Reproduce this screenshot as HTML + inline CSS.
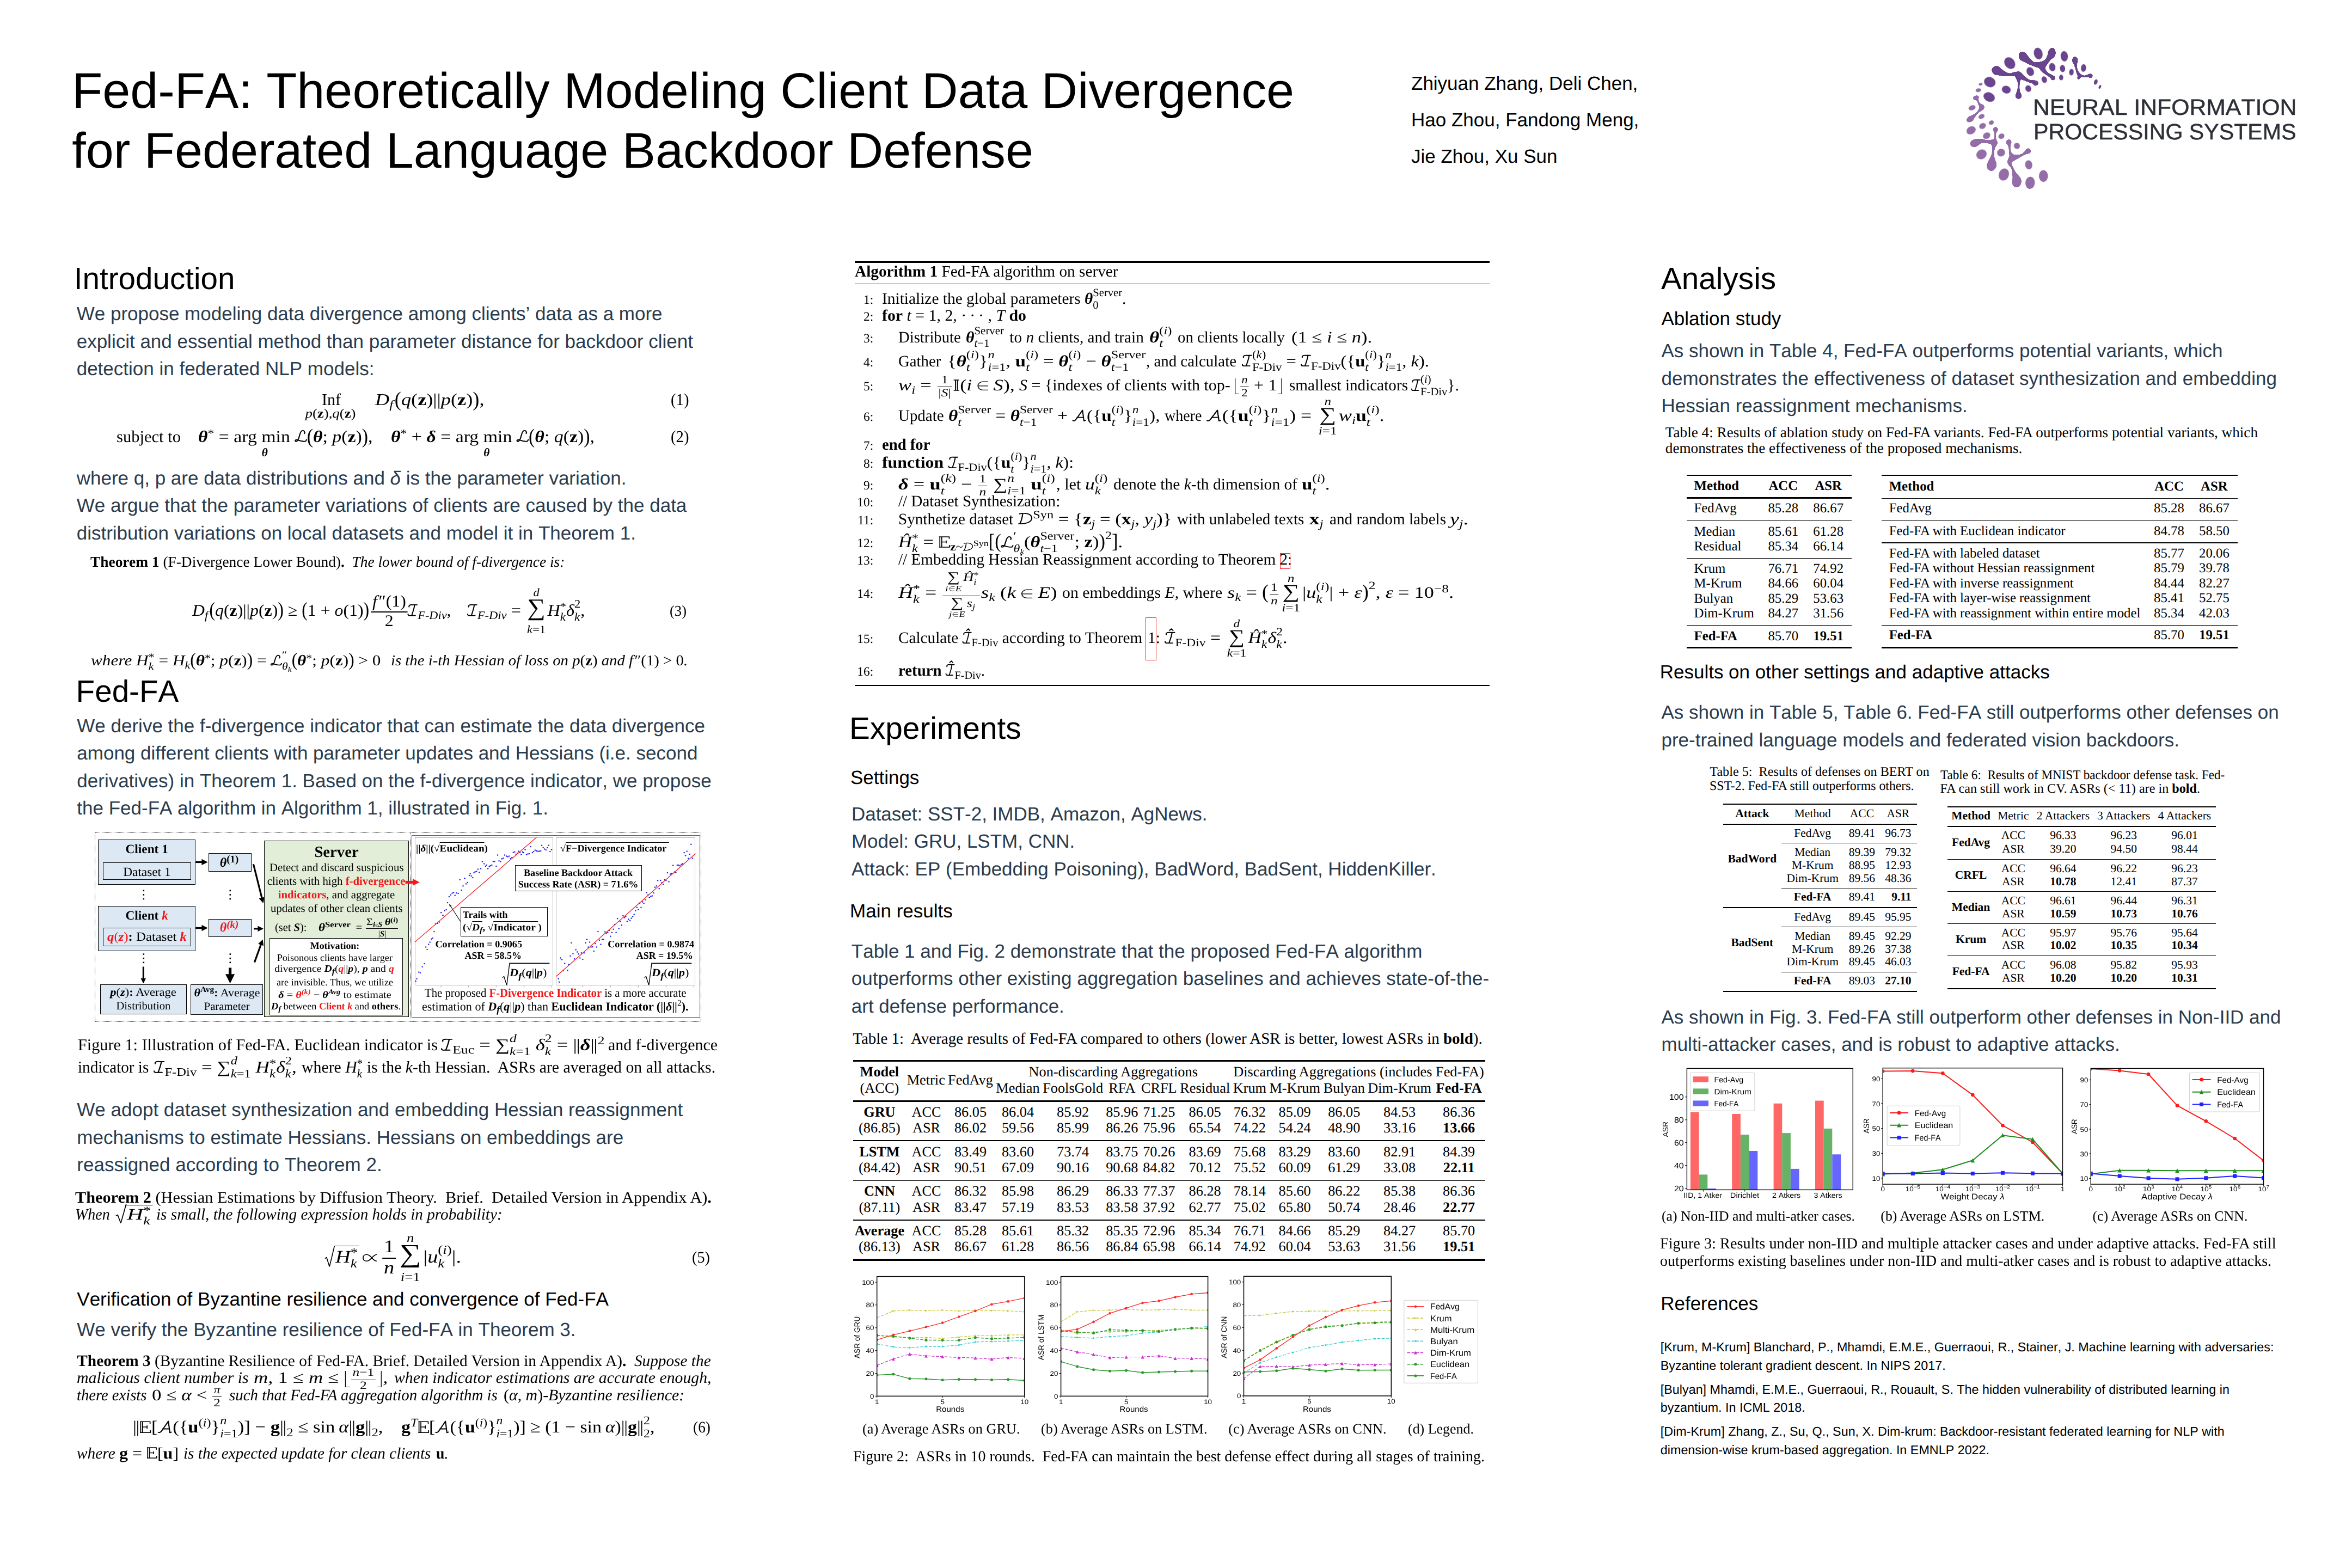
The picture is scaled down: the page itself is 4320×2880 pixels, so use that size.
<!DOCTYPE html>
<html lang="en">
<head>
<meta charset="utf-8">
<title>Fed-FA: Theoretically Modeling Client Data Divergence for Federated Language Backdoor Defense</title>
<style>
html,body{margin:0;padding:0;background:#fff}
#p{font-kerning:none;text-rendering:geometricPrecision;position:relative;width:4320px;height:2880px;overflow:hidden;background:#fff;font-family:"Liberation Sans",sans-serif;color:#000}
.t{position:absolute;white-space:nowrap;line-height:1;transform-origin:0 0}
.t::before{content:"";display:inline-block;height:200px;width:0}
.r{position:absolute}
.s{font-family:"Liberation Serif",serif;font-kerning:normal}
.d{color:#2a3c4e}
b,.bf{font-weight:bold}
i,.it{font-style:italic}
.n{font-style:normal;font-weight:normal}
svg.A{position:absolute;overflow:visible}
svg text{font-family:"Liberation Sans",sans-serif}
/* ---- math helpers ---- */
.m{font-style:italic}
.u{font-style:normal;font-weight:bold}
.bi{font-style:italic;font-weight:bold}
sub,sup{font-size:70%;line-height:0;position:relative;vertical-align:baseline;font-weight:normal}
sup{top:-.52em}
sub{top:.3em}
.ss{display:inline-block;font-size:70%;line-height:1.12;vertical-align:-.42em;text-align:left;font-weight:normal}
.ss>span{display:block}
.fr{display:inline-block;vertical-align:middle;text-align:center;font-size:70%;line-height:1;margin:0 .07em;font-style:normal}
.fr>span{display:block;padding:0 .08em}
.fr>span:first-child{border-bottom:.075em solid #000;padding-bottom:.1em}
.fr>span:last-child{padding-top:.04em}
.op{display:inline-block;text-align:center;vertical-align:-.85em;line-height:1;margin:0 .1em}
.op>span{display:block;font-size:70%;line-height:.724}
.op>.os{font-size:121%;line-height:.9;font-style:normal}
.op>span:last-child{line-height:1.365}
.op.D{vertical-align:-1.05em}
.op.D>span{line-height:.76}
.op.D>.os{font-size:146%;line-height:.9}
.op.D>span:last-child{line-height:1.856}
.lf,.rf{display:inline-block;width:.2em;height:.98em;border-bottom:.06em solid #000;vertical-align:-.25em}
.lf{border-left:.06em solid #000;margin:0 .04em 0 .06em}
.rf{border-right:.06em solid #000;margin:0 .06em 0 .04em}
.bb{position:relative;font-style:normal}
.bb::after{content:"";position:absolute;left:.2em;top:.2em;bottom:.19em;border-left:.05em solid #000}
.sq{position:relative;padding:0 .06em 0 .03em}
.sq::before{content:"";position:absolute;left:-.04em;right:0;top:-.085em;border-top:.055em solid #000}
.st{position:relative;top:.22em}
svg.g{display:inline-block;position:static;overflow:visible;fill:none;stroke:#000}
svg.c{height:1em;vertical-align:-.27em;stroke-linejoin:round}
.big{display:inline-block;transform:scaleY(1.25);transform-origin:50% 62%;font-style:normal}
.sp{display:inline-block}
.nb{font-style:normal;font-weight:normal;letter-spacing:-.04em;margin-right:.04em}

</style>
</head>
<body>
<div id="p">
<div class="t" style="left:132.2px;top:-1.8px;font-size:91.8px;">Fed-FA: Theoretically Modeling Client Data Divergence</div>
<div class="t" style="left:132.2px;top:107.9px;font-size:91.8px;">for Federated Language Backdoor Defense</div>
<div class="t" style="left:2592.0px;top:-35.0px;font-size:35px;">Zhiyuan Zhang, Deli Chen,</div>
<div class="t" style="left:2592.0px;top:31.8px;font-size:35px;">Hao Zhou, Fandong Meng,</div>
<div class="t" style="left:2592.0px;top:98.5px;font-size:35px;">Jie Zhou, Xu Sun</div>
<div class="t" style="left:135.8px;top:331.2px;font-size:56.6px;">Introduction</div>
<div class="t d" style="left:140.7px;top:388.2px;font-size:35px;">We propose modeling data divergence among clients&rsquo; data as a more</div>
<div class="t d" style="left:140.7px;top:438.7px;font-size:35px;">explicit and essential method than parameter distance for backdoor client</div>
<div class="t d" style="left:140.7px;top:489.1px;font-size:35px;">detection in federated NLP models:</div>
<div class="t d" style="left:140.7px;top:690.0px;font-size:35px;">where q, p are data distributions and <i>&delta;</i> is the parameter variation.</div>
<div class="t d" style="left:140.7px;top:740.4px;font-size:35px;">We argue that the parameter variations of clients are caused by the data</div>
<div class="t d" style="left:140.7px;top:790.8px;font-size:35px;">distribution variations on local datasets and model it in Theorem 1.</div>
<div class="t" style="left:139.6px;top:1089.0px;font-size:56.6px;">Fed-FA</div>
<div class="t d" style="left:141.3px;top:1144.5px;font-size:35px;">We derive the f-divergence indicator that can estimate the data divergence</div>
<div class="t d" style="left:141.3px;top:1195.0px;font-size:35px;">among different clients with parameter updates and Hessians (i.e. second</div>
<div class="t d" style="left:141.3px;top:1245.5px;font-size:35px;">derivatives) in Theorem 1. Based on the f-divergence indicator, we propose</div>
<div class="t d" style="left:141.3px;top:1296.0px;font-size:35px;">the Fed-FA algorithm in Algorithm 1, illustrated in Fig. 1.</div>
<div class="t d" style="left:141.3px;top:1850.4px;font-size:35px;">We adopt dataset synthesization and embedding Hessian reassignment</div>
<div class="t d" style="left:141.3px;top:1900.9px;font-size:35px;">mechanisms to estimate Hessians. Hessians on embeddings are</div>
<div class="t d" style="left:141.3px;top:1951.4px;font-size:35px;">reassigned according to Theorem 2.</div>
<div class="t" style="left:141.3px;top:2198.3px;font-size:35px;">Verification of Byzantine resilience and convergence of Fed-FA</div>
<div class="t d" style="left:141.3px;top:2253.7px;font-size:35px;">We verify the Byzantine resilience of Fed-FA in Theorem 3.</div>
<div class="t" style="left:1560.0px;top:1157.1px;font-size:56.8px;">Experiments</div>
<div class="t" style="left:1561.9px;top:1240.0px;font-size:35px;">Settings</div>
<div class="t d" style="left:1563.9px;top:1306.8px;font-size:35px;">Dataset: SST-2, IMDB, Amazon, AgNews.</div>
<div class="t d" style="left:1563.9px;top:1357.3px;font-size:35px;">Model: GRU, LSTM, CNN.</div>
<div class="t d" style="left:1563.9px;top:1407.8px;font-size:35px;">Attack: EP (Embedding Poisoning), BadWord, BadSent, HiddenKiller.</div>
<div class="t" style="left:1561.1px;top:1484.9px;font-size:35px;">Main results</div>
<div class="t d" style="left:1563.8px;top:1558.9px;font-size:35px;">Table 1 and Fig. 2 demonstrate that the proposed Fed-FA algorithm</div>
<div class="t d" style="left:1563.8px;top:1609.3px;font-size:35px;">outperforms other existing aggregation baselines and achieves state-of-the-</div>
<div class="t d" style="left:1563.8px;top:1659.7px;font-size:35px;">art defense performance.</div>
<div class="t" style="left:3051.0px;top:331.2px;font-size:56.7px;">Analysis</div>
<div class="t" style="left:3051.5px;top:396.8px;font-size:35px;">Ablation study</div>
<div class="t d" style="left:3051.5px;top:456.2px;font-size:35px;">As shown in Table 4, Fed-FA outperforms potential variants, which</div>
<div class="t d" style="left:3051.5px;top:506.5px;font-size:35px;">demonstrates the effectiveness of dataset synthesization and embedding</div>
<div class="t d" style="left:3051.5px;top:557.0px;font-size:35px;">Hessian reassignment mechanisms.</div>
<div class="t" style="left:3048.7px;top:1046.3px;font-size:35px;">Results on other settings and adaptive attacks</div>
<div class="t d" style="left:3051.5px;top:1119.8px;font-size:35px;">As shown in Table 5, Table 6. Fed-FA still outperforms other defenses on</div>
<div class="t d" style="left:3051.5px;top:1170.5px;font-size:35px;">pre-trained language models and federated vision backdoors.</div>
<div class="t d" style="left:3051.5px;top:1679.8px;font-size:35px;">As shown in Fig. 3. Fed-FA still outperform other defenses in Non-IID and</div>
<div class="t d" style="left:3051.5px;top:1730.1px;font-size:35px;">multi-attacker cases, and is robust to adaptive attacks.</div>
<div class="t" style="left:3050.2px;top:2206.3px;font-size:35px;">References</div>
<div class="t" style="left:3049.8px;top:2282.1px;font-size:23.33px;">[Krum, M-Krum] Blanchard, P., Mhamdi, E.M.E., Guerraoui, R., Stainer, J. Machine learning with adversaries:</div>
<div class="t" style="left:3049.8px;top:2315.8px;font-size:23.33px;">Byzantine tolerant gradient descent. In NIPS 2017.</div>
<div class="t" style="left:3049.8px;top:2359.5px;font-size:23.33px;">[Bulyan] Mhamdi, E.M.E., Guerraoui, R., Rouault, S. The hidden vulnerability of distributed learning in</div>
<div class="t" style="left:3049.8px;top:2393.2px;font-size:23.33px;">byzantium. In ICML 2018.</div>
<div class="t" style="left:3049.8px;top:2436.8px;font-size:23.33px;">[Dim-Krum] Zhang, Z., Su, Q., Sun, X. Dim-krum: Backdoor-resistant federated learning for NLP with</div>
<div class="t" style="left:3049.8px;top:2470.6px;font-size:23.33px;">dimension-wise krum-based aggregation. In EMNLP 2022.</div>
<svg class="A" width="4320" height="2880" viewBox="0 0 4320 2880" style="left:0;top:0">
<defs><filter id="goo" x="-10%" y="-10%" width="120%" height="120%" color-interpolation-filters="sRGB"><feGaussianBlur in="SourceGraphic" stdDeviation="7"/><feColorMatrix type="matrix" values="1 0 0 0 0  0 1 0 0 0  0 0 1 0 0  0 0 0 9 -4"/></filter></defs>
<g transform="translate(3590 70) scale(0.12755)">
<g fill="#6a448e" filter="url(#goo)"><ellipse cx="988" cy="266" rx="62" ry="76" transform="rotate(-35 988 266)"/><ellipse cx="1400" cy="218" rx="56" ry="80" transform="rotate(8 1400 218)"/><path d="M947 312L952 314L959 318L967 323L975 328L985 333L995 339L1005 345L1015 350L1025 356L1034 360L1041 364L1049 368L1057 371L1064 375L1072 378L1080 382L1088 385L1096 389L1105 392L1113 396L1122 399L1130 402L1139 406L1147 409L1156 412L1164 415L1172 418L1180 420L1188 423L1196 425L1204 427L1213 429L1222 430L1230 431L1239 433L1246 434L1253 435L1259 436L1263 436L1266 437L1264 333L1260 334L1254 335L1248 336L1242 338L1236 339L1229 341L1223 342L1216 344L1210 345L1204 345L1198 346L1191 346L1184 346L1176 347L1169 346L1162 346L1155 345L1149 344L1142 343L1137 340L1132 338L1127 334L1122 330L1117 325L1113 320L1108 315L1103 309L1098 303L1092 296L1086 290L1080 283L1074 276L1066 268L1059 260L1052 251L1045 243L1038 236L1032 229L1027 223L1023 218Z"/><circle cx="985" cy="265" r="60"/><circle cx="1265" cy="385" r="52"/><path d="M1299 428L1301 424L1305 419L1309 413L1314 406L1320 398L1326 390L1332 382L1338 373L1345 365L1350 358L1356 350L1361 343L1366 336L1371 329L1375 323L1380 317L1384 311L1388 306L1393 300L1397 296L1402 290L1407 285L1413 279L1418 274L1424 268L1429 264L1435 259L1439 255L1443 252L1446 249L1354 191L1353 195L1352 200L1350 206L1348 212L1346 219L1344 226L1341 234L1339 241L1336 248L1333 254L1330 261L1327 268L1324 275L1321 281L1318 287L1315 293L1311 299L1308 304L1304 308L1300 312L1295 316L1288 320L1281 325L1273 329L1265 333L1257 336L1249 340L1242 343L1236 346L1231 348Z"/><circle cx="1265" cy="388" r="52"/><circle cx="1400" cy="220" r="54"/><path d="M1207 420L1209 422L1213 426L1217 432L1222 439L1227 446L1233 454L1239 463L1245 471L1252 479L1259 487L1266 493L1273 499L1280 505L1287 510L1294 514L1301 519L1308 523L1315 527L1321 532L1327 536L1333 540L1340 544L1346 549L1352 553L1358 557L1364 560L1369 564L1373 567L1377 570L1380 573L1382 576L1384 578L1386 581L1387 583L1388 586L1389 588L1390 591L1391 593L1392 596L1394 598L1442 550L1441 550L1440 549L1438 548L1435 546L1432 544L1428 542L1424 539L1420 537L1415 534L1410 531L1405 528L1399 525L1393 522L1387 520L1381 517L1375 514L1369 511L1363 508L1358 504L1353 500L1348 496L1343 491L1337 486L1332 481L1328 476L1323 470L1319 465L1316 460L1313 454L1311 449L1310 444L1309 438L1308 431L1307 423L1306 415L1306 407L1305 400L1305 393L1304 386L1303 380Z"/><circle cx="1255" cy="400" r="52"/><circle cx="1418" cy="574" r="34"/><ellipse cx="607" cy="468" rx="74" ry="66" transform="rotate(25 607 468)"/><path d="M582 525L587 526L595 527L604 529L615 532L626 534L639 537L651 539L664 542L676 544L687 546L698 547L708 548L719 549L729 549L740 550L750 550L760 550L770 550L779 550L789 550L798 550L807 549L816 549L824 548L832 547L839 547L846 547L852 547L857 547L862 548L867 549L873 551L879 552L886 555L892 557L898 559L904 561L909 563L914 565L918 566L926 478L922 479L918 479L912 480L906 481L899 482L891 483L883 484L875 485L867 487L858 488L850 490L842 492L835 495L828 498L822 501L815 503L809 505L803 506L797 506L791 506L784 505L777 503L769 500L761 497L753 493L745 489L737 484L729 479L720 475L713 470L705 465L697 459L688 453L679 446L669 439L660 432L652 426L644 420L638 415L632 411Z"/><circle cx="607" cy="468" r="62"/><circle cx="922" cy="522" r="44"/><path d="M904 570L910 572L917 575L925 579L934 583L945 587L955 592L966 597L976 601L987 605L996 609L1004 613L1012 616L1021 619L1029 622L1036 625L1044 628L1052 631L1059 633L1066 636L1073 639L1080 641L1087 644L1094 646L1100 648L1106 650L1112 652L1117 653L1121 655L1124 657L1127 659L1129 661L1132 663L1134 665L1137 668L1139 671L1141 673L1143 676L1145 678L1148 681L1150 683L1186 613L1184 613L1182 613L1179 613L1175 612L1171 611L1166 610L1161 609L1155 607L1150 606L1143 605L1137 605L1131 604L1125 604L1119 604L1113 605L1108 605L1103 604L1097 604L1092 603L1087 601L1081 599L1075 596L1069 593L1063 589L1057 585L1050 581L1044 576L1037 571L1031 566L1024 561L1018 555L1010 548L1002 541L995 533L987 525L979 518L972 510L966 504L960 498L956 494Z"/><circle cx="930" cy="532" r="46"/><circle cx="1168" cy="648" r="39"/><path d="M879 562L881 568L884 574L887 582L891 591L895 601L899 611L902 621L906 631L908 641L910 650L911 659L911 668L911 677L911 687L910 696L909 705L908 714L907 723L905 731L904 739L902 747L901 754L898 760L896 766L894 773L891 778L889 784L887 790L885 795L883 800L882 806L881 811L880 816L879 821L878 825L878 829L878 832L877 834L877 836L876 837L968 827L967 825L966 822L965 820L964 817L962 815L961 812L959 809L958 806L956 803L955 800L953 795L952 791L950 786L948 780L946 775L944 769L942 762L940 755L939 748L938 741L937 733L937 725L937 716L936 707L936 698L937 688L937 678L938 669L939 659L940 650L942 640L944 630L946 619L949 608L952 598L954 588L957 578L959 570L961 563L963 558Z"/><circle cx="921" cy="560" r="42"/><circle cx="922" cy="832" r="46"/><ellipse cx="1735" cy="322" rx="42" ry="58" transform="rotate(-5 1735 322)"/><path d="M1697 333L1699 337L1701 342L1704 348L1707 356L1710 363L1714 371L1717 380L1721 388L1724 396L1726 403L1729 411L1731 418L1733 425L1735 432L1738 439L1740 447L1742 454L1744 461L1746 468L1748 475L1750 482L1752 489L1754 496L1755 503L1757 510L1759 516L1761 523L1764 529L1767 535L1771 541L1775 546L1781 551L1786 555L1792 557L1797 559L1801 561L1805 562L1809 563L1811 563L1812 563L1832 529L1830 527L1827 525L1824 523L1821 521L1819 519L1816 516L1814 514L1812 513L1811 511L1809 509L1807 507L1804 504L1801 500L1797 496L1793 492L1789 487L1785 482L1782 476L1779 471L1776 465L1774 459L1772 453L1770 446L1769 440L1767 433L1766 426L1765 418L1764 411L1764 404L1764 397L1764 389L1764 381L1765 373L1766 364L1767 356L1769 348L1770 340L1771 334L1772 328L1773 323Z"/><circle cx="1735" cy="328" r="38"/><circle cx="1822" cy="546" r="20"/><path d="M1797 564L1801 564L1806 564L1813 564L1821 564L1829 564L1838 565L1846 565L1855 565L1863 565L1870 565L1877 565L1883 564L1890 564L1896 563L1901 562L1906 562L1911 561L1915 561L1919 561L1922 562L1926 563L1930 564L1934 565L1938 566L1941 568L1945 569L1948 571L1952 572L1955 573L1957 574L1959 510L1957 511L1954 512L1951 513L1947 514L1943 515L1938 516L1933 518L1928 519L1923 521L1918 522L1912 524L1907 526L1902 528L1897 531L1893 533L1889 535L1884 537L1880 538L1875 539L1870 539L1864 538L1858 537L1850 535L1843 533L1835 531L1827 528L1820 526L1813 523L1808 522L1803 520Z"/><circle cx="1800" cy="542" r="22"/><circle cx="1958" cy="542" r="32"/><path d="M1777 537L1776 539L1775 542L1774 545L1773 548L1772 552L1770 556L1769 560L1768 563L1767 566L1766 568L1804 582L1804 581L1806 578L1807 575L1809 571L1810 568L1812 564L1814 561L1815 558L1817 555L1817 553Z"/><circle cx="1797" cy="545" r="22"/><circle cx="1785" cy="575" r="20"/></g>
<g fill="#936ca8" filter="url(#goo)"><ellipse cx="308" cy="858" rx="46" ry="32" transform="rotate(-20 308 858)"/><path d="M285 876L287 878L291 881L294 883L299 886L303 889L307 892L312 895L316 899L319 903L322 906L325 910L327 914L329 919L331 923L332 929L334 934L335 940L337 946L339 952L342 959L345 966L349 974L353 981L357 987L360 993L361 998L360 1002L358 1001L355 997L354 990L356 987L357 989L356 994L354 1001L351 1009L348 1018L344 1027L339 1035L334 1043L330 1051L325 1057L321 1062L316 1067L311 1071L306 1076L300 1080L295 1084L289 1087L283 1091L277 1095L270 1099L262 1103L253 1108L245 1112L236 1116L227 1119L219 1123L212 1126L206 1129L201 1131L255 1195L258 1191L261 1185L266 1179L271 1172L276 1164L282 1155L287 1147L293 1139L298 1132L303 1125L308 1119L313 1113L317 1107L321 1101L326 1096L330 1090L335 1085L340 1080L345 1075L350 1069L357 1065L364 1060L373 1055L382 1050L391 1045L401 1040L410 1033L418 1025L425 1015L430 1000L429 983L422 968L414 959L405 953L396 950L389 947L382 946L376 944L372 943L368 941L366 938L363 935L360 930L358 926L356 921L354 916L353 910L351 905L349 899L348 894L346 888L344 882L342 877L341 871L340 865L338 859L337 854L336 850L336 846L335 844Z"/><circle cx="310" cy="860" r="30"/><circle cx="228" cy="1163" r="42"/><ellipse cx="228" cy="1165" rx="62" ry="40" transform="rotate(-30 228 1165)"/><ellipse cx="292" cy="1512" rx="72" ry="55" transform="rotate(-20 292 1512)"/><ellipse cx="535" cy="1828" rx="70" ry="86" transform="rotate(15 535 1828)"/><path d="M553 1313L554 1317L556 1322L558 1328L561 1335L563 1342L566 1350L568 1358L570 1365L572 1373L573 1380L574 1386L575 1392L575 1399L575 1405L576 1411L575 1416L575 1422L574 1428L573 1433L571 1439L569 1444L566 1450L562 1457L558 1463L553 1469L549 1475L545 1480L541 1485L538 1489L536 1493L614 1507L613 1503L612 1499L610 1493L609 1486L607 1479L605 1471L603 1463L601 1456L600 1448L599 1441L598 1435L597 1428L596 1422L596 1416L595 1410L595 1404L595 1398L595 1392L596 1386L597 1380L599 1374L601 1367L605 1360L608 1353L612 1346L616 1340L619 1333L622 1328L625 1323L627 1319Z"/><circle cx="590" cy="1316" r="37"/><circle cx="575" cy="1500" r="40"/><path d="M313 1559L318 1556L325 1552L332 1547L340 1542L348 1537L356 1532L364 1527L372 1523L379 1519L384 1517L390 1515L396 1513L402 1512L409 1511L417 1510L425 1510L433 1510L441 1511L449 1511L458 1512L466 1513L473 1514L481 1516L488 1518L495 1520L502 1522L509 1524L515 1527L520 1529L525 1531L530 1533L535 1535L539 1537L544 1539L548 1541L552 1543L556 1545L559 1546L563 1548L566 1549L584 1461L582 1461L579 1461L575 1461L571 1461L566 1461L560 1461L554 1461L548 1461L541 1461L535 1461L528 1462L521 1463L514 1464L507 1465L499 1466L492 1467L484 1468L477 1468L469 1468L462 1468L455 1467L448 1465L441 1463L433 1460L425 1458L416 1455L407 1452L397 1450L387 1448L376 1447L364 1448L352 1449L340 1450L328 1452L317 1454L306 1456L297 1458L288 1459L282 1460L277 1461Z"/><circle cx="295" cy="1510" r="52"/><circle cx="575" cy="1505" r="45"/><path d="M527 1504L528 1510L530 1517L532 1525L534 1535L536 1545L538 1556L539 1567L541 1578L542 1588L542 1598L542 1607L542 1616L541 1626L540 1635L539 1644L537 1653L535 1662L533 1671L531 1679L528 1687L525 1696L522 1704L517 1712L513 1719L509 1727L504 1735L500 1742L495 1750L492 1757L488 1764L485 1772L483 1779L480 1786L478 1794L476 1800L474 1807L473 1812L471 1817L470 1822L469 1825L601 1835L600 1831L600 1827L599 1822L598 1816L598 1810L597 1803L596 1796L594 1789L593 1782L592 1776L590 1769L588 1761L586 1753L583 1745L581 1737L578 1728L576 1719L574 1710L573 1701L572 1693L571 1684L571 1675L571 1666L571 1657L571 1647L572 1638L573 1629L574 1620L576 1611L578 1602L581 1593L584 1583L588 1573L593 1563L598 1554L602 1544L607 1536L611 1528L614 1521L617 1516Z"/><circle cx="572" cy="1510" r="45"/><circle cx="535" cy="1830" r="66"/><ellipse cx="895" cy="2068" rx="68" ry="85" transform="rotate(8 895 2068)"/><path d="M741 1503L744 1507L747 1512L750 1518L754 1525L758 1532L763 1540L767 1548L770 1556L774 1564L776 1572L778 1579L779 1587L780 1595L780 1603L781 1612L781 1620L781 1629L781 1638L782 1646L783 1655L784 1665L786 1674L788 1684L790 1694L792 1703L794 1712L796 1720L797 1727L798 1732L799 1736L871 1694L868 1690L862 1686L857 1682L851 1677L844 1672L838 1667L831 1661L826 1656L821 1650L817 1645L814 1639L812 1632L809 1625L808 1617L806 1609L805 1601L804 1593L804 1585L804 1576L804 1568L804 1560L806 1552L807 1543L809 1534L811 1526L814 1518L816 1510L818 1503L820 1497L821 1493Z"/><circle cx="781" cy="1498" r="40"/><circle cx="835" cy="1715" r="42"/><path d="M1037 1592L1035 1596L1031 1601L1027 1606L1023 1612L1018 1619L1013 1626L1008 1633L1002 1639L997 1645L991 1649L985 1654L979 1658L972 1662L965 1665L958 1668L951 1671L944 1674L937 1676L930 1678L923 1679L915 1680L906 1680L897 1680L888 1680L878 1679L869 1678L860 1678L852 1677L845 1676L840 1676L860 1764L864 1761L870 1758L877 1754L885 1750L893 1745L902 1740L911 1735L920 1730L929 1725L937 1721L945 1716L953 1712L960 1708L967 1703L974 1699L981 1695L988 1691L995 1687L1002 1684L1009 1681L1017 1677L1025 1674L1034 1672L1042 1669L1051 1666L1059 1664L1066 1662L1073 1661L1078 1659L1083 1658Z"/><circle cx="1060" cy="1625" r="40"/><circle cx="850" cy="1720" r="45"/><path d="M791 1697L790 1700L789 1704L785 1711L781 1719L776 1728L771 1739L766 1750L763 1762L760 1775L760 1790L763 1803L768 1814L774 1824L781 1832L788 1840L795 1848L801 1855L807 1862L812 1870L815 1877L818 1884L821 1892L823 1900L825 1909L827 1917L828 1925L829 1934L830 1943L831 1952L832 1961L833 1970L833 1980L834 1989L834 1999L834 2009L834 2018L834 2027L833 2035L833 2042L832 2047L832 2050L831 2053L831 2055L831 2057L831 2059L831 2061L831 2064L831 2067L831 2072L831 2075L959 2065L959 2064L959 2063L959 2061L958 2056L958 2051L957 2044L956 2037L954 2030L951 2021L948 2013L943 2006L938 1998L932 1991L926 1983L919 1976L912 1969L906 1961L899 1954L893 1947L888 1939L883 1932L878 1925L874 1918L869 1911L865 1903L860 1895L856 1888L852 1880L848 1872L845 1863L840 1854L836 1845L831 1836L827 1827L823 1818L821 1810L819 1802L818 1796L819 1792L820 1790L822 1790L825 1788L828 1785L833 1781L839 1777L845 1772L852 1768L858 1763L864 1758L869 1753Z"/><circle cx="830" cy="1725" r="48"/><circle cx="895" cy="2070" r="64"/></g>
<g fill="#6a448e"><ellipse cx="1205" cy="222" rx="62" ry="85" transform="rotate(-15 1205 222)"/><ellipse cx="1580" cy="262" rx="52" ry="75" transform="rotate(-5 1580 262)"/><ellipse cx="795" cy="360" rx="72" ry="90" transform="rotate(-38 795 360)"/><ellipse cx="1407" cy="418" rx="45" ry="60" transform="rotate(-10 1407 418)"/><ellipse cx="1555" cy="438" rx="38" ry="52" transform="rotate(-5 1555 438)"/><ellipse cx="1090" cy="482" rx="52" ry="65" transform="rotate(-25 1090 482)"/><ellipse cx="1683" cy="490" rx="33" ry="47" transform="rotate(5 1683 490)"/><ellipse cx="1857" cy="430" rx="37" ry="55" transform="rotate(5 1857 430)"/><ellipse cx="1292" cy="598" rx="38" ry="48" transform="rotate(-15 1292 598)"/><ellipse cx="1535" cy="568" rx="30" ry="40" transform="rotate(0 1535 568)"/><ellipse cx="507" cy="633" rx="85" ry="72" transform="rotate(25 507 633)"/><ellipse cx="745" cy="742" rx="65" ry="55" transform="rotate(20 745 742)"/><ellipse cx="1062" cy="727" rx="42" ry="48" transform="rotate(-20 1062 727)"/><ellipse cx="498" cy="848" rx="85" ry="65" transform="rotate(25 498 848)"/><ellipse cx="2033" cy="632" rx="25" ry="40" transform="rotate(20 2033 632)"/><ellipse cx="2093" cy="702" rx="16" ry="28" transform="rotate(25 2093 702)"/></g>
<g fill="#936ca8"><ellipse cx="375" cy="663" rx="28" ry="18" transform="rotate(-15 375 663)"/><ellipse cx="342" cy="750" rx="40" ry="27" transform="rotate(-10 342 750)"/><ellipse cx="252" cy="1003" rx="52" ry="35" transform="rotate(-20 252 1003)"/><ellipse cx="388" cy="1128" rx="45" ry="33" transform="rotate(-25 388 1128)"/><ellipse cx="530" cy="1217" rx="38" ry="30" transform="rotate(-25 530 1217)"/><ellipse cx="403" cy="1265" rx="50" ry="40" transform="rotate(-30 403 1265)"/><ellipse cx="238" cy="1328" rx="70" ry="55" transform="rotate(-30 238 1328)"/><ellipse cx="462" cy="1405" rx="55" ry="45" transform="rotate(-30 462 1405)"/><ellipse cx="675" cy="1413" rx="45" ry="38" transform="rotate(-30 675 1413)"/><ellipse cx="898" cy="1552" rx="43" ry="45" transform="rotate(-20 898 1552)"/><ellipse cx="388" cy="1674" rx="78" ry="68" transform="rotate(-35 388 1674)"/><ellipse cx="670" cy="1649" rx="58" ry="55" transform="rotate(-30 670 1649)"/><ellipse cx="1068" cy="1824" rx="52" ry="65" transform="rotate(-10 1068 1824)"/><ellipse cx="710" cy="1964" rx="72" ry="88" transform="rotate(20 710 1964)"/><ellipse cx="1280" cy="1986" rx="65" ry="85" transform="rotate(0 1280 1986)"/><ellipse cx="1088" cy="2084" rx="68" ry="88" transform="rotate(5 1088 2084)"/></g>
</g>
</svg>
<div class="t" style="left:3734.0px;top:10.9px;font-size:41px;transform:scaleX(1.0426);color:#2e3037;-webkit-text-stroke:.5px #2e3037">NEURAL INFORMATION</div>
<div class="t" style="left:3735.0px;top:55.9px;font-size:41px;transform:scaleX(1.0037);color:#2e3037;-webkit-text-stroke:.5px #2e3037">PROCESSING SYSTEMS</div>
<div class="t s" style="left:1566.3px;top:1716.5px;font-size:29px;">Table 1:&nbsp; Average results of Fed-FA compared to others (lower ASR is better, lowest ASRs in <b>bold</b>).</div>
<div class="r" style="left:1567.0px;top:1946.9px;width:1160.5px;height:3.4px;background:#000"></div>
<div class="r" style="left:1567.0px;top:2020.9px;width:1160.5px;height:3.0px;background:#000"></div>
<div class="r" style="left:1567.0px;top:2094.3px;width:1160.5px;height:1.5px;background:#000"></div>
<div class="r" style="left:1567.0px;top:2167.7px;width:1160.5px;height:1.5px;background:#000"></div>
<div class="r" style="left:1567.0px;top:2240.1px;width:1160.5px;height:1.5px;background:#000"></div>
<div class="r" style="left:1567.0px;top:2312.2px;width:1160.5px;height:3.4px;background:#000"></div>
<div class="t s" style="left:1615.4px;top:1777.0px;font-size:26.3px;transform:translateX(-50%);transform-origin:50% 0;"><b>Model</b></div>
<div class="t s" style="left:1615.4px;top:1806.5px;font-size:26.3px;transform:translateX(-50%);transform-origin:50% 0;">(ACC)</div>
<div class="t s" style="left:1700.8px;top:1791.8px;font-size:26.3px;transform:translateX(-50%);transform-origin:50% 0;">Metric</div>
<div class="t s" style="left:1782.5px;top:1791.8px;font-size:26.3px;transform:translateX(-50%);transform-origin:50% 0;">FedAvg</div>
<div class="t s" style="left:2044.7px;top:1777.0px;font-size:26.3px;transform:translateX(-50%);transform-origin:50% 0;">Non-discarding Aggregations</div>
<div class="t s" style="left:2495.5px;top:1777.0px;font-size:26.3px;transform:translateX(-50%);transform-origin:50% 0;">Discarding Aggregations (includes Fed-FA)</div>
<div class="t s" style="left:1869.5px;top:1806.5px;font-size:26.3px;transform:translateX(-50%);transform-origin:50% 0;">Median</div>
<div class="t s" style="left:1970.7px;top:1806.5px;font-size:26.3px;transform:translateX(-50%);transform-origin:50% 0;">FoolsGold</div>
<div class="t s" style="left:2060.8px;top:1806.5px;font-size:26.3px;transform:translateX(-50%);transform-origin:50% 0;">RFA</div>
<div class="t s" style="left:2128.8px;top:1806.5px;font-size:26.3px;transform:translateX(-50%);transform-origin:50% 0;">CRFL</div>
<div class="t s" style="left:2213.2px;top:1806.5px;font-size:26.3px;transform:translateX(-50%);transform-origin:50% 0;">Residual</div>
<div class="t s" style="left:2295.4px;top:1806.5px;font-size:26.3px;transform:translateX(-50%);transform-origin:50% 0;">Krum</div>
<div class="t s" style="left:2378.2px;top:1806.5px;font-size:26.3px;transform:translateX(-50%);transform-origin:50% 0;">M-Krum</div>
<div class="t s" style="left:2468.8px;top:1806.5px;font-size:26.3px;transform:translateX(-50%);transform-origin:50% 0;">Bulyan</div>
<div class="t s" style="left:2570.6px;top:1806.5px;font-size:26.3px;transform:translateX(-50%);transform-origin:50% 0;">Dim-Krum</div>
<div class="t s" style="left:2679.7px;top:1806.5px;font-size:26.3px;transform:translateX(-50%);transform-origin:50% 0;"><b>Fed-FA</b></div>
<div class="t s" style="left:1615.4px;top:1850.8px;font-size:26.3px;transform:translateX(-50%);transform-origin:50% 0;"><b>GRU</b></div>
<div class="t s" style="left:1615.4px;top:1880.3px;font-size:26.3px;transform:translateX(-50%);transform-origin:50% 0;">(86.85)</div>
<div class="t s" style="left:1701.5px;top:1850.8px;font-size:26.3px;transform:translateX(-50%);transform-origin:50% 0;">ACC</div>
<div class="t s" style="left:1701.5px;top:1880.3px;font-size:26.3px;transform:translateX(-50%);transform-origin:50% 0;">ASR</div>
<div class="t s" style="left:1782.5px;top:1850.8px;font-size:26.3px;transform:translateX(-50%);transform-origin:50% 0;">86.05</div>
<div class="t s" style="left:1869.5px;top:1850.8px;font-size:26.3px;transform:translateX(-50%);transform-origin:50% 0;">86.04</div>
<div class="t s" style="left:1970.7px;top:1850.8px;font-size:26.3px;transform:translateX(-50%);transform-origin:50% 0;">85.92</div>
<div class="t s" style="left:2060.8px;top:1850.8px;font-size:26.3px;transform:translateX(-50%);transform-origin:50% 0;">85.96</div>
<div class="t s" style="left:2128.8px;top:1850.8px;font-size:26.3px;transform:translateX(-50%);transform-origin:50% 0;">71.25</div>
<div class="t s" style="left:2213.2px;top:1850.8px;font-size:26.3px;transform:translateX(-50%);transform-origin:50% 0;">86.05</div>
<div class="t s" style="left:2295.4px;top:1850.8px;font-size:26.3px;transform:translateX(-50%);transform-origin:50% 0;">76.32</div>
<div class="t s" style="left:2378.2px;top:1850.8px;font-size:26.3px;transform:translateX(-50%);transform-origin:50% 0;">85.09</div>
<div class="t s" style="left:2468.8px;top:1850.8px;font-size:26.3px;transform:translateX(-50%);transform-origin:50% 0;">86.05</div>
<div class="t s" style="left:2570.6px;top:1850.8px;font-size:26.3px;transform:translateX(-50%);transform-origin:50% 0;">84.53</div>
<div class="t s" style="left:2679.7px;top:1850.8px;font-size:26.3px;transform:translateX(-50%);transform-origin:50% 0;">86.36</div>
<div class="t s" style="left:1782.5px;top:1880.3px;font-size:26.3px;transform:translateX(-50%);transform-origin:50% 0;">86.02</div>
<div class="t s" style="left:1869.5px;top:1880.3px;font-size:26.3px;transform:translateX(-50%);transform-origin:50% 0;">59.56</div>
<div class="t s" style="left:1970.7px;top:1880.3px;font-size:26.3px;transform:translateX(-50%);transform-origin:50% 0;">85.99</div>
<div class="t s" style="left:2060.8px;top:1880.3px;font-size:26.3px;transform:translateX(-50%);transform-origin:50% 0;">86.26</div>
<div class="t s" style="left:2128.8px;top:1880.3px;font-size:26.3px;transform:translateX(-50%);transform-origin:50% 0;">75.96</div>
<div class="t s" style="left:2213.2px;top:1880.3px;font-size:26.3px;transform:translateX(-50%);transform-origin:50% 0;">65.54</div>
<div class="t s" style="left:2295.4px;top:1880.3px;font-size:26.3px;transform:translateX(-50%);transform-origin:50% 0;">74.22</div>
<div class="t s" style="left:2378.2px;top:1880.3px;font-size:26.3px;transform:translateX(-50%);transform-origin:50% 0;">54.24</div>
<div class="t s" style="left:2468.8px;top:1880.3px;font-size:26.3px;transform:translateX(-50%);transform-origin:50% 0;">48.90</div>
<div class="t s" style="left:2570.6px;top:1880.3px;font-size:26.3px;transform:translateX(-50%);transform-origin:50% 0;">33.16</div>
<div class="t s" style="left:2679.7px;top:1880.3px;font-size:26.3px;transform:translateX(-50%);transform-origin:50% 0;"><b>13.66</b></div>
<div class="t s" style="left:1615.4px;top:1923.6px;font-size:26.3px;transform:translateX(-50%);transform-origin:50% 0;"><b>LSTM</b></div>
<div class="t s" style="left:1615.4px;top:1952.9px;font-size:26.3px;transform:translateX(-50%);transform-origin:50% 0;">(84.42)</div>
<div class="t s" style="left:1701.5px;top:1923.6px;font-size:26.3px;transform:translateX(-50%);transform-origin:50% 0;">ACC</div>
<div class="t s" style="left:1701.5px;top:1952.9px;font-size:26.3px;transform:translateX(-50%);transform-origin:50% 0;">ASR</div>
<div class="t s" style="left:1782.5px;top:1923.6px;font-size:26.3px;transform:translateX(-50%);transform-origin:50% 0;">83.49</div>
<div class="t s" style="left:1869.5px;top:1923.6px;font-size:26.3px;transform:translateX(-50%);transform-origin:50% 0;">83.60</div>
<div class="t s" style="left:1970.7px;top:1923.6px;font-size:26.3px;transform:translateX(-50%);transform-origin:50% 0;">73.74</div>
<div class="t s" style="left:2060.8px;top:1923.6px;font-size:26.3px;transform:translateX(-50%);transform-origin:50% 0;">83.75</div>
<div class="t s" style="left:2128.8px;top:1923.6px;font-size:26.3px;transform:translateX(-50%);transform-origin:50% 0;">70.26</div>
<div class="t s" style="left:2213.2px;top:1923.6px;font-size:26.3px;transform:translateX(-50%);transform-origin:50% 0;">83.69</div>
<div class="t s" style="left:2295.4px;top:1923.6px;font-size:26.3px;transform:translateX(-50%);transform-origin:50% 0;">75.68</div>
<div class="t s" style="left:2378.2px;top:1923.6px;font-size:26.3px;transform:translateX(-50%);transform-origin:50% 0;">83.29</div>
<div class="t s" style="left:2468.8px;top:1923.6px;font-size:26.3px;transform:translateX(-50%);transform-origin:50% 0;">83.60</div>
<div class="t s" style="left:2570.6px;top:1923.6px;font-size:26.3px;transform:translateX(-50%);transform-origin:50% 0;">82.91</div>
<div class="t s" style="left:2679.7px;top:1923.6px;font-size:26.3px;transform:translateX(-50%);transform-origin:50% 0;">84.39</div>
<div class="t s" style="left:1782.5px;top:1952.9px;font-size:26.3px;transform:translateX(-50%);transform-origin:50% 0;">90.51</div>
<div class="t s" style="left:1869.5px;top:1952.9px;font-size:26.3px;transform:translateX(-50%);transform-origin:50% 0;">67.09</div>
<div class="t s" style="left:1970.7px;top:1952.9px;font-size:26.3px;transform:translateX(-50%);transform-origin:50% 0;">90.16</div>
<div class="t s" style="left:2060.8px;top:1952.9px;font-size:26.3px;transform:translateX(-50%);transform-origin:50% 0;">90.68</div>
<div class="t s" style="left:2128.8px;top:1952.9px;font-size:26.3px;transform:translateX(-50%);transform-origin:50% 0;">84.82</div>
<div class="t s" style="left:2213.2px;top:1952.9px;font-size:26.3px;transform:translateX(-50%);transform-origin:50% 0;">70.12</div>
<div class="t s" style="left:2295.4px;top:1952.9px;font-size:26.3px;transform:translateX(-50%);transform-origin:50% 0;">75.52</div>
<div class="t s" style="left:2378.2px;top:1952.9px;font-size:26.3px;transform:translateX(-50%);transform-origin:50% 0;">60.09</div>
<div class="t s" style="left:2468.8px;top:1952.9px;font-size:26.3px;transform:translateX(-50%);transform-origin:50% 0;">61.29</div>
<div class="t s" style="left:2570.6px;top:1952.9px;font-size:26.3px;transform:translateX(-50%);transform-origin:50% 0;">33.08</div>
<div class="t s" style="left:2679.7px;top:1952.9px;font-size:26.3px;transform:translateX(-50%);transform-origin:50% 0;"><b>22.11</b></div>
<div class="t s" style="left:1615.4px;top:1996.3px;font-size:26.3px;transform:translateX(-50%);transform-origin:50% 0;"><b>CNN</b></div>
<div class="t s" style="left:1615.4px;top:2025.6px;font-size:26.3px;transform:translateX(-50%);transform-origin:50% 0;">(87.11)</div>
<div class="t s" style="left:1701.5px;top:1996.3px;font-size:26.3px;transform:translateX(-50%);transform-origin:50% 0;">ACC</div>
<div class="t s" style="left:1701.5px;top:2025.6px;font-size:26.3px;transform:translateX(-50%);transform-origin:50% 0;">ASR</div>
<div class="t s" style="left:1782.5px;top:1996.3px;font-size:26.3px;transform:translateX(-50%);transform-origin:50% 0;">86.32</div>
<div class="t s" style="left:1869.5px;top:1996.3px;font-size:26.3px;transform:translateX(-50%);transform-origin:50% 0;">85.98</div>
<div class="t s" style="left:1970.7px;top:1996.3px;font-size:26.3px;transform:translateX(-50%);transform-origin:50% 0;">86.29</div>
<div class="t s" style="left:2060.8px;top:1996.3px;font-size:26.3px;transform:translateX(-50%);transform-origin:50% 0;">86.33</div>
<div class="t s" style="left:2128.8px;top:1996.3px;font-size:26.3px;transform:translateX(-50%);transform-origin:50% 0;">77.37</div>
<div class="t s" style="left:2213.2px;top:1996.3px;font-size:26.3px;transform:translateX(-50%);transform-origin:50% 0;">86.28</div>
<div class="t s" style="left:2295.4px;top:1996.3px;font-size:26.3px;transform:translateX(-50%);transform-origin:50% 0;">78.14</div>
<div class="t s" style="left:2378.2px;top:1996.3px;font-size:26.3px;transform:translateX(-50%);transform-origin:50% 0;">85.60</div>
<div class="t s" style="left:2468.8px;top:1996.3px;font-size:26.3px;transform:translateX(-50%);transform-origin:50% 0;">86.22</div>
<div class="t s" style="left:2570.6px;top:1996.3px;font-size:26.3px;transform:translateX(-50%);transform-origin:50% 0;">85.38</div>
<div class="t s" style="left:2679.7px;top:1996.3px;font-size:26.3px;transform:translateX(-50%);transform-origin:50% 0;">86.36</div>
<div class="t s" style="left:1782.5px;top:2025.6px;font-size:26.3px;transform:translateX(-50%);transform-origin:50% 0;">83.47</div>
<div class="t s" style="left:1869.5px;top:2025.6px;font-size:26.3px;transform:translateX(-50%);transform-origin:50% 0;">57.19</div>
<div class="t s" style="left:1970.7px;top:2025.6px;font-size:26.3px;transform:translateX(-50%);transform-origin:50% 0;">83.53</div>
<div class="t s" style="left:2060.8px;top:2025.6px;font-size:26.3px;transform:translateX(-50%);transform-origin:50% 0;">83.58</div>
<div class="t s" style="left:2128.8px;top:2025.6px;font-size:26.3px;transform:translateX(-50%);transform-origin:50% 0;">37.92</div>
<div class="t s" style="left:2213.2px;top:2025.6px;font-size:26.3px;transform:translateX(-50%);transform-origin:50% 0;">62.77</div>
<div class="t s" style="left:2295.4px;top:2025.6px;font-size:26.3px;transform:translateX(-50%);transform-origin:50% 0;">75.02</div>
<div class="t s" style="left:2378.2px;top:2025.6px;font-size:26.3px;transform:translateX(-50%);transform-origin:50% 0;">65.80</div>
<div class="t s" style="left:2468.8px;top:2025.6px;font-size:26.3px;transform:translateX(-50%);transform-origin:50% 0;">50.74</div>
<div class="t s" style="left:2570.6px;top:2025.6px;font-size:26.3px;transform:translateX(-50%);transform-origin:50% 0;">28.46</div>
<div class="t s" style="left:2679.7px;top:2025.6px;font-size:26.3px;transform:translateX(-50%);transform-origin:50% 0;"><b>22.77</b></div>
<div class="t s" style="left:1615.4px;top:2069.0px;font-size:26.3px;transform:translateX(-50%);transform-origin:50% 0;"><b>Average</b></div>
<div class="t s" style="left:1615.4px;top:2098.4px;font-size:26.3px;transform:translateX(-50%);transform-origin:50% 0;">(86.13)</div>
<div class="t s" style="left:1701.5px;top:2069.0px;font-size:26.3px;transform:translateX(-50%);transform-origin:50% 0;">ACC</div>
<div class="t s" style="left:1701.5px;top:2098.4px;font-size:26.3px;transform:translateX(-50%);transform-origin:50% 0;">ASR</div>
<div class="t s" style="left:1782.5px;top:2069.0px;font-size:26.3px;transform:translateX(-50%);transform-origin:50% 0;">85.28</div>
<div class="t s" style="left:1869.5px;top:2069.0px;font-size:26.3px;transform:translateX(-50%);transform-origin:50% 0;">85.61</div>
<div class="t s" style="left:1970.7px;top:2069.0px;font-size:26.3px;transform:translateX(-50%);transform-origin:50% 0;">85.32</div>
<div class="t s" style="left:2060.8px;top:2069.0px;font-size:26.3px;transform:translateX(-50%);transform-origin:50% 0;">85.35</div>
<div class="t s" style="left:2128.8px;top:2069.0px;font-size:26.3px;transform:translateX(-50%);transform-origin:50% 0;">72.96</div>
<div class="t s" style="left:2213.2px;top:2069.0px;font-size:26.3px;transform:translateX(-50%);transform-origin:50% 0;">85.34</div>
<div class="t s" style="left:2295.4px;top:2069.0px;font-size:26.3px;transform:translateX(-50%);transform-origin:50% 0;">76.71</div>
<div class="t s" style="left:2378.2px;top:2069.0px;font-size:26.3px;transform:translateX(-50%);transform-origin:50% 0;">84.66</div>
<div class="t s" style="left:2468.8px;top:2069.0px;font-size:26.3px;transform:translateX(-50%);transform-origin:50% 0;">85.29</div>
<div class="t s" style="left:2570.6px;top:2069.0px;font-size:26.3px;transform:translateX(-50%);transform-origin:50% 0;">84.27</div>
<div class="t s" style="left:2679.7px;top:2069.0px;font-size:26.3px;transform:translateX(-50%);transform-origin:50% 0;">85.70</div>
<div class="t s" style="left:1782.5px;top:2098.4px;font-size:26.3px;transform:translateX(-50%);transform-origin:50% 0;">86.67</div>
<div class="t s" style="left:1869.5px;top:2098.4px;font-size:26.3px;transform:translateX(-50%);transform-origin:50% 0;">61.28</div>
<div class="t s" style="left:1970.7px;top:2098.4px;font-size:26.3px;transform:translateX(-50%);transform-origin:50% 0;">86.56</div>
<div class="t s" style="left:2060.8px;top:2098.4px;font-size:26.3px;transform:translateX(-50%);transform-origin:50% 0;">86.84</div>
<div class="t s" style="left:2128.8px;top:2098.4px;font-size:26.3px;transform:translateX(-50%);transform-origin:50% 0;">65.98</div>
<div class="t s" style="left:2213.2px;top:2098.4px;font-size:26.3px;transform:translateX(-50%);transform-origin:50% 0;">66.14</div>
<div class="t s" style="left:2295.4px;top:2098.4px;font-size:26.3px;transform:translateX(-50%);transform-origin:50% 0;">74.92</div>
<div class="t s" style="left:2378.2px;top:2098.4px;font-size:26.3px;transform:translateX(-50%);transform-origin:50% 0;">60.04</div>
<div class="t s" style="left:2468.8px;top:2098.4px;font-size:26.3px;transform:translateX(-50%);transform-origin:50% 0;">53.63</div>
<div class="t s" style="left:2570.6px;top:2098.4px;font-size:26.3px;transform:translateX(-50%);transform-origin:50% 0;">31.56</div>
<div class="t s" style="left:2679.7px;top:2098.4px;font-size:26.3px;transform:translateX(-50%);transform-origin:50% 0;"><b>19.51</b></div>
<div class="t s" style="left:3058.8px;top:603.4px;font-size:27.2px;">Table 4: Results of ablation study on Fed-FA variants. Fed-FA outperforms potential variants, which</div>
<div class="t s" style="left:3058.8px;top:632.2px;font-size:27.2px;">demonstrates the effectiveness of the proposed mechanisms.</div>
<div class="r" style="left:3097.8px;top:871.9px;width:303.0px;height:2.6px;background:#000"></div>
<div class="r" style="left:3097.8px;top:913.3px;width:303.0px;height:2.6px;background:#000"></div>
<div class="r" style="left:3097.8px;top:955.5px;width:303.0px;height:1.3px;background:#000"></div>
<div class="r" style="left:3097.8px;top:1024.5px;width:303.0px;height:1.3px;background:#000"></div>
<div class="r" style="left:3097.8px;top:1147.8px;width:303.0px;height:1.3px;background:#000"></div>
<div class="r" style="left:3097.8px;top:1188.1px;width:303.0px;height:2.6px;background:#000"></div>
<div class="t s" style="left:3111.5px;top:699.7px;font-size:24.8px;"><b>Method</b></div>
<div class="t s" style="left:3275.3px;top:699.7px;font-size:24.8px;transform:translateX(-50%);transform-origin:50% 0;"><b>ACC</b></div>
<div class="t s" style="left:3358.2px;top:699.7px;font-size:24.8px;transform:translateX(-50%);transform-origin:50% 0;"><b>ASR</b></div>
<div class="t s" style="left:3111.5px;top:741.2px;font-size:24.8px;">FedAvg</div>
<div class="t s" style="left:3275.3px;top:741.2px;font-size:24.8px;transform:translateX(-50%);transform-origin:50% 0;">85.28</div>
<div class="t s" style="left:3358.2px;top:741.2px;font-size:24.8px;transform:translateX(-50%);transform-origin:50% 0;">86.67</div>
<div class="t s" style="left:3111.5px;top:783.7px;font-size:24.8px;">Median</div>
<div class="t s" style="left:3275.3px;top:783.7px;font-size:24.8px;transform:translateX(-50%);transform-origin:50% 0;">85.61</div>
<div class="t s" style="left:3358.2px;top:783.7px;font-size:24.8px;transform:translateX(-50%);transform-origin:50% 0;">61.28</div>
<div class="t s" style="left:3111.5px;top:811.2px;font-size:24.8px;">Residual</div>
<div class="t s" style="left:3275.3px;top:811.2px;font-size:24.8px;transform:translateX(-50%);transform-origin:50% 0;">85.34</div>
<div class="t s" style="left:3358.2px;top:811.2px;font-size:24.8px;transform:translateX(-50%);transform-origin:50% 0;">66.14</div>
<div class="t s" style="left:3111.5px;top:851.7px;font-size:24.8px;">Krum</div>
<div class="t s" style="left:3275.3px;top:851.7px;font-size:24.8px;transform:translateX(-50%);transform-origin:50% 0;">76.71</div>
<div class="t s" style="left:3358.2px;top:851.7px;font-size:24.8px;transform:translateX(-50%);transform-origin:50% 0;">74.92</div>
<div class="t s" style="left:3111.5px;top:879.1px;font-size:24.8px;">M-Krum</div>
<div class="t s" style="left:3275.3px;top:879.1px;font-size:24.8px;transform:translateX(-50%);transform-origin:50% 0;">84.66</div>
<div class="t s" style="left:3358.2px;top:879.1px;font-size:24.8px;transform:translateX(-50%);transform-origin:50% 0;">60.04</div>
<div class="t s" style="left:3111.5px;top:906.6px;font-size:24.8px;">Bulyan</div>
<div class="t s" style="left:3275.3px;top:906.6px;font-size:24.8px;transform:translateX(-50%);transform-origin:50% 0;">85.29</div>
<div class="t s" style="left:3358.2px;top:906.6px;font-size:24.8px;transform:translateX(-50%);transform-origin:50% 0;">53.63</div>
<div class="t s" style="left:3111.5px;top:934.1px;font-size:24.8px;">Dim-Krum</div>
<div class="t s" style="left:3275.3px;top:934.1px;font-size:24.8px;transform:translateX(-50%);transform-origin:50% 0;">84.27</div>
<div class="t s" style="left:3358.2px;top:934.1px;font-size:24.8px;transform:translateX(-50%);transform-origin:50% 0;">31.56</div>
<div class="t s" style="left:3111.5px;top:975.5px;font-size:24.8px;"><b>Fed-FA</b></div>
<div class="t s" style="left:3275.3px;top:975.5px;font-size:24.8px;transform:translateX(-50%);transform-origin:50% 0;">85.70</div>
<div class="t s" style="left:3358.2px;top:975.5px;font-size:24.8px;transform:translateX(-50%);transform-origin:50% 0;"><b>19.51</b></div>
<div class="r" style="left:3456.0px;top:871.9px;width:653.5px;height:2.6px;background:#000"></div>
<div class="r" style="left:3456.0px;top:914.9px;width:653.5px;height:1.6px;background:#000"></div>
<div class="r" style="left:3456.0px;top:955.5px;width:653.5px;height:1.3px;background:#000"></div>
<div class="r" style="left:3456.0px;top:996.4px;width:653.5px;height:1.3px;background:#000"></div>
<div class="r" style="left:3456.0px;top:1147.8px;width:653.5px;height:1.3px;background:#000"></div>
<div class="r" style="left:3456.0px;top:1188.1px;width:653.5px;height:2.6px;background:#000"></div>
<div class="t s" style="left:3469.7px;top:700.8px;font-size:24.8px;"><b>Method</b></div>
<div class="t s" style="left:3984.0px;top:700.8px;font-size:24.8px;transform:translateX(-50%);transform-origin:50% 0;"><b>ACC</b></div>
<div class="t s" style="left:4066.9px;top:700.8px;font-size:24.8px;transform:translateX(-50%);transform-origin:50% 0;"><b>ASR</b></div>
<div class="t s" style="left:3469.7px;top:741.2px;font-size:24.8px;">FedAvg</div>
<div class="t s" style="left:3984.0px;top:741.2px;font-size:24.8px;transform:translateX(-50%);transform-origin:50% 0;">85.28</div>
<div class="t s" style="left:4066.9px;top:741.2px;font-size:24.8px;transform:translateX(-50%);transform-origin:50% 0;">86.67</div>
<div class="t s" style="left:3469.7px;top:782.6px;font-size:24.8px;">Fed-FA with Euclidean indicator</div>
<div class="t s" style="left:3984.0px;top:782.6px;font-size:24.8px;transform:translateX(-50%);transform-origin:50% 0;">84.78</div>
<div class="t s" style="left:4066.9px;top:782.6px;font-size:24.8px;transform:translateX(-50%);transform-origin:50% 0;">58.50</div>
<div class="t s" style="left:3469.7px;top:824.1px;font-size:24.8px;">Fed-FA with labeled dataset</div>
<div class="t s" style="left:3984.0px;top:824.1px;font-size:24.8px;transform:translateX(-50%);transform-origin:50% 0;">85.77</div>
<div class="t s" style="left:4066.9px;top:824.1px;font-size:24.8px;transform:translateX(-50%);transform-origin:50% 0;">20.06</div>
<div class="t s" style="left:3469.7px;top:851.4px;font-size:24.8px;">Fed-FA without Hessian reassignment</div>
<div class="t s" style="left:3984.0px;top:851.4px;font-size:24.8px;transform:translateX(-50%);transform-origin:50% 0;">85.79</div>
<div class="t s" style="left:4066.9px;top:851.4px;font-size:24.8px;transform:translateX(-50%);transform-origin:50% 0;">39.78</div>
<div class="t s" style="left:3469.7px;top:878.8px;font-size:24.8px;">Fed-FA with inverse reassignment</div>
<div class="t s" style="left:3984.0px;top:878.8px;font-size:24.8px;transform:translateX(-50%);transform-origin:50% 0;">84.44</div>
<div class="t s" style="left:4066.9px;top:878.8px;font-size:24.8px;transform:translateX(-50%);transform-origin:50% 0;">82.27</div>
<div class="t s" style="left:3469.7px;top:906.1px;font-size:24.8px;">Fed-FA with layer-wise reassignment</div>
<div class="t s" style="left:3984.0px;top:906.1px;font-size:24.8px;transform:translateX(-50%);transform-origin:50% 0;">85.41</div>
<div class="t s" style="left:4066.9px;top:906.1px;font-size:24.8px;transform:translateX(-50%);transform-origin:50% 0;">52.75</div>
<div class="t s" style="left:3469.7px;top:933.5px;font-size:24.8px;">Fed-FA with reassignment within entire model</div>
<div class="t s" style="left:3984.0px;top:933.5px;font-size:24.8px;transform:translateX(-50%);transform-origin:50% 0;">85.34</div>
<div class="t s" style="left:4066.9px;top:933.5px;font-size:24.8px;transform:translateX(-50%);transform-origin:50% 0;">42.03</div>
<div class="t s" style="left:3469.7px;top:974.4px;font-size:24.8px;"><b>Fed-FA</b></div>
<div class="t s" style="left:3984.0px;top:974.4px;font-size:24.8px;transform:translateX(-50%);transform-origin:50% 0;">85.70</div>
<div class="t s" style="left:4066.9px;top:974.4px;font-size:24.8px;transform:translateX(-50%);transform-origin:50% 0;"><b>19.51</b></div>
<div class="t s" style="left:3140.3px;top:1225.4px;font-size:24.2px;">Table 5:&nbsp; Results of defenses on BERT on</div>
<div class="t s" style="left:3140.3px;top:1251.1px;font-size:24.2px;transform:scaleX(0.9839);">SST-2. Fed-FA still outperforms others.</div>
<div class="r" style="left:3164.5px;top:1476.1px;width:356.5px;height:2.4px;background:#000"></div>
<div class="r" style="left:3164.5px;top:1512.7px;width:356.5px;height:2.2px;background:#000"></div>
<div class="r" style="left:3272.1px;top:1548.2px;width:248.9px;height:1.2px;background:#000"></div>
<div class="r" style="left:3272.1px;top:1631.5px;width:248.9px;height:1.2px;background:#000"></div>
<div class="r" style="left:3164.5px;top:1666.1px;width:356.5px;height:2.2px;background:#000"></div>
<div class="r" style="left:3272.1px;top:1702.1px;width:248.9px;height:1.2px;background:#000"></div>
<div class="r" style="left:3272.1px;top:1784.9px;width:248.9px;height:1.2px;background:#000"></div>
<div class="r" style="left:3164.5px;top:1819.9px;width:356.5px;height:2.4px;background:#000"></div>
<div class="t s" style="left:3218.3px;top:1300.7px;font-size:21.5px;transform:translateX(-50%);transform-origin:50% 0;"><b>Attack</b></div>
<div class="t s" style="left:3329.2px;top:1300.7px;font-size:21.5px;transform:translateX(-50%);transform-origin:50% 0;">Method</div>
<div class="t s" style="left:3419.9px;top:1300.7px;font-size:21.5px;transform:translateX(-50%);transform-origin:50% 0;">ACC</div>
<div class="t s" style="left:3486.3px;top:1300.7px;font-size:21.5px;transform:translateX(-50%);transform-origin:50% 0;">ASR</div>
<div class="t s" style="left:3218.3px;top:1384.4px;font-size:21.5px;transform:translateX(-50%);transform-origin:50% 0;"><b>BadWord</b></div>
<div class="t s" style="left:3218.3px;top:1537.8px;font-size:21.5px;transform:translateX(-50%);transform-origin:50% 0;"><b>BadSent</b></div>
<div class="t s" style="left:3329.2px;top:1336.7px;font-size:21.5px;transform:translateX(-50%);transform-origin:50% 0;">FedAvg</div>
<div class="t s" style="left:3419.9px;top:1336.7px;font-size:21.5px;transform:translateX(-50%);transform-origin:50% 0;">89.41</div>
<div class="t s" style="left:3510.6px;top:1336.7px;font-size:21.5px;transform:translateX(-100%);transform-origin:100% 0;">96.73</div>
<div class="t s" style="left:3329.2px;top:1372.2px;font-size:21.5px;transform:translateX(-50%);transform-origin:50% 0;">Median</div>
<div class="t s" style="left:3419.9px;top:1372.2px;font-size:21.5px;transform:translateX(-50%);transform-origin:50% 0;">89.39</div>
<div class="t s" style="left:3510.6px;top:1372.2px;font-size:21.5px;transform:translateX(-100%);transform-origin:100% 0;">79.32</div>
<div class="t s" style="left:3329.2px;top:1395.8px;font-size:21.5px;transform:translateX(-50%);transform-origin:50% 0;">M-Krum</div>
<div class="t s" style="left:3419.9px;top:1395.8px;font-size:21.5px;transform:translateX(-50%);transform-origin:50% 0;">88.95</div>
<div class="t s" style="left:3510.6px;top:1395.8px;font-size:21.5px;transform:translateX(-100%);transform-origin:100% 0;">12.93</div>
<div class="t s" style="left:3329.2px;top:1419.5px;font-size:21.5px;transform:translateX(-50%);transform-origin:50% 0;">Dim-Krum</div>
<div class="t s" style="left:3419.9px;top:1419.5px;font-size:21.5px;transform:translateX(-50%);transform-origin:50% 0;">89.56</div>
<div class="t s" style="left:3510.6px;top:1419.5px;font-size:21.5px;transform:translateX(-100%);transform-origin:100% 0;">48.36</div>
<div class="t s" style="left:3329.2px;top:1454.1px;font-size:21.5px;transform:translateX(-50%);transform-origin:50% 0;"><b>Fed-FA</b></div>
<div class="t s" style="left:3419.9px;top:1454.1px;font-size:21.5px;transform:translateX(-50%);transform-origin:50% 0;">89.41</div>
<div class="t s" style="left:3510.6px;top:1454.1px;font-size:21.5px;transform:translateX(-100%);transform-origin:100% 0;"><b>9.11</b></div>
<div class="t s" style="left:3329.2px;top:1490.6px;font-size:21.5px;transform:translateX(-50%);transform-origin:50% 0;">FedAvg</div>
<div class="t s" style="left:3419.9px;top:1490.6px;font-size:21.5px;transform:translateX(-50%);transform-origin:50% 0;">89.45</div>
<div class="t s" style="left:3510.6px;top:1490.6px;font-size:21.5px;transform:translateX(-100%);transform-origin:100% 0;">95.95</div>
<div class="t s" style="left:3329.2px;top:1526.1px;font-size:21.5px;transform:translateX(-50%);transform-origin:50% 0;">Median</div>
<div class="t s" style="left:3419.9px;top:1526.1px;font-size:21.5px;transform:translateX(-50%);transform-origin:50% 0;">89.45</div>
<div class="t s" style="left:3510.6px;top:1526.1px;font-size:21.5px;transform:translateX(-100%);transform-origin:100% 0;">92.29</div>
<div class="t s" style="left:3329.2px;top:1549.7px;font-size:21.5px;transform:translateX(-50%);transform-origin:50% 0;">M-Krum</div>
<div class="t s" style="left:3419.9px;top:1549.7px;font-size:21.5px;transform:translateX(-50%);transform-origin:50% 0;">89.26</div>
<div class="t s" style="left:3510.6px;top:1549.7px;font-size:21.5px;transform:translateX(-100%);transform-origin:100% 0;">37.38</div>
<div class="t s" style="left:3329.2px;top:1573.4px;font-size:21.5px;transform:translateX(-50%);transform-origin:50% 0;">Dim-Krum</div>
<div class="t s" style="left:3419.9px;top:1573.4px;font-size:21.5px;transform:translateX(-50%);transform-origin:50% 0;">89.45</div>
<div class="t s" style="left:3510.6px;top:1573.4px;font-size:21.5px;transform:translateX(-100%);transform-origin:100% 0;">46.03</div>
<div class="t s" style="left:3329.2px;top:1608.0px;font-size:21.5px;transform:translateX(-50%);transform-origin:50% 0;"><b>Fed-FA</b></div>
<div class="t s" style="left:3419.9px;top:1608.0px;font-size:21.5px;transform:translateX(-50%);transform-origin:50% 0;">89.03</div>
<div class="t s" style="left:3510.6px;top:1608.0px;font-size:21.5px;transform:translateX(-100%);transform-origin:100% 0;"><b>27.10</b></div>
<div class="t s" style="left:3563.6px;top:1230.5px;font-size:24.2px;transform:scaleX(0.9566);">Table 6:&nbsp; Results of MNIST backdoor defense task. Fed-</div>
<div class="t s" style="left:3563.6px;top:1256.2px;font-size:24.2px;">FA can still work in CV. ASRs (&lt; 11) are in <b>bold</b>.</div>
<div class="r" style="left:3577.1px;top:1480.8px;width:492.5px;height:2.4px;background:#000"></div>
<div class="r" style="left:3577.1px;top:1517.3px;width:492.5px;height:2.2px;background:#000"></div>
<div class="r" style="left:3577.1px;top:1577.7px;width:492.5px;height:1.2px;background:#000"></div>
<div class="r" style="left:3577.1px;top:1637.1px;width:492.5px;height:1.2px;background:#000"></div>
<div class="r" style="left:3577.1px;top:1696.1px;width:492.5px;height:1.2px;background:#000"></div>
<div class="r" style="left:3577.1px;top:1755.0px;width:492.5px;height:1.2px;background:#000"></div>
<div class="r" style="left:3577.1px;top:1814.7px;width:492.5px;height:2.4px;background:#000"></div>
<div class="t s" style="left:3620.1px;top:1305.4px;font-size:21.5px;transform:translateX(-50%);transform-origin:50% 0;"><b>Method</b></div>
<div class="t s" style="left:3697.8px;top:1305.4px;font-size:21.5px;transform:translateX(-50%);transform-origin:50% 0;">Metric</div>
<div class="t s" style="left:3789.4px;top:1305.4px;font-size:21.5px;transform:translateX(-50%);transform-origin:50% 0;">2 Attackers</div>
<div class="t s" style="left:3900.7px;top:1305.4px;font-size:21.5px;transform:translateX(-50%);transform-origin:50% 0;">3 Attackers</div>
<div class="t s" style="left:4012.5px;top:1305.4px;font-size:21.5px;transform:translateX(-50%);transform-origin:50% 0;">4 Attackers</div>
<div class="t s" style="left:3620.1px;top:1353.6px;font-size:21.5px;transform:translateX(-50%);transform-origin:50% 0;"><b>FedAvg</b></div>
<div class="t s" style="left:3697.8px;top:1341.4px;font-size:21.5px;transform:translateX(-50%);transform-origin:50% 0;">ACC</div>
<div class="t s" style="left:3697.8px;top:1365.7px;font-size:21.5px;transform:translateX(-50%);transform-origin:50% 0;">ASR</div>
<div class="t s" style="left:3789.4px;top:1341.4px;font-size:21.5px;transform:translateX(-50%);transform-origin:50% 0;">96.33</div>
<div class="t s" style="left:3900.7px;top:1341.4px;font-size:21.5px;transform:translateX(-50%);transform-origin:50% 0;">96.23</div>
<div class="t s" style="left:4012.5px;top:1341.4px;font-size:21.5px;transform:translateX(-50%);transform-origin:50% 0;">96.01</div>
<div class="t s" style="left:3789.4px;top:1365.7px;font-size:21.5px;transform:translateX(-50%);transform-origin:50% 0;">39.20</div>
<div class="t s" style="left:3900.7px;top:1365.7px;font-size:21.5px;transform:translateX(-50%);transform-origin:50% 0;">94.50</div>
<div class="t s" style="left:4012.5px;top:1365.7px;font-size:21.5px;transform:translateX(-50%);transform-origin:50% 0;">98.44</div>
<div class="t s" style="left:3620.1px;top:1413.7px;font-size:21.5px;transform:translateX(-50%);transform-origin:50% 0;"><b>CRFL</b></div>
<div class="t s" style="left:3697.8px;top:1401.7px;font-size:21.5px;transform:translateX(-50%);transform-origin:50% 0;">ACC</div>
<div class="t s" style="left:3697.8px;top:1425.6px;font-size:21.5px;transform:translateX(-50%);transform-origin:50% 0;">ASR</div>
<div class="t s" style="left:3789.4px;top:1401.7px;font-size:21.5px;transform:translateX(-50%);transform-origin:50% 0;">96.64</div>
<div class="t s" style="left:3900.7px;top:1401.7px;font-size:21.5px;transform:translateX(-50%);transform-origin:50% 0;">96.22</div>
<div class="t s" style="left:4012.5px;top:1401.7px;font-size:21.5px;transform:translateX(-50%);transform-origin:50% 0;">96.23</div>
<div class="t s" style="left:3789.4px;top:1425.6px;font-size:21.5px;transform:translateX(-50%);transform-origin:50% 0;"><b>10.78</b></div>
<div class="t s" style="left:3900.7px;top:1425.6px;font-size:21.5px;transform:translateX(-50%);transform-origin:50% 0;">12.41</div>
<div class="t s" style="left:4012.5px;top:1425.6px;font-size:21.5px;transform:translateX(-50%);transform-origin:50% 0;">87.37</div>
<div class="t s" style="left:3620.1px;top:1472.5px;font-size:21.5px;transform:translateX(-50%);transform-origin:50% 0;"><b>Median</b></div>
<div class="t s" style="left:3697.8px;top:1460.6px;font-size:21.5px;transform:translateX(-50%);transform-origin:50% 0;">ACC</div>
<div class="t s" style="left:3697.8px;top:1484.5px;font-size:21.5px;transform:translateX(-50%);transform-origin:50% 0;">ASR</div>
<div class="t s" style="left:3789.4px;top:1460.6px;font-size:21.5px;transform:translateX(-50%);transform-origin:50% 0;">96.61</div>
<div class="t s" style="left:3900.7px;top:1460.6px;font-size:21.5px;transform:translateX(-50%);transform-origin:50% 0;">96.44</div>
<div class="t s" style="left:4012.5px;top:1460.6px;font-size:21.5px;transform:translateX(-50%);transform-origin:50% 0;">96.31</div>
<div class="t s" style="left:3789.4px;top:1484.5px;font-size:21.5px;transform:translateX(-50%);transform-origin:50% 0;"><b>10.59</b></div>
<div class="t s" style="left:3900.7px;top:1484.5px;font-size:21.5px;transform:translateX(-50%);transform-origin:50% 0;"><b>10.73</b></div>
<div class="t s" style="left:4012.5px;top:1484.5px;font-size:21.5px;transform:translateX(-50%);transform-origin:50% 0;"><b>10.76</b></div>
<div class="t s" style="left:3620.1px;top:1531.5px;font-size:21.5px;transform:translateX(-50%);transform-origin:50% 0;"><b>Krum</b></div>
<div class="t s" style="left:3697.8px;top:1519.6px;font-size:21.5px;transform:translateX(-50%);transform-origin:50% 0;">ACC</div>
<div class="t s" style="left:3697.8px;top:1543.4px;font-size:21.5px;transform:translateX(-50%);transform-origin:50% 0;">ASR</div>
<div class="t s" style="left:3789.4px;top:1519.6px;font-size:21.5px;transform:translateX(-50%);transform-origin:50% 0;">95.97</div>
<div class="t s" style="left:3900.7px;top:1519.6px;font-size:21.5px;transform:translateX(-50%);transform-origin:50% 0;">95.76</div>
<div class="t s" style="left:4012.5px;top:1519.6px;font-size:21.5px;transform:translateX(-50%);transform-origin:50% 0;">95.64</div>
<div class="t s" style="left:3789.4px;top:1543.4px;font-size:21.5px;transform:translateX(-50%);transform-origin:50% 0;"><b>10.02</b></div>
<div class="t s" style="left:3900.7px;top:1543.4px;font-size:21.5px;transform:translateX(-50%);transform-origin:50% 0;"><b>10.35</b></div>
<div class="t s" style="left:4012.5px;top:1543.4px;font-size:21.5px;transform:translateX(-50%);transform-origin:50% 0;"><b>10.34</b></div>
<div class="t s" style="left:3620.1px;top:1590.9px;font-size:21.5px;transform:translateX(-50%);transform-origin:50% 0;"><b>Fed-FA</b></div>
<div class="t s" style="left:3697.8px;top:1579.0px;font-size:21.5px;transform:translateX(-50%);transform-origin:50% 0;">ACC</div>
<div class="t s" style="left:3697.8px;top:1602.8px;font-size:21.5px;transform:translateX(-50%);transform-origin:50% 0;">ASR</div>
<div class="t s" style="left:3789.4px;top:1579.0px;font-size:21.5px;transform:translateX(-50%);transform-origin:50% 0;">96.08</div>
<div class="t s" style="left:3900.7px;top:1579.0px;font-size:21.5px;transform:translateX(-50%);transform-origin:50% 0;">95.82</div>
<div class="t s" style="left:4012.5px;top:1579.0px;font-size:21.5px;transform:translateX(-50%);transform-origin:50% 0;">95.93</div>
<div class="t s" style="left:3789.4px;top:1602.8px;font-size:21.5px;transform:translateX(-50%);transform-origin:50% 0;"><b>10.20</b></div>
<div class="t s" style="left:3900.7px;top:1602.8px;font-size:21.5px;transform:translateX(-50%);transform-origin:50% 0;"><b>10.20</b></div>
<div class="t s" style="left:4012.5px;top:1602.8px;font-size:21.5px;transform:translateX(-50%);transform-origin:50% 0;"><b>10.31</b></div>
<svg class="A" width="4320" height="2880" viewBox="0 0 4320 2880" style="left:0;top:0">
<clipPath id="c2GRU"><rect x="1610.7" y="2344.6" width="271.0" height="219.70000000000027"/></clipPath>
<g clip-path="url(#c2GRU)">
<path d="M1610.7 2420.3L1640.8 2408.0L1670.9 2406.3L1701.0 2407.4L1731.1 2406.3L1761.3 2408.0L1791.4 2406.3L1821.5 2407.2L1851.6 2407.8L1881.7 2409.0" fill="none" stroke="#c8c832" stroke-width="1.2" stroke-dasharray="5.5 2.5" stroke-linejoin="round" opacity="1"/>
<path d="M1612.7 2420.3L1608.7 2422.3L1608.7 2418.3Z" fill="#c8c832"/><path d="M1642.8 2408.0L1638.8 2410.0L1638.8 2406.0Z" fill="#c8c832"/><path d="M1672.9 2406.3L1668.9 2408.3L1668.9 2404.3Z" fill="#c8c832"/><path d="M1703.0 2407.4L1699.0 2409.4L1699.0 2405.4Z" fill="#c8c832"/><path d="M1733.1 2406.3L1729.1 2408.3L1729.1 2404.3Z" fill="#c8c832"/><path d="M1763.3 2408.0L1759.3 2410.0L1759.3 2406.0Z" fill="#c8c832"/><path d="M1793.4 2406.3L1789.4 2408.3L1789.4 2404.3Z" fill="#c8c832"/><path d="M1823.5 2407.2L1819.5 2409.2L1819.5 2405.2Z" fill="#c8c832"/><path d="M1853.6 2407.8L1849.6 2409.8L1849.6 2405.8Z" fill="#c8c832"/><path d="M1883.7 2409.0L1879.7 2411.0L1879.7 2407.0Z" fill="#c8c832"/>
<path d="M1610.7 2453.0L1640.8 2455.7L1670.9 2456.5L1701.0 2456.5L1731.1 2458.4L1761.3 2455.7L1791.4 2453.4L1821.5 2452.8L1851.6 2451.9L1881.7 2451.9" fill="none" stroke="#c8c832" stroke-width="1.2" stroke-dasharray="5.5 2.5" stroke-linejoin="round" opacity="1"/>
<path d="M1610.7 2450.7L1613.0 2455.3L1608.4 2455.3Z" fill="#c8c832"/><path d="M1640.8 2453.4L1643.1 2458.0L1638.5 2458.0Z" fill="#c8c832"/><path d="M1670.9 2454.2L1673.2 2458.8L1668.6 2458.8Z" fill="#c8c832"/><path d="M1701.0 2454.2L1703.3 2458.8L1698.7 2458.8Z" fill="#c8c832"/><path d="M1731.1 2456.1L1733.4 2460.7L1728.8 2460.7Z" fill="#c8c832"/><path d="M1761.3 2453.4L1763.6 2458.0L1759.0 2458.0Z" fill="#c8c832"/><path d="M1791.4 2451.1L1793.7 2455.7L1789.1 2455.7Z" fill="#c8c832"/><path d="M1821.5 2450.5L1823.8 2455.1L1819.2 2455.1Z" fill="#c8c832"/><path d="M1851.6 2449.6L1853.9 2454.2L1849.3 2454.2Z" fill="#c8c832"/><path d="M1881.7 2449.6L1884.0 2454.2L1879.4 2454.2Z" fill="#c8c832"/>
<path d="M1610.7 2468.3L1640.8 2473.9L1670.9 2475.6L1701.0 2473.1L1731.1 2473.1L1761.3 2470.4L1791.4 2464.9L1821.5 2463.9L1851.6 2463.2L1881.7 2462.0" fill="none" stroke="#2fcaca" stroke-width="1.2" stroke-dasharray="5.5 2.5" stroke-linejoin="round" opacity="1"/>
<path d="M1610.7 2465.7L1611.3 2467.4L1613.2 2467.5L1611.7 2468.6L1612.2 2470.4L1610.7 2469.4L1609.2 2470.4L1609.7 2468.6L1608.2 2467.5L1610.1 2467.4Z" fill="#2fcaca"/><path d="M1640.8 2471.3L1641.5 2473.0L1643.3 2473.1L1641.8 2474.2L1642.3 2476.0L1640.8 2475.0L1639.3 2476.0L1639.8 2474.2L1638.3 2473.1L1640.2 2473.0Z" fill="#2fcaca"/><path d="M1670.9 2473.0L1671.6 2474.7L1673.4 2474.8L1672.0 2475.9L1672.5 2477.7L1670.9 2476.7L1669.4 2477.7L1669.9 2475.9L1668.4 2474.8L1670.3 2474.7Z" fill="#2fcaca"/><path d="M1701.0 2470.5L1701.7 2472.2L1703.5 2472.3L1702.1 2473.4L1702.6 2475.2L1701.0 2474.2L1699.5 2475.2L1700.0 2473.4L1698.6 2472.3L1700.4 2472.2Z" fill="#2fcaca"/><path d="M1731.1 2470.5L1731.8 2472.2L1733.6 2472.3L1732.2 2473.4L1732.7 2475.2L1731.1 2474.2L1729.6 2475.2L1730.1 2473.4L1728.7 2472.3L1730.5 2472.2Z" fill="#2fcaca"/><path d="M1761.3 2467.8L1761.9 2469.5L1763.7 2469.5L1762.3 2470.7L1762.8 2472.5L1761.3 2471.4L1759.7 2472.5L1760.2 2470.7L1758.8 2469.5L1760.6 2469.5Z" fill="#2fcaca"/><path d="M1791.4 2462.3L1792.0 2464.0L1793.8 2464.1L1792.4 2465.2L1792.9 2467.0L1791.4 2466.0L1789.8 2467.0L1790.3 2465.2L1788.9 2464.1L1790.7 2464.0Z" fill="#2fcaca"/><path d="M1821.5 2461.3L1822.1 2463.0L1824.0 2463.1L1822.5 2464.2L1823.0 2466.0L1821.5 2465.0L1819.9 2466.0L1820.4 2464.2L1819.0 2463.1L1820.8 2463.0Z" fill="#2fcaca"/><path d="M1851.6 2460.6L1852.2 2462.4L1854.1 2462.4L1852.6 2463.6L1853.1 2465.3L1851.6 2464.3L1850.1 2465.3L1850.6 2463.6L1849.1 2462.4L1850.9 2462.4Z" fill="#2fcaca"/><path d="M1881.7 2459.4L1882.3 2461.1L1884.2 2461.2L1882.7 2462.3L1883.2 2464.1L1881.7 2463.1L1880.2 2464.1L1880.7 2462.3L1879.2 2461.2L1881.1 2461.1Z" fill="#2fcaca"/>
<path d="M1610.7 2507.8L1640.8 2495.9L1670.9 2487.1L1701.0 2490.4L1731.1 2491.7L1761.3 2493.4L1791.4 2494.2L1821.5 2496.3L1851.6 2493.4L1881.7 2495.0" fill="none" stroke="#cc2bcc" stroke-width="1.2" stroke-dasharray="5.5 2.5" stroke-linejoin="round" opacity="1"/>
<path d="M1610.7 2504.8L1613.7 2510.8L1607.7 2510.8Z" fill="#cc2bcc"/><path d="M1640.8 2492.9L1643.8 2498.9L1637.8 2498.9Z" fill="#cc2bcc"/><path d="M1670.9 2484.1L1673.9 2490.1L1667.9 2490.1Z" fill="#cc2bcc"/><path d="M1701.0 2487.4L1704.0 2493.4L1698.0 2493.4Z" fill="#cc2bcc"/><path d="M1731.1 2488.7L1734.1 2494.7L1728.1 2494.7Z" fill="#cc2bcc"/><path d="M1761.3 2490.4L1764.3 2496.4L1758.3 2496.4Z" fill="#cc2bcc"/><path d="M1791.4 2491.2L1794.4 2497.2L1788.4 2497.2Z" fill="#cc2bcc"/><path d="M1821.5 2493.3L1824.5 2499.3L1818.5 2499.3Z" fill="#cc2bcc"/><path d="M1851.6 2490.4L1854.6 2496.4L1848.6 2496.4Z" fill="#cc2bcc"/><path d="M1881.7 2492.0L1884.7 2498.0L1878.7 2498.0Z" fill="#cc2bcc"/>
<path d="M1610.7 2453.0L1640.8 2454.2L1670.9 2458.0L1701.0 2461.4L1731.1 2461.6L1761.3 2461.6L1791.4 2456.8L1821.5 2458.8L1851.6 2457.8L1881.7 2456.5" fill="none" stroke="#2a992a" stroke-width="1.3" stroke-dasharray="5.5 2.5" stroke-linejoin="round" opacity="1"/>
<circle cx="1610.7" cy="2453.0" r="2.50" fill="#2a992a"/><circle cx="1640.8" cy="2454.2" r="2.50" fill="#2a992a"/><circle cx="1670.9" cy="2458.0" r="2.50" fill="#2a992a"/><circle cx="1701.0" cy="2461.4" r="2.50" fill="#2a992a"/><circle cx="1731.1" cy="2461.6" r="2.50" fill="#2a992a"/><circle cx="1761.3" cy="2461.6" r="2.50" fill="#2a992a"/><circle cx="1791.4" cy="2456.8" r="2.50" fill="#2a992a"/><circle cx="1821.5" cy="2458.8" r="2.50" fill="#2a992a"/><circle cx="1851.6" cy="2457.8" r="2.50" fill="#2a992a"/><circle cx="1881.7" cy="2456.5" r="2.50" fill="#2a992a"/>
<path d="M1610.7 2460.9L1640.8 2451.9L1670.9 2444.6L1701.0 2437.3L1731.1 2429.6L1761.3 2418.5L1791.4 2408.0L1821.5 2395.7L1851.6 2390.4L1881.7 2384.1" fill="none" stroke="#ff2a2a" stroke-width="1.3" stroke-linejoin="round" opacity="1"/>
<circle cx="1610.7" cy="2460.9" r="2.30" fill="#ff2a2a"/><circle cx="1640.8" cy="2451.9" r="2.30" fill="#ff2a2a"/><circle cx="1670.9" cy="2444.6" r="2.30" fill="#ff2a2a"/><circle cx="1701.0" cy="2437.3" r="2.30" fill="#ff2a2a"/><circle cx="1731.1" cy="2429.6" r="2.30" fill="#ff2a2a"/><circle cx="1761.3" cy="2418.5" r="2.30" fill="#ff2a2a"/><circle cx="1791.4" cy="2408.0" r="2.30" fill="#ff2a2a"/><circle cx="1821.5" cy="2395.7" r="2.30" fill="#ff2a2a"/><circle cx="1851.6" cy="2390.4" r="2.30" fill="#ff2a2a"/><circle cx="1881.7" cy="2384.1" r="2.30" fill="#ff2a2a"/>
<path d="M1610.7 2525.8L1640.8 2524.1L1670.9 2532.3L1701.0 2532.7L1731.1 2534.8L1761.3 2533.5L1791.4 2533.8L1821.5 2534.4L1851.6 2533.8L1881.7 2535.6" fill="none" stroke="#2a992a" stroke-width="1.5" stroke-linejoin="round" opacity="1"/>
<circle cx="1610.7" cy="2525.8" r="2.50" fill="#2a992a"/><circle cx="1640.8" cy="2524.1" r="2.50" fill="#2a992a"/><circle cx="1670.9" cy="2532.3" r="2.50" fill="#2a992a"/><circle cx="1701.0" cy="2532.7" r="2.50" fill="#2a992a"/><circle cx="1731.1" cy="2534.8" r="2.50" fill="#2a992a"/><circle cx="1761.3" cy="2533.5" r="2.50" fill="#2a992a"/><circle cx="1791.4" cy="2533.8" r="2.50" fill="#2a992a"/><circle cx="1821.5" cy="2534.4" r="2.50" fill="#2a992a"/><circle cx="1851.6" cy="2533.8" r="2.50" fill="#2a992a"/><circle cx="1881.7" cy="2535.6" r="2.50" fill="#2a992a"/>
</g>
<rect x="1610.7" y="2344.6" width="271.0" height="219.70000000000027" fill="none" stroke="#000" stroke-width="1.5"/>
<path d="M1607.5 2564.3H1610.7" stroke="#000" stroke-width="1"/>
<text x="1605.5" y="2568.8" font-size="12.3" text-anchor="end" fill="#000" textLength="7.4" lengthAdjust="spacingAndGlyphs">0</text>
<path d="M1607.5 2522.5H1610.7" stroke="#000" stroke-width="1"/>
<text x="1605.5" y="2527.0" font-size="12.3" text-anchor="end" fill="#000" textLength="14.9" lengthAdjust="spacingAndGlyphs">20</text>
<path d="M1607.5 2480.6H1610.7" stroke="#000" stroke-width="1"/>
<text x="1605.5" y="2485.1" font-size="12.3" text-anchor="end" fill="#000" textLength="14.9" lengthAdjust="spacingAndGlyphs">40</text>
<path d="M1607.5 2438.8H1610.7" stroke="#000" stroke-width="1"/>
<text x="1605.5" y="2443.3" font-size="12.3" text-anchor="end" fill="#000" textLength="14.9" lengthAdjust="spacingAndGlyphs">60</text>
<path d="M1607.5 2396.9H1610.7" stroke="#000" stroke-width="1"/>
<text x="1605.5" y="2401.4" font-size="12.3" text-anchor="end" fill="#000" textLength="14.9" lengthAdjust="spacingAndGlyphs">80</text>
<path d="M1607.5 2355.1H1610.7" stroke="#000" stroke-width="1"/>
<text x="1605.5" y="2359.6" font-size="12.3" text-anchor="end" fill="#000" textLength="22.3" lengthAdjust="spacingAndGlyphs">100</text>
<path d="M1610.7 2564.3V2567.5" stroke="#000" stroke-width="1"/>
<text x="1610.7" y="2578.7" font-size="12.3" text-anchor="middle" fill="#000" textLength="7.4" lengthAdjust="spacingAndGlyphs">1</text>
<path d="M1731.1 2564.3V2567.5" stroke="#000" stroke-width="1"/>
<text x="1731.1" y="2578.7" font-size="12.3" text-anchor="middle" fill="#000" textLength="7.4" lengthAdjust="spacingAndGlyphs">5</text>
<path d="M1881.7 2564.3V2567.5" stroke="#000" stroke-width="1"/>
<text x="1881.7" y="2578.7" font-size="12.3" text-anchor="middle" fill="#000" textLength="14.9" lengthAdjust="spacingAndGlyphs">10</text>
<text x="1745.2" y="2593.1" font-size="14.3" text-anchor="middle" fill="#000" textLength="52.0" lengthAdjust="spacingAndGlyphs">Rounds</text>
<text x="1579.4" y="2456.4" font-size="14" text-anchor="middle" fill="#000" textLength="77.3" lengthAdjust="spacingAndGlyphs" transform="rotate(-90 1579.4 2456.4)">ASR of GRU</text>
<clipPath id="c2LSTM"><rect x="1948.6" y="2344.6" width="270.0" height="219.70000000000027"/></clipPath>
<g clip-path="url(#c2LSTM)">
<path d="M1948.6 2427.9L1978.6 2409.5L2008.6 2406.7L2038.6 2406.3L2068.6 2404.7L2098.6 2406.3L2128.6 2405.7L2158.6 2404.7L2188.6 2406.3L2218.6 2406.3" fill="none" stroke="#c8c832" stroke-width="1.2" stroke-dasharray="5.5 2.5" stroke-linejoin="round" opacity="1"/>
<path d="M1950.6 2427.9L1946.6 2429.9L1946.6 2425.9Z" fill="#c8c832"/><path d="M1980.6 2409.5L1976.6 2411.5L1976.6 2407.5Z" fill="#c8c832"/><path d="M2010.6 2406.7L2006.6 2408.7L2006.6 2404.7Z" fill="#c8c832"/><path d="M2040.6 2406.3L2036.6 2408.3L2036.6 2404.3Z" fill="#c8c832"/><path d="M2070.6 2404.7L2066.6 2406.7L2066.6 2402.7Z" fill="#c8c832"/><path d="M2100.6 2406.3L2096.6 2408.3L2096.6 2404.3Z" fill="#c8c832"/><path d="M2130.6 2405.7L2126.6 2407.7L2126.6 2403.7Z" fill="#c8c832"/><path d="M2160.6 2404.7L2156.6 2406.7L2156.6 2402.7Z" fill="#c8c832"/><path d="M2190.6 2406.3L2186.6 2408.3L2186.6 2404.3Z" fill="#c8c832"/><path d="M2220.6 2406.3L2216.6 2408.3L2216.6 2404.3Z" fill="#c8c832"/>
<path d="M1948.6 2442.7L1978.6 2448.6L2008.6 2446.5L2038.6 2445.5L2068.6 2445.5L2098.6 2444.4L2128.6 2443.4L2158.6 2441.3L2188.6 2440.2L2218.6 2439.2" fill="none" stroke="#c8c832" stroke-width="1.2" stroke-dasharray="5.5 2.5" stroke-linejoin="round" opacity="1"/>
<path d="M1948.6 2440.4L1950.9 2445.0L1946.3 2445.0Z" fill="#c8c832"/><path d="M1978.6 2446.3L1980.9 2450.9L1976.3 2450.9Z" fill="#c8c832"/><path d="M2008.6 2444.2L2010.9 2448.8L2006.3 2448.8Z" fill="#c8c832"/><path d="M2038.6 2443.2L2040.9 2447.8L2036.3 2447.8Z" fill="#c8c832"/><path d="M2068.6 2443.2L2070.9 2447.8L2066.3 2447.8Z" fill="#c8c832"/><path d="M2098.6 2442.1L2100.9 2446.7L2096.3 2446.7Z" fill="#c8c832"/><path d="M2128.6 2441.1L2130.9 2445.7L2126.3 2445.7Z" fill="#c8c832"/><path d="M2158.6 2439.0L2160.9 2443.6L2156.3 2443.6Z" fill="#c8c832"/><path d="M2188.6 2437.9L2190.9 2442.5L2186.3 2442.5Z" fill="#c8c832"/><path d="M2218.6 2436.9L2220.9 2441.5L2216.3 2441.5Z" fill="#c8c832"/>
<path d="M1948.6 2454.9L1978.6 2456.5L2008.6 2458.0L2038.6 2454.9L2068.6 2453.4L2098.6 2448.6L2128.6 2446.5L2158.6 2442.3L2188.6 2439.2L2218.6 2436.5" fill="none" stroke="#2fcaca" stroke-width="1.2" stroke-dasharray="5.5 2.5" stroke-linejoin="round" opacity="1"/>
<path d="M1948.6 2452.3L1949.2 2454.0L1951.1 2454.1L1949.6 2455.2L1950.1 2457.0L1948.6 2456.0L1947.1 2457.0L1947.6 2455.2L1946.1 2454.1L1948.0 2454.0Z" fill="#2fcaca"/><path d="M1978.6 2453.9L1979.2 2455.7L1981.1 2455.7L1979.6 2456.9L1980.1 2458.6L1978.6 2457.6L1977.1 2458.6L1977.6 2456.9L1976.1 2455.7L1978.0 2455.7Z" fill="#2fcaca"/><path d="M2008.6 2455.4L2009.2 2457.1L2011.1 2457.2L2009.6 2458.3L2010.1 2460.1L2008.6 2459.1L2007.1 2460.1L2007.6 2458.3L2006.1 2457.2L2008.0 2457.1Z" fill="#2fcaca"/><path d="M2038.6 2452.3L2039.2 2454.0L2041.1 2454.1L2039.6 2455.2L2040.1 2457.0L2038.6 2456.0L2037.1 2457.0L2037.6 2455.2L2036.1 2454.1L2038.0 2454.0Z" fill="#2fcaca"/><path d="M2068.6 2450.8L2069.2 2452.5L2071.1 2452.6L2069.6 2453.7L2070.1 2455.5L2068.6 2454.5L2067.1 2455.5L2067.6 2453.7L2066.1 2452.6L2068.0 2452.5Z" fill="#2fcaca"/><path d="M2098.6 2446.0L2099.2 2447.7L2101.1 2447.8L2099.6 2448.9L2100.1 2450.7L2098.6 2449.7L2097.1 2450.7L2097.6 2448.9L2096.1 2447.8L2098.0 2447.7Z" fill="#2fcaca"/><path d="M2128.6 2443.9L2129.2 2445.6L2131.1 2445.7L2129.6 2446.8L2130.1 2448.6L2128.6 2447.6L2127.1 2448.6L2127.6 2446.8L2126.1 2445.7L2128.0 2445.6Z" fill="#2fcaca"/><path d="M2158.6 2439.7L2159.2 2441.4L2161.1 2441.5L2159.6 2442.7L2160.1 2444.4L2158.6 2443.4L2157.1 2444.4L2157.6 2442.7L2156.1 2441.5L2158.0 2441.4Z" fill="#2fcaca"/><path d="M2188.6 2436.6L2189.2 2438.3L2191.1 2438.4L2189.6 2439.5L2190.1 2441.3L2188.6 2440.3L2187.1 2441.3L2187.6 2439.5L2186.1 2438.4L2188.0 2438.3Z" fill="#2fcaca"/><path d="M2218.6 2433.9L2219.2 2435.6L2221.1 2435.7L2219.6 2436.8L2220.1 2438.6L2218.6 2437.5L2217.1 2438.6L2217.6 2436.8L2216.1 2435.7L2218.0 2435.6Z" fill="#2fcaca"/>
<path d="M1948.6 2476.0L1978.6 2482.9L2008.6 2488.1L2038.6 2493.6L2068.6 2492.5L2098.6 2492.5L2128.6 2490.2L2158.6 2495.0L2188.6 2495.0L2218.6 2496.1" fill="none" stroke="#cc2bcc" stroke-width="1.2" stroke-dasharray="5.5 2.5" stroke-linejoin="round" opacity="1"/>
<path d="M1948.6 2473.0L1951.6 2479.0L1945.6 2479.0Z" fill="#cc2bcc"/><path d="M1978.6 2479.9L1981.6 2485.9L1975.6 2485.9Z" fill="#cc2bcc"/><path d="M2008.6 2485.1L2011.6 2491.1L2005.6 2491.1Z" fill="#cc2bcc"/><path d="M2038.6 2490.6L2041.6 2496.6L2035.6 2496.6Z" fill="#cc2bcc"/><path d="M2068.6 2489.5L2071.6 2495.5L2065.6 2495.5Z" fill="#cc2bcc"/><path d="M2098.6 2489.5L2101.6 2495.5L2095.6 2495.5Z" fill="#cc2bcc"/><path d="M2128.6 2487.2L2131.6 2493.2L2125.6 2493.2Z" fill="#cc2bcc"/><path d="M2158.6 2492.0L2161.6 2498.0L2155.6 2498.0Z" fill="#cc2bcc"/><path d="M2188.6 2492.0L2191.6 2498.0L2185.6 2498.0Z" fill="#cc2bcc"/><path d="M2218.6 2493.1L2221.6 2499.1L2215.6 2499.1Z" fill="#cc2bcc"/>
<path d="M1948.6 2444.4L1978.6 2446.9L2008.6 2448.6L2038.6 2442.3L2068.6 2443.4L2098.6 2443.8L2128.6 2445.5L2158.6 2441.7L2188.6 2439.2L2218.6 2440.2" fill="none" stroke="#2a992a" stroke-width="1.3" stroke-dasharray="5.5 2.5" stroke-linejoin="round" opacity="1"/>
<circle cx="1948.6" cy="2444.4" r="2.50" fill="#2a992a"/><circle cx="1978.6" cy="2446.9" r="2.50" fill="#2a992a"/><circle cx="2008.6" cy="2448.6" r="2.50" fill="#2a992a"/><circle cx="2038.6" cy="2442.3" r="2.50" fill="#2a992a"/><circle cx="2068.6" cy="2443.4" r="2.50" fill="#2a992a"/><circle cx="2098.6" cy="2443.8" r="2.50" fill="#2a992a"/><circle cx="2128.6" cy="2445.5" r="2.50" fill="#2a992a"/><circle cx="2158.6" cy="2441.7" r="2.50" fill="#2a992a"/><circle cx="2188.6" cy="2439.2" r="2.50" fill="#2a992a"/><circle cx="2218.6" cy="2440.2" r="2.50" fill="#2a992a"/>
<path d="M1948.6 2445.5L1978.6 2441.7L2008.6 2427.9L2038.6 2412.2L2068.6 2402.6L2098.6 2393.1L2128.6 2389.4L2158.6 2382.5L2188.6 2376.8L2218.6 2374.5" fill="none" stroke="#ff2a2a" stroke-width="1.3" stroke-linejoin="round" opacity="1"/>
<circle cx="1948.6" cy="2445.5" r="2.30" fill="#ff2a2a"/><circle cx="1978.6" cy="2441.7" r="2.30" fill="#ff2a2a"/><circle cx="2008.6" cy="2427.9" r="2.30" fill="#ff2a2a"/><circle cx="2038.6" cy="2412.2" r="2.30" fill="#ff2a2a"/><circle cx="2068.6" cy="2402.6" r="2.30" fill="#ff2a2a"/><circle cx="2098.6" cy="2393.1" r="2.30" fill="#ff2a2a"/><circle cx="2128.6" cy="2389.4" r="2.30" fill="#ff2a2a"/><circle cx="2158.6" cy="2382.5" r="2.30" fill="#ff2a2a"/><circle cx="2188.6" cy="2376.8" r="2.30" fill="#ff2a2a"/><circle cx="2218.6" cy="2374.5" r="2.30" fill="#ff2a2a"/>
<path d="M1948.6 2500.9L1978.6 2509.9L2008.6 2515.8L2038.6 2518.3L2068.6 2517.2L2098.6 2521.0L2128.6 2519.9L2158.6 2519.3L2188.6 2518.3L2218.6 2518.3" fill="none" stroke="#2a992a" stroke-width="1.5" stroke-linejoin="round" opacity="1"/>
<circle cx="1948.6" cy="2500.9" r="2.50" fill="#2a992a"/><circle cx="1978.6" cy="2509.9" r="2.50" fill="#2a992a"/><circle cx="2008.6" cy="2515.8" r="2.50" fill="#2a992a"/><circle cx="2038.6" cy="2518.3" r="2.50" fill="#2a992a"/><circle cx="2068.6" cy="2517.2" r="2.50" fill="#2a992a"/><circle cx="2098.6" cy="2521.0" r="2.50" fill="#2a992a"/><circle cx="2128.6" cy="2519.9" r="2.50" fill="#2a992a"/><circle cx="2158.6" cy="2519.3" r="2.50" fill="#2a992a"/><circle cx="2188.6" cy="2518.3" r="2.50" fill="#2a992a"/><circle cx="2218.6" cy="2518.3" r="2.50" fill="#2a992a"/>
</g>
<rect x="1948.6" y="2344.6" width="270.0" height="219.70000000000027" fill="none" stroke="#000" stroke-width="1.5"/>
<path d="M1945.4 2564.3H1948.6" stroke="#000" stroke-width="1"/>
<text x="1943.4" y="2568.8" font-size="12.3" text-anchor="end" fill="#000" textLength="7.4" lengthAdjust="spacingAndGlyphs">0</text>
<path d="M1945.4 2522.5H1948.6" stroke="#000" stroke-width="1"/>
<text x="1943.4" y="2527.0" font-size="12.3" text-anchor="end" fill="#000" textLength="14.9" lengthAdjust="spacingAndGlyphs">20</text>
<path d="M1945.4 2480.6H1948.6" stroke="#000" stroke-width="1"/>
<text x="1943.4" y="2485.1" font-size="12.3" text-anchor="end" fill="#000" textLength="14.9" lengthAdjust="spacingAndGlyphs">40</text>
<path d="M1945.4 2438.8H1948.6" stroke="#000" stroke-width="1"/>
<text x="1943.4" y="2443.3" font-size="12.3" text-anchor="end" fill="#000" textLength="14.9" lengthAdjust="spacingAndGlyphs">60</text>
<path d="M1945.4 2396.9H1948.6" stroke="#000" stroke-width="1"/>
<text x="1943.4" y="2401.4" font-size="12.3" text-anchor="end" fill="#000" textLength="14.9" lengthAdjust="spacingAndGlyphs">80</text>
<path d="M1945.4 2355.1H1948.6" stroke="#000" stroke-width="1"/>
<text x="1943.4" y="2359.6" font-size="12.3" text-anchor="end" fill="#000" textLength="22.3" lengthAdjust="spacingAndGlyphs">100</text>
<path d="M1948.6 2564.3V2567.5" stroke="#000" stroke-width="1"/>
<text x="1948.6" y="2578.7" font-size="12.3" text-anchor="middle" fill="#000" textLength="7.4" lengthAdjust="spacingAndGlyphs">1</text>
<path d="M2068.6 2564.3V2567.5" stroke="#000" stroke-width="1"/>
<text x="2068.6" y="2578.7" font-size="12.3" text-anchor="middle" fill="#000" textLength="7.4" lengthAdjust="spacingAndGlyphs">5</text>
<path d="M2218.6 2564.3V2567.5" stroke="#000" stroke-width="1"/>
<text x="2218.6" y="2578.7" font-size="12.3" text-anchor="middle" fill="#000" textLength="14.9" lengthAdjust="spacingAndGlyphs">10</text>
<text x="2082.6" y="2593.1" font-size="14.3" text-anchor="middle" fill="#000" textLength="52.0" lengthAdjust="spacingAndGlyphs">Rounds</text>
<text x="1917.3" y="2456.4" font-size="14" text-anchor="middle" fill="#000" textLength="83.5" lengthAdjust="spacingAndGlyphs" transform="rotate(-90 1917.3 2456.4)">ASR of LSTM</text>
<clipPath id="c2CNN"><rect x="2284.5" y="2344.2" width="270.8000000000002" height="219.70000000000027"/></clipPath>
<g clip-path="url(#c2CNN)">
<path d="M2284.5 2416.6L2314.6 2416.0L2344.7 2412.2L2374.8 2408.9L2404.9 2408.2L2434.9 2408.2L2465.0 2408.0L2495.1 2407.6L2525.2 2407.6L2555.3 2407.0" fill="none" stroke="#c8c832" stroke-width="1.2" stroke-dasharray="5.5 2.5" stroke-linejoin="round" opacity="1"/>
<path d="M2286.5 2416.6L2282.5 2418.6L2282.5 2414.6Z" fill="#c8c832"/><path d="M2316.6 2416.0L2312.6 2418.0L2312.6 2414.0Z" fill="#c8c832"/><path d="M2346.7 2412.2L2342.7 2414.2L2342.7 2410.2Z" fill="#c8c832"/><path d="M2376.8 2408.9L2372.8 2410.9L2372.8 2406.9Z" fill="#c8c832"/><path d="M2406.9 2408.2L2402.9 2410.2L2402.9 2406.2Z" fill="#c8c832"/><path d="M2436.9 2408.2L2432.9 2410.2L2432.9 2406.2Z" fill="#c8c832"/><path d="M2467.0 2408.0L2463.0 2410.0L2463.0 2406.0Z" fill="#c8c832"/><path d="M2497.1 2407.6L2493.1 2409.6L2493.1 2405.6Z" fill="#c8c832"/><path d="M2527.2 2407.6L2523.2 2409.6L2523.2 2405.6Z" fill="#c8c832"/><path d="M2557.3 2407.0L2553.3 2409.0L2553.3 2405.0Z" fill="#c8c832"/>
<path d="M2284.5 2498.6L2314.6 2479.8L2344.7 2464.3L2374.8 2452.0L2404.9 2441.1L2434.9 2435.6L2465.0 2434.0L2495.1 2429.8L2525.2 2428.7L2555.3 2426.6" fill="none" stroke="#c8c832" stroke-width="1.2" stroke-dasharray="5.5 2.5" stroke-linejoin="round" opacity="1"/>
<path d="M2284.5 2496.3L2286.8 2500.9L2282.2 2500.9Z" fill="#c8c832"/><path d="M2314.6 2477.5L2316.9 2482.1L2312.3 2482.1Z" fill="#c8c832"/><path d="M2344.7 2462.0L2347.0 2466.6L2342.4 2466.6Z" fill="#c8c832"/><path d="M2374.8 2449.7L2377.1 2454.3L2372.5 2454.3Z" fill="#c8c832"/><path d="M2404.9 2438.8L2407.2 2443.4L2402.6 2443.4Z" fill="#c8c832"/><path d="M2434.9 2433.3L2437.2 2437.9L2432.6 2437.9Z" fill="#c8c832"/><path d="M2465.0 2431.7L2467.3 2436.3L2462.7 2436.3Z" fill="#c8c832"/><path d="M2495.1 2427.5L2497.4 2432.1L2492.8 2432.1Z" fill="#c8c832"/><path d="M2525.2 2426.4L2527.5 2431.0L2522.9 2431.0Z" fill="#c8c832"/><path d="M2555.3 2424.3L2557.6 2428.9L2553.0 2428.9Z" fill="#c8c832"/>
<path d="M2284.5 2522.1L2314.6 2503.0L2344.7 2492.8L2374.8 2484.0L2404.9 2475.2L2434.9 2470.6L2465.0 2465.3L2495.1 2462.2L2525.2 2458.7L2555.3 2458.0" fill="none" stroke="#2fcaca" stroke-width="1.2" stroke-dasharray="5.5 2.5" stroke-linejoin="round" opacity="1"/>
<path d="M2284.5 2519.5L2285.1 2521.2L2287.0 2521.2L2285.5 2522.4L2286.0 2524.2L2284.5 2523.1L2283.0 2524.2L2283.5 2522.4L2282.0 2521.2L2283.9 2521.2Z" fill="#2fcaca"/><path d="M2314.6 2500.4L2315.2 2502.1L2317.1 2502.2L2315.6 2503.3L2316.1 2505.1L2314.6 2504.1L2313.1 2505.1L2313.6 2503.3L2312.1 2502.2L2313.9 2502.1Z" fill="#2fcaca"/><path d="M2344.7 2490.2L2345.3 2491.9L2347.2 2492.0L2345.7 2493.1L2346.2 2494.9L2344.7 2493.9L2343.1 2494.9L2343.6 2493.1L2342.2 2492.0L2344.0 2491.9Z" fill="#2fcaca"/><path d="M2374.8 2481.4L2375.4 2483.1L2377.2 2483.2L2375.8 2484.3L2376.3 2486.1L2374.8 2485.1L2373.2 2486.1L2373.7 2484.3L2372.3 2483.2L2374.1 2483.1Z" fill="#2fcaca"/><path d="M2404.9 2472.6L2405.5 2474.3L2407.3 2474.4L2405.9 2475.5L2406.4 2477.3L2404.9 2476.3L2403.3 2477.3L2403.8 2475.5L2402.4 2474.4L2404.2 2474.3Z" fill="#2fcaca"/><path d="M2434.9 2468.0L2435.6 2469.7L2437.4 2469.8L2436.0 2470.9L2436.5 2472.7L2434.9 2471.7L2433.4 2472.7L2433.9 2470.9L2432.5 2469.8L2434.3 2469.7Z" fill="#2fcaca"/><path d="M2465.0 2462.7L2465.7 2464.5L2467.5 2464.5L2466.1 2465.7L2466.6 2467.5L2465.0 2466.4L2463.5 2467.5L2464.0 2465.7L2462.6 2464.5L2464.4 2464.5Z" fill="#2fcaca"/><path d="M2495.1 2459.6L2495.8 2461.3L2497.6 2461.4L2496.2 2462.5L2496.7 2464.3L2495.1 2463.3L2493.6 2464.3L2494.1 2462.5L2492.6 2461.4L2494.5 2461.3Z" fill="#2fcaca"/><path d="M2525.2 2456.1L2525.9 2457.8L2527.7 2457.8L2526.2 2459.0L2526.7 2460.8L2525.2 2459.7L2523.7 2460.8L2524.2 2459.0L2522.7 2457.8L2524.6 2457.8Z" fill="#2fcaca"/><path d="M2555.3 2455.4L2555.9 2457.1L2557.8 2457.2L2556.3 2458.4L2556.8 2460.1L2555.3 2459.1L2553.8 2460.1L2554.3 2458.4L2552.8 2457.2L2554.7 2457.1Z" fill="#2fcaca"/>
<path d="M2284.5 2531.9L2314.6 2509.7L2344.7 2509.5L2374.8 2510.5L2404.9 2507.2L2434.9 2505.9L2465.0 2504.5L2495.1 2506.6L2525.2 2506.4L2555.3 2505.1" fill="none" stroke="#cc2bcc" stroke-width="1.2" stroke-dasharray="5.5 2.5" stroke-linejoin="round" opacity="1"/>
<path d="M2284.5 2528.9L2287.5 2534.9L2281.5 2534.9Z" fill="#cc2bcc"/><path d="M2314.6 2506.7L2317.6 2512.7L2311.6 2512.7Z" fill="#cc2bcc"/><path d="M2344.7 2506.5L2347.7 2512.5L2341.7 2512.5Z" fill="#cc2bcc"/><path d="M2374.8 2507.5L2377.8 2513.5L2371.8 2513.5Z" fill="#cc2bcc"/><path d="M2404.9 2504.2L2407.9 2510.2L2401.9 2510.2Z" fill="#cc2bcc"/><path d="M2434.9 2502.9L2437.9 2508.9L2431.9 2508.9Z" fill="#cc2bcc"/><path d="M2465.0 2501.5L2468.0 2507.5L2462.0 2507.5Z" fill="#cc2bcc"/><path d="M2495.1 2503.6L2498.1 2509.6L2492.1 2509.6Z" fill="#cc2bcc"/><path d="M2525.2 2503.4L2528.2 2509.4L2522.2 2509.4Z" fill="#cc2bcc"/><path d="M2555.3 2502.1L2558.3 2508.1L2552.3 2508.1Z" fill="#cc2bcc"/>
<path d="M2284.5 2499.2L2314.6 2480.6L2344.7 2465.1L2374.8 2452.6L2404.9 2441.9L2434.9 2437.1L2465.0 2434.8L2495.1 2430.6L2525.2 2429.8L2555.3 2428.7" fill="none" stroke="#2a992a" stroke-width="1.3" stroke-dasharray="5.5 2.5" stroke-linejoin="round" opacity="1"/>
<circle cx="2284.5" cy="2499.2" r="2.50" fill="#2a992a"/><circle cx="2314.6" cy="2480.6" r="2.50" fill="#2a992a"/><circle cx="2344.7" cy="2465.1" r="2.50" fill="#2a992a"/><circle cx="2374.8" cy="2452.6" r="2.50" fill="#2a992a"/><circle cx="2404.9" cy="2441.9" r="2.50" fill="#2a992a"/><circle cx="2434.9" cy="2437.1" r="2.50" fill="#2a992a"/><circle cx="2465.0" cy="2434.8" r="2.50" fill="#2a992a"/><circle cx="2495.1" cy="2430.6" r="2.50" fill="#2a992a"/><circle cx="2525.2" cy="2429.8" r="2.50" fill="#2a992a"/><circle cx="2555.3" cy="2428.7" r="2.50" fill="#2a992a"/>
<path d="M2284.5 2512.8L2314.6 2497.6L2344.7 2476.4L2374.8 2455.7L2404.9 2434.8L2434.9 2419.3L2465.0 2406.1L2495.1 2398.2L2525.2 2392.3L2555.3 2389.4" fill="none" stroke="#ff2a2a" stroke-width="1.3" stroke-linejoin="round" opacity="1"/>
<circle cx="2284.5" cy="2512.8" r="2.30" fill="#ff2a2a"/><circle cx="2314.6" cy="2497.6" r="2.30" fill="#ff2a2a"/><circle cx="2344.7" cy="2476.4" r="2.30" fill="#ff2a2a"/><circle cx="2374.8" cy="2455.7" r="2.30" fill="#ff2a2a"/><circle cx="2404.9" cy="2434.8" r="2.30" fill="#ff2a2a"/><circle cx="2434.9" cy="2419.3" r="2.30" fill="#ff2a2a"/><circle cx="2465.0" cy="2406.1" r="2.30" fill="#ff2a2a"/><circle cx="2495.1" cy="2398.2" r="2.30" fill="#ff2a2a"/><circle cx="2525.2" cy="2392.3" r="2.30" fill="#ff2a2a"/><circle cx="2555.3" cy="2389.4" r="2.30" fill="#ff2a2a"/>
<path d="M2284.5 2520.0L2314.6 2519.3L2344.7 2517.7L2374.8 2513.3L2404.9 2515.6L2434.9 2518.3L2465.0 2514.3L2495.1 2516.8L2525.2 2516.4L2555.3 2516.6" fill="none" stroke="#2a992a" stroke-width="1.5" stroke-linejoin="round" opacity="1"/>
<circle cx="2284.5" cy="2520.0" r="2.50" fill="#2a992a"/><circle cx="2314.6" cy="2519.3" r="2.50" fill="#2a992a"/><circle cx="2344.7" cy="2517.7" r="2.50" fill="#2a992a"/><circle cx="2374.8" cy="2513.3" r="2.50" fill="#2a992a"/><circle cx="2404.9" cy="2515.6" r="2.50" fill="#2a992a"/><circle cx="2434.9" cy="2518.3" r="2.50" fill="#2a992a"/><circle cx="2465.0" cy="2514.3" r="2.50" fill="#2a992a"/><circle cx="2495.1" cy="2516.8" r="2.50" fill="#2a992a"/><circle cx="2525.2" cy="2516.4" r="2.50" fill="#2a992a"/><circle cx="2555.3" cy="2516.6" r="2.50" fill="#2a992a"/>
</g>
<rect x="2284.5" y="2344.2" width="270.8000000000002" height="219.70000000000027" fill="none" stroke="#000" stroke-width="1.5"/>
<path d="M2281.3 2563.9H2284.5" stroke="#000" stroke-width="1"/>
<text x="2279.3" y="2568.4" font-size="12.3" text-anchor="end" fill="#000" textLength="7.4" lengthAdjust="spacingAndGlyphs">0</text>
<path d="M2281.3 2522.1H2284.5" stroke="#000" stroke-width="1"/>
<text x="2279.3" y="2526.6" font-size="12.3" text-anchor="end" fill="#000" textLength="14.9" lengthAdjust="spacingAndGlyphs">20</text>
<path d="M2281.3 2480.2H2284.5" stroke="#000" stroke-width="1"/>
<text x="2279.3" y="2484.7" font-size="12.3" text-anchor="end" fill="#000" textLength="14.9" lengthAdjust="spacingAndGlyphs">40</text>
<path d="M2281.3 2438.4H2284.5" stroke="#000" stroke-width="1"/>
<text x="2279.3" y="2442.9" font-size="12.3" text-anchor="end" fill="#000" textLength="14.9" lengthAdjust="spacingAndGlyphs">60</text>
<path d="M2281.3 2396.5H2284.5" stroke="#000" stroke-width="1"/>
<text x="2279.3" y="2401.0" font-size="12.3" text-anchor="end" fill="#000" textLength="14.9" lengthAdjust="spacingAndGlyphs">80</text>
<path d="M2281.3 2354.7H2284.5" stroke="#000" stroke-width="1"/>
<text x="2279.3" y="2359.2" font-size="12.3" text-anchor="end" fill="#000" textLength="22.3" lengthAdjust="spacingAndGlyphs">100</text>
<path d="M2284.5 2563.9V2567.1" stroke="#000" stroke-width="1"/>
<text x="2284.5" y="2578.3" font-size="12.3" text-anchor="middle" fill="#000" textLength="7.4" lengthAdjust="spacingAndGlyphs">1</text>
<path d="M2404.9 2563.9V2567.1" stroke="#000" stroke-width="1"/>
<text x="2404.9" y="2578.3" font-size="12.3" text-anchor="middle" fill="#000" textLength="7.4" lengthAdjust="spacingAndGlyphs">5</text>
<path d="M2555.3 2563.9V2567.1" stroke="#000" stroke-width="1"/>
<text x="2555.3" y="2578.3" font-size="12.3" text-anchor="middle" fill="#000" textLength="14.9" lengthAdjust="spacingAndGlyphs">10</text>
<text x="2418.9" y="2592.7" font-size="14.3" text-anchor="middle" fill="#000" textLength="52.0" lengthAdjust="spacingAndGlyphs">Rounds</text>
<text x="2253.2" y="2456.1" font-size="14" text-anchor="middle" fill="#000" textLength="77.2" lengthAdjust="spacingAndGlyphs" transform="rotate(-90 2253.2 2456.1)">ASR of CNN</text>
<rect x="2578.8" y="2388.2" width="135.7" height="152" rx="2.5" fill="#fff" stroke="#d0d0d0" stroke-width="1.1"/>
<path d="M2584.6 2399.8L2615.2 2399.8" fill="none" stroke="#ff2a2a" stroke-width="1.5" stroke-linejoin="round" opacity="1"/>
<circle cx="2599.9" cy="2399.8" r="2.30" fill="#ff2a2a"/>
<text x="2626.9" y="2405.4" font-size="15.6" text-anchor="start" fill="#000" textLength="53.8" lengthAdjust="spacingAndGlyphs">FedAvg</text>
<path d="M2584.6 2421.0L2615.2 2421.0" fill="none" stroke="#c8c832" stroke-width="1.4" stroke-dasharray="5.5 2.5" stroke-linejoin="round" opacity="1"/>
<path d="M2601.9 2421.0L2597.9 2423.0L2597.9 2419.0Z" fill="#c8c832"/>
<text x="2626.9" y="2426.6" font-size="15.6" text-anchor="start" fill="#000" textLength="39.7" lengthAdjust="spacingAndGlyphs">Krum</text>
<path d="M2584.6 2442.2L2615.2 2442.2" fill="none" stroke="#c8c832" stroke-width="1.4" stroke-dasharray="5.5 2.5" stroke-linejoin="round" opacity="1"/>
<path d="M2599.9 2439.9L2602.2 2444.5L2597.6 2444.5Z" fill="#c8c832"/>
<text x="2626.9" y="2447.8" font-size="15.6" text-anchor="start" fill="#000" textLength="81.4" lengthAdjust="spacingAndGlyphs">Multi-Krum</text>
<path d="M2584.6 2463.3L2615.2 2463.3" fill="none" stroke="#2fcaca" stroke-width="1.4" stroke-dasharray="5.5 2.5" stroke-linejoin="round" opacity="1"/>
<path d="M2599.9 2460.7L2600.5 2462.5L2602.4 2462.5L2600.9 2463.7L2601.4 2465.4L2599.9 2464.4L2598.4 2465.4L2598.9 2463.7L2597.4 2462.5L2599.3 2462.5Z" fill="#2fcaca"/>
<text x="2626.9" y="2468.9" font-size="15.6" text-anchor="start" fill="#000" textLength="51.0" lengthAdjust="spacingAndGlyphs">Bulyan</text>
<path d="M2584.6 2484.5L2615.2 2484.5" fill="none" stroke="#cc2bcc" stroke-width="1.4" stroke-dasharray="5.5 2.5" stroke-linejoin="round" opacity="1"/>
<path d="M2599.9 2481.5L2602.9 2487.5L2596.9 2487.5Z" fill="#cc2bcc"/>
<text x="2626.9" y="2490.1" font-size="15.6" text-anchor="start" fill="#000" textLength="75.1" lengthAdjust="spacingAndGlyphs">Dim-Krum</text>
<path d="M2584.6 2505.7L2615.2 2505.7" fill="none" stroke="#2a992a" stroke-width="1.5" stroke-dasharray="5.5 2.5" stroke-linejoin="round" opacity="1"/>
<circle cx="2599.9" cy="2505.7" r="2.50" fill="#2a992a"/>
<text x="2626.9" y="2511.3" font-size="15.6" text-anchor="start" fill="#000" textLength="72.3" lengthAdjust="spacingAndGlyphs">Euclidean</text>
<path d="M2584.6 2526.9L2615.2 2526.9" fill="none" stroke="#2a992a" stroke-width="1.7" stroke-linejoin="round" opacity="1"/>
<circle cx="2599.9" cy="2526.9" r="2.50" fill="#2a992a"/>
<text x="2626.9" y="2532.5" font-size="15.6" text-anchor="start" fill="#000" textLength="49.0" lengthAdjust="spacingAndGlyphs">Fed-FA</text>
</svg>
<div class="t s" style="left:1584.2px;top:2432.6px;font-size:26.4px;transform:scaleX(0.9965);">(a) Average ASRs on GRU.</div>
<div class="t s" style="left:1912.0px;top:2432.6px;font-size:26.4px;transform:scaleX(0.9962);">(b) Average ASRs on LSTM.</div>
<div class="t s" style="left:2256.2px;top:2432.6px;font-size:26.4px;">(c) Average ASRs on CNN.</div>
<div class="t s" style="left:2585.7px;top:2432.6px;font-size:26.4px;transform:scaleX(0.9829);">(d) Legend.</div>
<div class="t s" style="left:1566.8px;top:2483.7px;font-size:28.1px;transform:scaleX(0.9967);">Figure 2:&nbsp; ASRs in 10 rounds.&nbsp; Fed-FA can maintain the best defense effect during all stages of training.</div>
<svg class="A" width="4320" height="2880" viewBox="0 0 4320 2880" style="left:0;top:0">
<rect x="3104.9" y="2042.6" width="15.7" height="142.8" fill="#ff6666"/>
<rect x="3120.6" y="2157.4" width="15.7" height="28.0" fill="#66b266"/>
<rect x="3136.2" y="2182.9" width="15.7" height="2.5" fill="#6666ff"/>
<rect x="3181.2" y="2045.9" width="15.7" height="139.5" fill="#ff6666"/>
<rect x="3196.9" y="2084.0" width="15.7" height="101.4" fill="#66b266"/>
<rect x="3212.6" y="2114.0" width="15.7" height="71.4" fill="#6666ff"/>
<rect x="3257.6" y="2026.8" width="15.7" height="158.6" fill="#ff6666"/>
<rect x="3273.2" y="2081.1" width="15.7" height="104.3" fill="#66b266"/>
<rect x="3288.9" y="2146.9" width="15.7" height="38.5" fill="#6666ff"/>
<rect x="3334.0" y="2021.6" width="15.7" height="163.8" fill="#ff6666"/>
<rect x="3349.6" y="2072.9" width="15.7" height="112.5" fill="#66b266"/>
<rect x="3365.3" y="2120.3" width="15.7" height="65.1" fill="#6666ff"/>
<rect x="3098.4" y="1962.4" width="304.9" height="223.0" fill="none" stroke="#000" stroke-width="1.4"/>
<path d="M3095.2 2182.5H3098.4" stroke="#000" stroke-width="1"/>
<text x="3092.8" y="2187.7" font-size="14.6" text-anchor="end" fill="#000" textLength="17.9" lengthAdjust="spacingAndGlyphs">20</text>
<path d="M3095.2 2140.6H3098.4" stroke="#000" stroke-width="1"/>
<text x="3092.8" y="2145.8" font-size="14.6" text-anchor="end" fill="#000" textLength="17.9" lengthAdjust="spacingAndGlyphs">40</text>
<path d="M3095.2 2098.7H3098.4" stroke="#000" stroke-width="1"/>
<text x="3092.8" y="2103.9" font-size="14.6" text-anchor="end" fill="#000" textLength="17.9" lengthAdjust="spacingAndGlyphs">60</text>
<path d="M3095.2 2056.8H3098.4" stroke="#000" stroke-width="1"/>
<text x="3092.8" y="2062.0" font-size="14.6" text-anchor="end" fill="#000" textLength="17.9" lengthAdjust="spacingAndGlyphs">80</text>
<path d="M3095.2 2014.9H3098.4" stroke="#000" stroke-width="1"/>
<text x="3092.8" y="2020.1" font-size="14.6" text-anchor="end" fill="#000" textLength="26.9" lengthAdjust="spacingAndGlyphs">100</text>
<path d="M3128.4 2185.4V2188.6" stroke="#000" stroke-width="1"/>
<text x="3127.7" y="2200.0" font-size="13.4" text-anchor="middle" fill="#000" textLength="70.8" lengthAdjust="spacingAndGlyphs">IID, 1 Atker</text>
<path d="M3204.7 2185.4V2188.6" stroke="#000" stroke-width="1"/>
<text x="3204.5" y="2200.0" font-size="13.4" text-anchor="middle" fill="#000" textLength="53.4" lengthAdjust="spacingAndGlyphs">Dirichlet</text>
<path d="M3281.1 2185.4V2188.6" stroke="#000" stroke-width="1"/>
<text x="3281.0" y="2200.0" font-size="13.4" text-anchor="middle" fill="#000" textLength="52.1" lengthAdjust="spacingAndGlyphs">2 Atkers</text>
<path d="M3357.4 2185.4V2188.6" stroke="#000" stroke-width="1"/>
<text x="3357.5" y="2200.0" font-size="13.4" text-anchor="middle" fill="#000" textLength="52.1" lengthAdjust="spacingAndGlyphs">3 Atkers</text>
<text x="3063.8" y="2074.2" font-size="14.4" text-anchor="middle" fill="#000" textLength="28.4" lengthAdjust="spacingAndGlyphs" transform="rotate(-90 3063.8 2074.2)">ASR</text>
<rect x="3104.6" y="1970.3" width="118.3" height="70.1" rx="2.5" fill="#fff" fill-opacity="0.8" stroke="#d4d4d4" stroke-width="1.1"/>
<rect x="3109.6" y="1977.2" width="28.4" height="10.3" fill="#ff6666"/>
<text x="3148.5" y="1987.6" font-size="14.2" text-anchor="start" fill="#000" textLength="53.7" lengthAdjust="spacingAndGlyphs">Fed-Avg</text>
<rect x="3109.6" y="1999.4" width="28.4" height="10.3" fill="#66b266"/>
<text x="3148.5" y="2009.8" font-size="14.2" text-anchor="start" fill="#000" textLength="68.5" lengthAdjust="spacingAndGlyphs">Dim-Krum</text>
<rect x="3109.6" y="2021.5" width="28.4" height="10.3" fill="#6666ff"/>
<text x="3148.5" y="2031.9" font-size="14.2" text-anchor="start" fill="#000" textLength="44.7" lengthAdjust="spacingAndGlyphs">Fed-FA</text>
<clipPath id="c33458"><rect x="3458.2" y="1961.7" width="330.3" height="213.4"/></clipPath>
<g clip-path="url(#c33458)">
<path d="M3458.2 1967.6L3513.2 1967.1L3568.3 1971.2L3623.3 2011.1L3678.4 2067.2L3733.4 2098.0L3788.5 2155.5" fill="none" stroke="#ff1a1a" stroke-width="2.0" stroke-linejoin="round" opacity="1"/>
<circle cx="3458.2" cy="1967.6" r="3.30" fill="#ff1a1a"/><circle cx="3513.2" cy="1967.1" r="3.30" fill="#ff1a1a"/><circle cx="3568.3" cy="1971.2" r="3.30" fill="#ff1a1a"/><circle cx="3623.3" cy="2011.1" r="3.30" fill="#ff1a1a"/><circle cx="3678.4" cy="2067.2" r="3.30" fill="#ff1a1a"/><circle cx="3733.4" cy="2098.0" r="3.30" fill="#ff1a1a"/><circle cx="3788.5" cy="2155.5" r="3.30" fill="#ff1a1a"/>
<path d="M3458.2 2156.6L3513.2 2154.6L3568.3 2148.2L3623.3 2131.3L3678.4 2085.2L3733.4 2092.5L3788.5 2155.5" fill="none" stroke="#1f8c1f" stroke-width="2.0" stroke-linejoin="round" opacity="1"/>
<path d="M3458.2 2152.7L3462.1 2160.5L3454.3 2160.5Z" fill="#1f8c1f"/><path d="M3513.2 2150.7L3517.2 2158.5L3509.3 2158.5Z" fill="#1f8c1f"/><path d="M3568.3 2144.3L3572.2 2152.1L3564.4 2152.1Z" fill="#1f8c1f"/><path d="M3623.3 2127.4L3627.2 2135.2L3619.4 2135.2Z" fill="#1f8c1f"/><path d="M3678.4 2081.3L3682.3 2089.1L3674.5 2089.1Z" fill="#1f8c1f"/><path d="M3733.4 2088.6L3737.3 2096.4L3729.5 2096.4Z" fill="#1f8c1f"/><path d="M3788.5 2151.6L3792.4 2159.4L3784.6 2159.4Z" fill="#1f8c1f"/>
<path d="M3458.2 2155.5L3513.2 2155.5L3568.3 2154.6L3623.3 2155.5L3678.4 2154.3L3733.4 2155.2L3788.5 2155.5" fill="none" stroke="#2222ff" stroke-width="2.0" stroke-linejoin="round" opacity="1"/>
<rect x="3454.7" y="2152.0" width="7.0" height="7.0" fill="#2222ff"/><rect x="3509.8" y="2152.0" width="7.0" height="7.0" fill="#2222ff"/><rect x="3564.8" y="2151.1" width="7.0" height="7.0" fill="#2222ff"/><rect x="3619.8" y="2152.0" width="7.0" height="7.0" fill="#2222ff"/><rect x="3674.9" y="2150.8" width="7.0" height="7.0" fill="#2222ff"/><rect x="3729.9" y="2151.7" width="7.0" height="7.0" fill="#2222ff"/><rect x="3785.0" y="2152.0" width="7.0" height="7.0" fill="#2222ff"/>
</g>
<rect x="3458.2" y="1961.7" width="330.3" height="213.4" fill="none" stroke="#000" stroke-width="1.4"/>
<path d="M3455.0 2163.9H3458.2" stroke="#000" stroke-width="1"/>
<text x="3453.4" y="2168.5" font-size="12.4" text-anchor="end" fill="#000" textLength="15.0" lengthAdjust="spacingAndGlyphs">10</text>
<path d="M3455.0 2118.3H3458.2" stroke="#000" stroke-width="1"/>
<text x="3453.4" y="2122.9" font-size="12.4" text-anchor="end" fill="#000" textLength="15.0" lengthAdjust="spacingAndGlyphs">30</text>
<path d="M3455.0 2072.7H3458.2" stroke="#000" stroke-width="1"/>
<text x="3453.4" y="2077.3" font-size="12.4" text-anchor="end" fill="#000" textLength="15.0" lengthAdjust="spacingAndGlyphs">50</text>
<path d="M3455.0 2027.1H3458.2" stroke="#000" stroke-width="1"/>
<text x="3453.4" y="2031.7" font-size="12.4" text-anchor="end" fill="#000" textLength="15.0" lengthAdjust="spacingAndGlyphs">70</text>
<path d="M3455.0 1981.5H3458.2" stroke="#000" stroke-width="1"/>
<text x="3453.4" y="1986.1" font-size="12.4" text-anchor="end" fill="#000" textLength="15.0" lengthAdjust="spacingAndGlyphs">90</text>
<path d="M3458.2 2175.1V2178.3" stroke="#000" stroke-width="1"/>
<text x="3458.2" y="2188.0" font-size="12.4" text-anchor="middle" fill="#000" textLength="7.5" lengthAdjust="spacingAndGlyphs">0</text>
<path d="M3513.2 2175.1V2178.3" stroke="#000" stroke-width="1"/>
<text x="3499.7" y="2188.0" font-size="12.4" fill="#000" textLength="15.0" lengthAdjust="spacingAndGlyphs">10</text>
<text x="3515.0" y="2183.4" font-size="8.6" fill="#000" textLength="12.1" lengthAdjust="spacingAndGlyphs">&#8722;5</text>
<path d="M3568.3 2175.1V2178.3" stroke="#000" stroke-width="1"/>
<text x="3554.7" y="2188.0" font-size="12.4" fill="#000" textLength="15.0" lengthAdjust="spacingAndGlyphs">10</text>
<text x="3570.1" y="2183.4" font-size="8.6" fill="#000" textLength="12.1" lengthAdjust="spacingAndGlyphs">&#8722;4</text>
<path d="M3623.3 2175.1V2178.3" stroke="#000" stroke-width="1"/>
<text x="3609.8" y="2188.0" font-size="12.4" fill="#000" textLength="15.0" lengthAdjust="spacingAndGlyphs">10</text>
<text x="3625.1" y="2183.4" font-size="8.6" fill="#000" textLength="12.1" lengthAdjust="spacingAndGlyphs">&#8722;3</text>
<path d="M3678.4 2175.1V2178.3" stroke="#000" stroke-width="1"/>
<text x="3664.8" y="2188.0" font-size="12.4" fill="#000" textLength="15.0" lengthAdjust="spacingAndGlyphs">10</text>
<text x="3680.2" y="2183.4" font-size="8.6" fill="#000" textLength="12.1" lengthAdjust="spacingAndGlyphs">&#8722;2</text>
<path d="M3733.4 2175.1V2178.3" stroke="#000" stroke-width="1"/>
<text x="3719.9" y="2188.0" font-size="12.4" fill="#000" textLength="15.0" lengthAdjust="spacingAndGlyphs">10</text>
<text x="3735.2" y="2183.4" font-size="8.6" fill="#000" textLength="12.1" lengthAdjust="spacingAndGlyphs">&#8722;1</text>
<path d="M3788.5 2175.1V2178.3" stroke="#000" stroke-width="1"/>
<text x="3788.5" y="2188.0" font-size="12.4" text-anchor="middle" fill="#000" textLength="7.5" lengthAdjust="spacingAndGlyphs">1</text>
<text x="3622.9" y="2203.1" font-size="15.2" text-anchor="middle" fill="#000" textLength="117.0" lengthAdjust="spacingAndGlyphs">Weight Decay <tspan font-style="italic">&#955;</tspan></text>
<text x="3433.0" y="2068.0" font-size="14.4" text-anchor="middle" fill="#000" textLength="27.4" lengthAdjust="spacingAndGlyphs" transform="rotate(-90 3433.0 2068.0)">ASR</text>
<rect x="3466.1" y="2031.3" width="133.8" height="72.5" rx="2.5" fill="#fff" fill-opacity="0.8" stroke="#d4d4d4" stroke-width="1.1"/>
<path d="M3471.1 2043.9L3505.1 2043.9" fill="none" stroke="#ff1a1a" stroke-width="2.0" stroke-linejoin="round" opacity="1"/>
<circle cx="3488.1" cy="2043.9" r="3.30" fill="#ff1a1a"/>
<text x="3516.7" y="2049.5" font-size="15.2" text-anchor="start" fill="#000" textLength="57.4" lengthAdjust="spacingAndGlyphs">Fed-Avg</text>
<path d="M3471.1 2066.7L3505.1 2066.7" fill="none" stroke="#1f8c1f" stroke-width="2.0" stroke-linejoin="round" opacity="1"/>
<path d="M3488.1 2062.8L3492.0 2070.6L3484.2 2070.6Z" fill="#1f8c1f"/>
<text x="3516.7" y="2072.3" font-size="15.2" text-anchor="start" fill="#000" textLength="70.6" lengthAdjust="spacingAndGlyphs">Euclidean</text>
<path d="M3471.1 2089.5L3505.1 2089.5" fill="none" stroke="#2222ff" stroke-width="2.0" stroke-linejoin="round" opacity="1"/>
<rect x="3484.6" y="2086.0" width="7.0" height="7.0" fill="#2222ff"/>
<text x="3516.7" y="2095.1" font-size="15.2" text-anchor="start" fill="#000" textLength="47.8" lengthAdjust="spacingAndGlyphs">Fed-FA</text>
<clipPath id="c33840"><rect x="3840.3" y="1962.4" width="317.3" height="212.7"/></clipPath>
<g clip-path="url(#c33840)">
<path d="M3840.3 1963.0L3893.2 1966.4L3946.1 1973.0L3999.0 2030.6L4051.8 2059.3L4104.7 2091.0L4157.6 2131.6" fill="none" stroke="#ff1a1a" stroke-width="2.0" stroke-linejoin="round" opacity="1"/>
<circle cx="3840.3" cy="1963.0" r="3.30" fill="#ff1a1a"/><circle cx="3893.2" cy="1966.4" r="3.30" fill="#ff1a1a"/><circle cx="3946.1" cy="1973.0" r="3.30" fill="#ff1a1a"/><circle cx="3999.0" cy="2030.6" r="3.30" fill="#ff1a1a"/><circle cx="4051.8" cy="2059.3" r="3.30" fill="#ff1a1a"/><circle cx="4104.7" cy="2091.0" r="3.30" fill="#ff1a1a"/><circle cx="4157.6" cy="2131.6" r="3.30" fill="#ff1a1a"/>
<path d="M3840.3 2156.3L3893.2 2149.7L3946.1 2149.7L3999.0 2150.2L4051.8 2150.2L4104.7 2150.2L4157.6 2150.2" fill="none" stroke="#1f8c1f" stroke-width="2.0" stroke-linejoin="round" opacity="1"/>
<path d="M3840.3 2152.4L3844.2 2160.2L3836.4 2160.2Z" fill="#1f8c1f"/><path d="M3893.2 2145.8L3897.1 2153.6L3889.3 2153.6Z" fill="#1f8c1f"/><path d="M3946.1 2145.8L3950.0 2153.6L3942.2 2153.6Z" fill="#1f8c1f"/><path d="M3999.0 2146.3L4002.9 2154.1L3995.1 2154.1Z" fill="#1f8c1f"/><path d="M4051.8 2146.3L4055.7 2154.1L4047.9 2154.1Z" fill="#1f8c1f"/><path d="M4104.7 2146.3L4108.6 2154.1L4100.8 2154.1Z" fill="#1f8c1f"/><path d="M4157.6 2146.3L4161.5 2154.1L4153.7 2154.1Z" fill="#1f8c1f"/>
<path d="M3840.3 2155.4L3893.2 2160.1L3946.1 2163.9L3999.0 2165.8L4051.8 2163.7L4104.7 2160.1L4157.6 2163.5" fill="none" stroke="#2222ff" stroke-width="2.0" stroke-linejoin="round" opacity="1"/>
<rect x="3836.8" y="2151.9" width="7.0" height="7.0" fill="#2222ff"/><rect x="3889.7" y="2156.6" width="7.0" height="7.0" fill="#2222ff"/><rect x="3942.6" y="2160.4" width="7.0" height="7.0" fill="#2222ff"/><rect x="3995.5" y="2162.3" width="7.0" height="7.0" fill="#2222ff"/><rect x="4048.3" y="2160.2" width="7.0" height="7.0" fill="#2222ff"/><rect x="4101.2" y="2156.6" width="7.0" height="7.0" fill="#2222ff"/><rect x="4154.1" y="2160.0" width="7.0" height="7.0" fill="#2222ff"/>
</g>
<rect x="3840.3" y="1962.4" width="317.3" height="212.7" fill="none" stroke="#000" stroke-width="1.4"/>
<path d="M3837.1 2164.4H3840.3" stroke="#000" stroke-width="1"/>
<text x="3835.5" y="2169.0" font-size="12.4" text-anchor="end" fill="#000" textLength="15.0" lengthAdjust="spacingAndGlyphs">10</text>
<path d="M3837.1 2119.2H3840.3" stroke="#000" stroke-width="1"/>
<text x="3835.5" y="2123.8" font-size="12.4" text-anchor="end" fill="#000" textLength="15.0" lengthAdjust="spacingAndGlyphs">30</text>
<path d="M3837.1 2074.0H3840.3" stroke="#000" stroke-width="1"/>
<text x="3835.5" y="2078.6" font-size="12.4" text-anchor="end" fill="#000" textLength="15.0" lengthAdjust="spacingAndGlyphs">50</text>
<path d="M3837.1 2028.8H3840.3" stroke="#000" stroke-width="1"/>
<text x="3835.5" y="2033.4" font-size="12.4" text-anchor="end" fill="#000" textLength="15.0" lengthAdjust="spacingAndGlyphs">70</text>
<path d="M3837.1 1983.6H3840.3" stroke="#000" stroke-width="1"/>
<text x="3835.5" y="1988.2" font-size="12.4" text-anchor="end" fill="#000" textLength="15.0" lengthAdjust="spacingAndGlyphs">90</text>
<path d="M3840.3 2175.1V2178.3" stroke="#000" stroke-width="1"/>
<text x="3840.3" y="2188.0" font-size="12.4" text-anchor="middle" fill="#000" textLength="7.5" lengthAdjust="spacingAndGlyphs">0</text>
<path d="M3893.2 2175.1V2178.3" stroke="#000" stroke-width="1"/>
<text x="3883.1" y="2188.0" font-size="12.4" fill="#000" textLength="15.0" lengthAdjust="spacingAndGlyphs">10</text>
<text x="3898.4" y="2183.4" font-size="8.6" fill="#000" textLength="5.2" lengthAdjust="spacingAndGlyphs">2</text>
<path d="M3946.1 2175.1V2178.3" stroke="#000" stroke-width="1"/>
<text x="3936.0" y="2188.0" font-size="12.4" fill="#000" textLength="15.0" lengthAdjust="spacingAndGlyphs">10</text>
<text x="3951.3" y="2183.4" font-size="8.6" fill="#000" textLength="5.2" lengthAdjust="spacingAndGlyphs">3</text>
<path d="M3999.0 2175.1V2178.3" stroke="#000" stroke-width="1"/>
<text x="3988.8" y="2188.0" font-size="12.4" fill="#000" textLength="15.0" lengthAdjust="spacingAndGlyphs">10</text>
<text x="4004.1" y="2183.4" font-size="8.6" fill="#000" textLength="5.2" lengthAdjust="spacingAndGlyphs">4</text>
<path d="M4051.8 2175.1V2178.3" stroke="#000" stroke-width="1"/>
<text x="4041.7" y="2188.0" font-size="12.4" fill="#000" textLength="15.0" lengthAdjust="spacingAndGlyphs">10</text>
<text x="4057.0" y="2183.4" font-size="8.6" fill="#000" textLength="5.2" lengthAdjust="spacingAndGlyphs">5</text>
<path d="M4104.7 2175.1V2178.3" stroke="#000" stroke-width="1"/>
<text x="4094.6" y="2188.0" font-size="12.4" fill="#000" textLength="15.0" lengthAdjust="spacingAndGlyphs">10</text>
<text x="4109.9" y="2183.4" font-size="8.6" fill="#000" textLength="5.2" lengthAdjust="spacingAndGlyphs">6</text>
<path d="M4157.6 2175.1V2178.3" stroke="#000" stroke-width="1"/>
<text x="4147.5" y="2188.0" font-size="12.4" fill="#000" textLength="15.0" lengthAdjust="spacingAndGlyphs">10</text>
<text x="4162.8" y="2183.4" font-size="8.6" fill="#000" textLength="5.2" lengthAdjust="spacingAndGlyphs">7</text>
<text x="3998.4" y="2203.1" font-size="15.2" text-anchor="middle" fill="#000" textLength="131.0" lengthAdjust="spacingAndGlyphs">Adaptive Decay <tspan font-style="italic">&#955;</tspan></text>
<text x="3815.2" y="2069.0" font-size="14.4" text-anchor="middle" fill="#000" textLength="27.4" lengthAdjust="spacingAndGlyphs" transform="rotate(-90 3815.2 2069.0)">ASR</text>
<rect x="4021.6" y="1970.3" width="128.6" height="71.8" rx="2.5" fill="#fff" fill-opacity="0.8" stroke="#d4d4d4" stroke-width="1.1"/>
<path d="M4026.6 1982.9L4060.6 1982.9" fill="none" stroke="#ff1a1a" stroke-width="2.0" stroke-linejoin="round" opacity="1"/>
<circle cx="4043.6" cy="1982.9" r="3.30" fill="#ff1a1a"/>
<text x="4072.2" y="1988.5" font-size="15.2" text-anchor="start" fill="#000" textLength="57.4" lengthAdjust="spacingAndGlyphs">Fed-Avg</text>
<path d="M4026.6 2005.7L4060.6 2005.7" fill="none" stroke="#1f8c1f" stroke-width="2.0" stroke-linejoin="round" opacity="1"/>
<path d="M4043.6 2001.8L4047.5 2009.6L4039.7 2009.6Z" fill="#1f8c1f"/>
<text x="4072.2" y="2011.3" font-size="15.2" text-anchor="start" fill="#000" textLength="70.6" lengthAdjust="spacingAndGlyphs">Euclidean</text>
<path d="M4026.6 2028.5L4060.6 2028.5" fill="none" stroke="#2222ff" stroke-width="2.0" stroke-linejoin="round" opacity="1"/>
<rect x="4040.1" y="2025.0" width="7.0" height="7.0" fill="#2222ff"/>
<text x="4072.2" y="2034.1" font-size="15.2" text-anchor="start" fill="#000" textLength="47.8" lengthAdjust="spacingAndGlyphs">Fed-FA</text>
</svg>
<div class="t s" style="left:3052.0px;top:2042.4px;font-size:25.9px;transform:scaleX(0.9936);">(a) Non-IID and multi-atker cases.</div>
<div class="t s" style="left:3454.3px;top:2042.4px;font-size:25.9px;">(b) Average ASRs on LSTM.</div>
<div class="t s" style="left:3843.4px;top:2042.4px;font-size:25.9px;">(c) Average ASRs on CNN.</div>
<div class="t s" style="left:3049.2px;top:2093.3px;font-size:28.2px;transform:scaleX(1.0036);">Figure 3: Results under non-IID and multiple attacker cases and under adaptive attacks. Fed-FA still</div>
<div class="t s" style="left:3049.2px;top:2124.8px;font-size:28.2px;transform:scaleX(0.9894);">outperforms existing baselines under non-IID and multi-atker cases and is robust to adaptive attacks.</div>
<div class="r" style="left:173.5px;top:1529.3px;width:1114.8px;height:347.6px;border:1.3px dotted #333;box-sizing:border-box"></div>
<div class="r" style="left:753.2px;top:1530px;width:0;height:346px;border-left:1.3px dotted #333"></div>
<div class="r" style="left:179.9px;top:1541.8px;width:179.6px;height:83.4px;background:#dde8f5;border:1.5px solid #000;box-sizing:border-box;"></div>
<div class="r" style="left:189.3px;top:1584.4px;width:161.3px;height:32.1px;background:#dde8f5;border:1.3px solid #000;box-sizing:border-box;"></div>
<div class="r" style="left:179.9px;top:1663.5px;width:179.6px;height:83.6px;background:#dde8f5;border:1.5px solid #000;box-sizing:border-box;"></div>
<div class="r" style="left:189.3px;top:1704.3px;width:161.3px;height:33.4px;background:#dde8f5;border:1.3px solid #000;box-sizing:border-box;"></div>
<div class="r" style="left:184.2px;top:1807.6px;width:158.5px;height:55.6px;background:#dde8f5;border:1.5px solid #000;box-sizing:border-box;"></div>
<div class="r" style="left:350.1px;top:1807.6px;width:132.6px;height:56.4px;background:#dde8f5;border:1.5px solid #000;box-sizing:border-box;"></div>
<div class="r" style="left:383.2px;top:1566.8px;width:79.1px;height:34.4px;background:#dde8f5;border:1.3px solid #000;box-sizing:border-box;"></div>
<div class="r" style="left:383.2px;top:1688.0px;width:79.1px;height:33.1px;background:#dde8f5;border:1.3px solid #000;box-sizing:border-box;"></div>
<div class="r" style="left:485.3px;top:1544.3px;width:265.8px;height:324.0px;background:#e3eed9;border:1.5px solid #000;box-sizing:border-box;"></div>
<div class="r" style="left:495.0px;top:1723.4px;width:244.6px;height:141.9px;background:#fff;border:1.3px solid #000;box-sizing:border-box;"></div>
<div class="r" style="left:755.8px;top:1534.1px;width:530.1px;height:334.7px;background:#fff;border:1.6px solid #f01818;box-sizing:border-box;"></div>
<div class="r" style="left:761.7px;top:1538.0px;width:254.3px;height:272.4px;background:#fff;border:1.8px solid #b9b9b9;box-sizing:border-box;"></div>
<div class="r" style="left:1021.4px;top:1538.0px;width:256.1px;height:272.4px;background:#fff;border:1.8px solid #b9b9b9;box-sizing:border-box;"></div>
<svg class="A" width="4320" height="2880" viewBox="0 0 4320 2880" style="left:0;top:0">
<defs><marker id="ah" viewBox="0 0 10 10" refX="7" refY="5" markerWidth="3.3" markerHeight="3.3" orient="auto"><path d="M0 0L10 5L0 10Z" fill="#000"/></marker><marker id="ahr" viewBox="0 0 10 10" refX="6" refY="5" markerWidth="2.6" markerHeight="2.6" orient="auto"><path d="M0 0L10 5L0 10Z" fill="#f01818"/></marker><marker id="ahs" viewBox="0 0 10 10" refX="8" refY="5" markerWidth="5" markerHeight="5" orient="auto"><path d="M0 1.5L10 5L0 8.5Z" fill="#000"/></marker></defs>
<path d="M359.5 1583.4L378.3 1583.4" stroke="#000" stroke-width="3.4" fill="none" marker-end="url(#ah)"/>
<path d="M359.5 1704.5L378.3 1704.5" stroke="#000" stroke-width="3.4" fill="none" marker-end="url(#ah)"/>
<path d="M465.4 1587.2L482.7 1656.0" stroke="#000" stroke-width="3.2" fill="none" marker-end="url(#ah)"/>
<path d="M466.1 1705.8L480.8 1705.8" stroke="#000" stroke-width="3.2" fill="none" marker-end="url(#ah)"/>
<path d="M467.4 1767.6L481.6 1728.5" stroke="#000" stroke-width="3.2" fill="none" marker-end="url(#ah)"/>
<path d="M263.3 1775.5L263.3 1803.5" stroke="#000" stroke-width="3.0" fill="none" marker-end="url(#ah)"/>
<path d="M422.6 1777.5L422.6 1801.2" stroke="#000" stroke-width="5.2" fill="none" marker-end="url(#ah)"/>
<path d="M744.5 1620.4L765.5 1620.4" stroke="#f01818" stroke-width="5.0" fill="none" marker-end="url(#ahr)"/>
<rect x="262.5" y="1634.5" width="2.6" height="2.6" fill="#000"/><rect x="262.5" y="1642.1" width="2.6" height="2.6" fill="#000"/><rect x="262.5" y="1649.7" width="2.6" height="2.6" fill="#000"/>
<rect x="262.5" y="1751.3" width="2.6" height="2.6" fill="#000"/><rect x="262.5" y="1758.9" width="2.6" height="2.6" fill="#000"/><rect x="262.5" y="1766.5" width="2.6" height="2.6" fill="#000"/>
<rect x="421.5" y="1634.5" width="2.6" height="2.6" fill="#000"/><rect x="421.5" y="1642.1" width="2.6" height="2.6" fill="#000"/><rect x="421.5" y="1649.7" width="2.6" height="2.6" fill="#000"/>
<rect x="421.5" y="1751.3" width="2.6" height="2.6" fill="#000"/><rect x="421.5" y="1758.9" width="2.6" height="2.6" fill="#000"/><rect x="421.5" y="1766.5" width="2.6" height="2.6" fill="#000"/>
<g fill="#1c1cf0"><circle cx="763.5" cy="1802.0" r="1.25"/><circle cx="765.5" cy="1797.7" r="1.25"/><circle cx="769.3" cy="1785.4" r="1.25"/><circle cx="771.9" cy="1786.7" r="1.25"/><circle cx="775.7" cy="1775.7" r="1.25"/><circle cx="779.5" cy="1770.1" r="1.25"/><circle cx="782.1" cy="1739.5" r="1.25"/><circle cx="784.6" cy="1744.1" r="1.25"/><circle cx="787.2" cy="1734.4" r="1.25"/><circle cx="789.7" cy="1730.6" r="1.25"/><circle cx="792.3" cy="1724.7" r="1.25"/><circle cx="794.8" cy="1722.9" r="1.25"/><circle cx="797.4" cy="1710.9" r="1.25"/><circle cx="799.9" cy="1696.9" r="1.25"/><circle cx="803.8" cy="1696.1" r="1.25"/><circle cx="806.8" cy="1693.6" r="1.25"/><circle cx="810.2" cy="1676.2" r="1.25"/><circle cx="813.5" cy="1681.3" r="1.25"/><circle cx="816.5" cy="1672.7" r="1.25"/><circle cx="819.6" cy="1671.1" r="1.25"/><circle cx="822.1" cy="1657.9" r="1.25"/><circle cx="824.9" cy="1647.1" r="1.25"/><circle cx="828.0" cy="1643.8" r="1.25"/><circle cx="830.6" cy="1640.5" r="1.25"/><circle cx="833.1" cy="1639.5" r="1.25"/><circle cx="835.7" cy="1644.6" r="1.25"/><circle cx="838.2" cy="1640.0" r="1.25"/><circle cx="841.5" cy="1641.0" r="1.25"/><circle cx="844.6" cy="1615.8" r="1.25"/><circle cx="847.7" cy="1634.9" r="1.25"/><circle cx="850.5" cy="1627.2" r="1.25"/><circle cx="853.5" cy="1613.2" r="1.25"/><circle cx="856.1" cy="1623.4" r="1.25"/><circle cx="858.6" cy="1620.9" r="1.25"/><circle cx="861.9" cy="1608.1" r="1.25"/><circle cx="863.7" cy="1604.8" r="1.25"/><circle cx="865.5" cy="1608.9" r="1.25"/><circle cx="868.3" cy="1611.9" r="1.25"/><circle cx="870.6" cy="1603.0" r="1.25"/><circle cx="872.7" cy="1601.2" r="1.25"/><circle cx="875.2" cy="1600.5" r="1.25"/><circle cx="877.8" cy="1596.6" r="1.25"/><circle cx="880.3" cy="1602.5" r="1.25"/><circle cx="882.9" cy="1595.4" r="1.25"/><circle cx="885.9" cy="1582.6" r="1.25"/><circle cx="889.2" cy="1586.4" r="1.25"/><circle cx="891.8" cy="1591.0" r="1.25"/><circle cx="893.8" cy="1589.0" r="1.25"/><circle cx="896.1" cy="1595.4" r="1.25"/><circle cx="898.7" cy="1591.5" r="1.25"/><circle cx="900.7" cy="1590.3" r="1.25"/><circle cx="903.3" cy="1589.0" r="1.25"/><circle cx="905.8" cy="1582.1" r="1.25"/><circle cx="908.4" cy="1582.6" r="1.25"/><circle cx="911.4" cy="1591.0" r="1.25"/><circle cx="914.0" cy="1570.6" r="1.25"/><circle cx="916.5" cy="1581.3" r="1.25"/><circle cx="919.3" cy="1582.6" r="1.25"/><circle cx="921.6" cy="1577.5" r="1.25"/><circle cx="924.2" cy="1576.2" r="1.25"/><circle cx="927.0" cy="1570.4" r="1.25"/><circle cx="930.1" cy="1572.4" r="1.25"/><circle cx="932.6" cy="1573.7" r="1.25"/><circle cx="935.2" cy="1572.4" r="1.25"/><circle cx="937.7" cy="1577.0" r="1.25"/><circle cx="940.3" cy="1574.9" r="1.25"/><circle cx="942.8" cy="1565.5" r="1.25"/><circle cx="945.4" cy="1564.7" r="1.25"/><circle cx="947.9" cy="1569.1" r="1.25"/><circle cx="950.5" cy="1567.3" r="1.25"/><circle cx="952.5" cy="1563.5" r="1.25"/><circle cx="955.1" cy="1566.0" r="1.25"/><circle cx="957.3" cy="1569.8" r="1.25"/><circle cx="959.9" cy="1564.7" r="1.25"/><circle cx="961.9" cy="1566.0" r="1.25"/><circle cx="964.5" cy="1560.4" r="1.25"/><circle cx="967.0" cy="1569.8" r="1.25"/><circle cx="969.6" cy="1568.6" r="1.25"/><circle cx="972.1" cy="1568.1" r="1.25"/><circle cx="974.7" cy="1555.1" r="1.25"/><circle cx="977.8" cy="1566.0" r="1.25"/><circle cx="980.3" cy="1564.0" r="1.25"/><circle cx="982.9" cy="1561.4" r="1.25"/><circle cx="985.4" cy="1562.7" r="1.25"/><circle cx="988.0" cy="1563.5" r="1.25"/><circle cx="990.5" cy="1563.5" r="1.25"/><circle cx="993.1" cy="1563.0" r="1.25"/><circle cx="995.1" cy="1552.8" r="1.25"/><circle cx="997.7" cy="1557.1" r="1.25"/><circle cx="1000.2" cy="1559.6" r="1.25"/><circle cx="1002.8" cy="1560.9" r="1.25"/><circle cx="1005.3" cy="1557.1" r="1.25"/><circle cx="1007.9" cy="1552.8" r="1.25"/><circle cx="1010.4" cy="1564.0" r="1.25"/><circle cx="1013.0" cy="1560.4" r="1.25"/><circle cx="1025.7" cy="1797.7" r="1.25"/><circle cx="1027.0" cy="1803.8" r="1.25"/><circle cx="1029.5" cy="1759.4" r="1.25"/><circle cx="1032.1" cy="1762.4" r="1.25"/><circle cx="1034.6" cy="1782.9" r="1.25"/><circle cx="1037.2" cy="1769.6" r="1.25"/><circle cx="1042.3" cy="1782.3" r="1.25"/><circle cx="1044.8" cy="1771.4" r="1.25"/><circle cx="1047.4" cy="1756.1" r="1.25"/><circle cx="1049.4" cy="1731.8" r="1.25"/><circle cx="1052.5" cy="1751.7" r="1.25"/><circle cx="1055.1" cy="1761.2" r="1.25"/><circle cx="1057.6" cy="1744.6" r="1.25"/><circle cx="1060.2" cy="1748.4" r="1.25"/><circle cx="1062.7" cy="1752.2" r="1.25"/><circle cx="1065.3" cy="1759.4" r="1.25"/><circle cx="1067.8" cy="1750.2" r="1.25"/><circle cx="1070.4" cy="1761.9" r="1.25"/><circle cx="1072.9" cy="1750.2" r="1.25"/><circle cx="1075.5" cy="1731.8" r="1.25"/><circle cx="1078.0" cy="1725.5" r="1.25"/><circle cx="1080.6" cy="1739.5" r="1.25"/><circle cx="1083.1" cy="1730.6" r="1.25"/><circle cx="1085.7" cy="1739.5" r="1.25"/><circle cx="1088.2" cy="1739.0" r="1.25"/><circle cx="1090.8" cy="1747.1" r="1.25"/><circle cx="1093.3" cy="1733.1" r="1.25"/><circle cx="1095.9" cy="1739.5" r="1.25"/><circle cx="1098.4" cy="1710.9" r="1.25"/><circle cx="1101.0" cy="1726.7" r="1.25"/><circle cx="1103.5" cy="1734.4" r="1.25"/><circle cx="1106.1" cy="1725.5" r="1.25"/><circle cx="1108.6" cy="1725.5" r="1.25"/><circle cx="1111.2" cy="1711.4" r="1.25"/><circle cx="1113.7" cy="1714.0" r="1.25"/><circle cx="1116.3" cy="1712.7" r="1.25"/><circle cx="1118.8" cy="1708.9" r="1.25"/><circle cx="1121.4" cy="1719.8" r="1.25"/><circle cx="1123.9" cy="1712.7" r="1.25"/><circle cx="1126.5" cy="1706.8" r="1.25"/><circle cx="1129.0" cy="1698.2" r="1.25"/><circle cx="1131.6" cy="1712.7" r="1.25"/><circle cx="1134.1" cy="1687.2" r="1.25"/><circle cx="1136.7" cy="1705.8" r="1.25"/><circle cx="1139.2" cy="1692.3" r="1.25"/><circle cx="1141.8" cy="1699.2" r="1.25"/><circle cx="1144.3" cy="1682.1" r="1.25"/><circle cx="1146.9" cy="1685.4" r="1.25"/><circle cx="1149.4" cy="1683.4" r="1.25"/><circle cx="1152.0" cy="1692.3" r="1.25"/><circle cx="1154.5" cy="1688.5" r="1.25"/><circle cx="1157.1" cy="1691.0" r="1.25"/><circle cx="1159.6" cy="1686.4" r="1.25"/><circle cx="1162.2" cy="1683.4" r="1.25"/><circle cx="1164.7" cy="1679.5" r="1.25"/><circle cx="1167.3" cy="1672.7" r="1.25"/><circle cx="1169.8" cy="1666.8" r="1.25"/><circle cx="1172.4" cy="1670.6" r="1.25"/><circle cx="1174.9" cy="1659.1" r="1.25"/><circle cx="1177.5" cy="1666.8" r="1.25"/><circle cx="1180.1" cy="1656.6" r="1.25"/><circle cx="1182.6" cy="1659.1" r="1.25"/><circle cx="1185.2" cy="1652.8" r="1.25"/><circle cx="1187.7" cy="1639.5" r="1.25"/><circle cx="1190.3" cy="1643.8" r="1.25"/><circle cx="1192.8" cy="1648.2" r="1.25"/><circle cx="1195.4" cy="1646.4" r="1.25"/><circle cx="1197.9" cy="1645.6" r="1.25"/><circle cx="1200.5" cy="1640.0" r="1.25"/><circle cx="1203.0" cy="1629.8" r="1.25"/><circle cx="1205.6" cy="1627.2" r="1.25"/><circle cx="1208.1" cy="1617.6" r="1.25"/><circle cx="1210.7" cy="1632.3" r="1.25"/><circle cx="1213.2" cy="1617.0" r="1.25"/><circle cx="1215.8" cy="1620.9" r="1.25"/><circle cx="1218.3" cy="1624.2" r="1.25"/><circle cx="1220.9" cy="1615.8" r="1.25"/><circle cx="1223.4" cy="1617.0" r="1.25"/><circle cx="1226.0" cy="1603.0" r="1.25"/><circle cx="1228.5" cy="1619.6" r="1.25"/><circle cx="1231.1" cy="1605.6" r="1.25"/><circle cx="1233.6" cy="1604.3" r="1.25"/><circle cx="1236.2" cy="1589.5" r="1.25"/><circle cx="1238.7" cy="1601.7" r="1.25"/><circle cx="1241.3" cy="1602.5" r="1.25"/><circle cx="1243.8" cy="1589.0" r="1.25"/><circle cx="1246.4" cy="1589.0" r="1.25"/><circle cx="1248.9" cy="1590.3" r="1.25"/><circle cx="1251.5" cy="1587.7" r="1.25"/><circle cx="1254.0" cy="1586.4" r="1.25"/><circle cx="1256.6" cy="1566.0" r="1.25"/><circle cx="1259.1" cy="1571.6" r="1.25"/><circle cx="1261.7" cy="1563.5" r="1.25"/><circle cx="1264.2" cy="1576.7" r="1.25"/><circle cx="1266.8" cy="1569.1" r="1.25"/><circle cx="1269.3" cy="1550.7" r="1.25"/><circle cx="1271.9" cy="1576.2" r="1.25"/></g>
<path d="M761.7 1730.6L985.4 1538.0M1021.4 1793.6L1277.5 1567.8" stroke="#f02020" stroke-width="1.3" fill="none"/>
<path d="M810.2 1810.4v3M860.4 1810.4v3M911.4 1810.4v3M962.4 1810.4v3M1012.4 1810.4v3M1070.4 1810.4v3M1121.4 1810.4v3M1172.4 1810.4v3M1223.4 1810.4v3M1274.4 1810.4v3" stroke="#b9b9b9" stroke-width="1.4"/>
<path d="M845.6 1692.3L825.6 1661.3" stroke="#000" stroke-width="1.1" fill="none" marker-end="url(#ahs)"/>
</svg>
<div class="r" style="left:946.1px;top:1588.5px;width:232.7px;height:48.9px;background:#fff;border:1.3px solid #000;box-sizing:border-box;"></div>
<div class="r" style="left:845.9px;top:1665.5px;width:159.9px;height:54.3px;background:#fff;border:1.3px solid #000;box-sizing:border-box;"></div>
<div class="t s" style="left:269.7px;top:1366.8px;font-size:23.3px;transform:translateX(-50%);transform-origin:50% 0;"><b>Client 1</b></div>
<div class="t s" style="left:269.9px;top:1408.6px;font-size:23.3px;transform:translateX(-50%);transform-origin:50% 0;">Dataset 1</div>
<div class="t s" style="left:269.7px;top:1488.5px;font-size:23.3px;transform:translateX(-50%);transform-origin:50% 0;"><b>Client <span style="color:#f01818"><i>k</i></span></b></div>
<div class="t s" style="left:269.9px;top:1528.0px;font-size:23.3px;transform:translateX(-50%) scaleX(1.0641);transform-origin:50% 0;"><span style="color:#f01818"><b><i>q</i></b>(<b><i>z</i></b>)</span><b>:</b> Dataset <span style="color:#f01818"><b><i>k</i></b></span></div>
<div class="t s" style="left:263.4px;top:1629.3px;font-size:20.7px;transform:translateX(-50%) scaleX(1.0883);transform-origin:50% 0;"><b><i>p</i></b>(<b><i>z</i></b>)<b>:</b> Average</div>
<div class="t s" style="left:263.4px;top:1654.3px;font-size:20.7px;transform:translateX(-50%);transform-origin:50% 0;">Distribution</div>
<div class="t s" style="left:416.8px;top:1630.0px;font-size:20.7px;transform:translateX(-50%) scaleX(1.0607);transform-origin:50% 0;"><b><i>&theta;</i></b><sup><b>Avg</b></sup><b>:</b> Average</div>
<div class="t s" style="left:416.6px;top:1655.0px;font-size:20.7px;transform:translateX(-50%);transform-origin:50% 0;">Parameter</div>
<div class="t s" style="left:421.0px;top:1391.5px;font-size:24px;transform:translateX(-50%);transform-origin:50% 0;"><b><i>&theta;</i></b><sup style="font-size:78%;top:-.42em"><b>(1)</b></sup></div>
<div class="t s" style="left:421.0px;top:1511.4px;font-size:24px;transform:translateX(-50%);transform-origin:50% 0;"><span style="color:#f01818"><b><i>&theta;</i></b><sup style="font-size:78%;top:-.42em"><b><i>(k)</i></b></sup></span></div>
<div class="t s" style="left:618.0px;top:1374.2px;font-size:28.7px;transform:translateX(-50%);transform-origin:50% 0;"><b>Server</b></div>
<div class="t s" style="left:618.2px;top:1399.7px;font-size:20.8px;transform:translateX(-50%);transform-origin:50% 0;">Detect and discard suspicious</div>
<div class="t s" style="left:617.6px;top:1425.2px;font-size:20.8px;transform:translateX(-50%);transform-origin:50% 0;">clients with high <span style="color:#f01818"><b>f-divergence</b></span></div>
<div class="t s" style="left:618.2px;top:1450.2px;font-size:20.8px;transform:translateX(-50%) scaleX(0.9957);transform-origin:50% 0;"><span style="color:#f01818"><b>indicators</b></span>, and aggregate</div>
<div class="t s" style="left:618.3px;top:1475.2px;font-size:20.8px;transform:translateX(-50%);transform-origin:50% 0;">updates of other clean clients</div>
<div class="t s" style="left:505.0px;top:1510.2px;font-size:20.8px;transform:scaleX(0.9827);">(set <b><i>S</i></b>):</div>
<div class="t s" style="left:584.5px;top:1510.2px;font-size:20.8px;transform:scaleX(1.1093);"><b><i>&theta;</i></b><sup style="font-size:72%;top:-.5em"><b>Server</b></sup></div>
<div class="t s" style="left:653.4px;top:1510.2px;font-size:20.8px;">=</div>
<div class="t s" style="left:701.5px;top:1499.2px;font-size:18px;transform:translateX(-50%) scaleX(1.1457);transform-origin:50% 0;">&Sigma;<sub style="font-size:72%;top:.2em"><b><i>i</i></b><span style="font-size:80%">&#1108;</span><b><i>S</i></b></sub>&#8201;<b><i>&theta;</i></b><sup style="font-size:70%;top:-.45em"><b>(<b><i>i</i></b>)</b></sup></div>
<div class="r" style="left:671.5px;top:1704.5px;width:59.9px;height:1.1px;background:#000"></div>
<div class="t s" style="left:702.1px;top:1520.4px;font-size:15.5px;transform:translateX(-50%);transform-origin:50% 0;">|<b><i>S</i></b>|</div>
<div class="t s" style="left:614.6px;top:1542.8px;font-size:18.2px;transform:translateX(-50%) scaleX(0.9844);transform-origin:50% 0;"><b>Motivation:</b></div>
<div class="t s" style="left:614.8px;top:1565.0px;font-size:18.2px;transform:translateX(-50%);transform-origin:50% 0;">Poisonous clients have larger</div>
<div class="t s" style="left:613.9px;top:1585.4px;font-size:18.2px;transform:translateX(-50%) scaleX(1.0853);transform-origin:50% 0;">divergence <b><i>D</i></b><sub style="font-size:80%;top:.28em"><b><i>f</i></b></sub>(<span style="color:#f01818"><b><i>q</i></b></span>||<b><i>p</i></b>), <b><i>p</i></b> and <span style="color:#f01818"><b><i>q</i></b></span></div>
<div class="t s" style="left:614.5px;top:1609.6px;font-size:18.2px;transform:translateX(-50%) scaleX(0.9961);transform-origin:50% 0;">are invisible. Thus, we utilize</div>
<div class="t s" style="left:614.5px;top:1632.6px;font-size:18.2px;transform:translateX(-50%) scaleX(1.1144);transform-origin:50% 0;"><b><i>&delta;</i></b> = <span style="color:#f01818"><b><i>&theta;</i></b><sup style="font-size:72%;top:-.5em"><b><i>(k)</i></b></sup></span> &minus; <b><i>&theta;</i></b><sup style="font-size:72%;top:-.5em"><b><i>Avg</i></b></sup> to estimate</div>
<div class="t s" style="left:617.0px;top:1654.3px;font-size:18.2px;transform:translateX(-50%) scaleX(1.0032);transform-origin:50% 0;"><b><i>D</i></b><sub style="font-size:80%;top:.28em"><b><i>f</i></b></sub> between <span style="color:#f01818"><b>Client <i>k</i></b></span> and <b>others</b>.</div>
<div class="t s" style="left:763.5px;top:1364.2px;font-size:18px;transform:scaleX(1.0644);"><b>||<b><i>&delta;</i></b>||(&radic;<span style="border-top:.07em solid #000;padding-top:.0em">Euclidean</span>)</b></div>
<div class="t s" style="left:1028.5px;top:1363.5px;font-size:18px;transform:scaleX(1.0095);"><b>&radic;<span style="border-top:.07em solid #000;padding-top:.0em">F&minus;Divergence Indicator&nbsp;</span></b></div>
<div class="t s" style="left:1062.3px;top:1408.9px;font-size:18.2px;transform:translateX(-50%) scaleX(0.9963);transform-origin:50% 0;"><b>Baseline Backdoor Attack</b></div>
<div class="t s" style="left:1061.8px;top:1429.8px;font-size:18.2px;transform:translateX(-50%) scaleX(0.9931);transform-origin:50% 0;"><b>Success Rate (ASR) = 71.6%</b></div>
<div class="t s" style="left:850.3px;top:1485.9px;font-size:17.9px;transform:scaleX(0.9979);"><b>Trails with</b></div>
<div class="t s" style="left:850.3px;top:1508.9px;font-size:17.9px;transform:scaleX(1.0799);"><b>(&radic;<span style="border-top:.07em solid #000;padding-top:.0em"><b><i>D</i></b><sub style="font-size:80%;top:.28em"><b><i>f</i></b></sub></span>, &radic;<span style="border-top:.07em solid #000;padding-top:.0em">Indicator&nbsp;</span>)</b></div>
<div class="t s" style="left:958.9px;top:1539.5px;font-size:18.2px;transform:translateX(-100%) scaleX(0.9965);transform-origin:100% 0;"><b>Correlation = 0.9065</b></div>
<div class="t s" style="left:957.8px;top:1561.2px;font-size:18.2px;transform:translateX(-100%) scaleX(0.9872);transform-origin:100% 0;"><b>ASR = 58.5%</b></div>
<div class="t s" style="left:1274.5px;top:1539.5px;font-size:18.2px;transform:translateX(-100%) scaleX(0.9915);transform-origin:100% 0;"><b>Correlation = 0.9874</b></div>
<div class="t s" style="left:1273.3px;top:1561.2px;font-size:18.2px;transform:translateX(-100%) scaleX(0.9843);transform-origin:100% 0;"><b>ASR = 19.5%</b></div>
<div class="t s" style="left:935.9px;top:1593.0px;font-size:20.2px;transform:scaleX(1.1096);"><b><i>D</i></b><sub style="font-size:80%;top:.28em"><b><i>f</i></b></sub>(<b><i>q</i></b>||<b><i>p</i></b>)</div>
<svg class="A" style="left:921.7px;top:1767.8px" width="90" height="44" viewBox="0 0 90 44"><path d="M0.5 27.5L3.6 25.6L8.8 41.5L14 1.3H87.4" fill="none" stroke="#000" stroke-width="1.4"/></svg>
<div class="t s" style="left:1197.4px;top:1593.0px;font-size:20.2px;transform:scaleX(1.1096);"><b><i>D</i></b><sub style="font-size:80%;top:.28em"><b><i>f</i></b></sub>(<b><i>q</i></b>||<b><i>p</i></b>)</div>
<svg class="A" style="left:1183.2px;top:1767.8px" width="90" height="44" viewBox="0 0 90 44"><path d="M0.5 27.5L3.6 25.6L8.8 41.5L14 1.3H87.4" fill="none" stroke="#000" stroke-width="1.4"/></svg>
<div class="t s" style="left:780.3px;top:1630.6px;font-size:22.3px;transform:scaleX(0.9294);">The proposed <span style="color:#f01818"><b>F-Divergence Indicator</b></span> is a more accurate</div>
<div class="t s" style="left:775.3px;top:1655.6px;font-size:22.3px;transform:scaleX(0.9892);">estimation of <b><i>D</i></b><sub style="font-size:78%;top:.25em"><b><i>f</i></b></sub>(<b><i>q</i></b>||<b><i>p</i></b>) than <b>Euclidean Indicator (||<b><i>&delta;</i></b>||<sup style="top:-.55em">2</sup>).</b></div>
<div class="r" style="left:1570.2px;top:479.0px;width:1165.6px;height:3.8px;background:#000"></div>
<div class="r" style="left:1570.2px;top:521.1px;width:1165.6px;height:1.4px;background:#000"></div>
<div class="r" style="left:1570.2px;top:1258.3px;width:1165.6px;height:1.4px;background:#000"></div>
<div class="t s" style="left:1570.0px;top:308.3px;font-size:29.3px;"><b>Algorithm 1</b> Fed-FA algorithm on server</div>
<div class="t s" style="left:1604.2px;top:358.0px;font-size:23.4px;transform:translateX(-100%);transform-origin:100% 0;">1:</div>
<div class="t s" style="left:1620.3px;top:358.0px;font-size:29.3px;transform:scaleX(1.0031);">Initialize the global parameters <span class="bi">&theta;</span><span class="ss"><span><span class="n">Server</span></span><span>0</span></span>.</div>
<div class="t s" style="left:1604.2px;top:389.4px;font-size:23.4px;transform:translateX(-100%);transform-origin:100% 0;">2:</div>
<div class="t s" style="left:1620.3px;top:389.4px;font-size:29.3px;transform:scaleX(1.0184);"><b>for</b> <span class="m">t</span> = 1, 2, &middot;&thinsp;&middot;&thinsp;&middot; , <span class="m">T</span> <b>do</b></div>
<div class="t s" style="left:1604.2px;top:428.7px;font-size:23.4px;transform:translateX(-100%);transform-origin:100% 0;">3:</div>
<div class="t s" style="left:1650.0px;top:428.7px;font-size:29.3px;transform:scaleX(0.9796);">Distribute</div>
<div class="t s" style="left:1774.0px;top:428.7px;font-size:29.3px;transform:scaleX(1.0184);"><span class="bi">&theta;</span><span class="ss"><span><span class="n">Server</span></span><span><span class="m">t</span>&minus;1</span></span></div>
<div class="t s" style="left:1854.3px;top:428.7px;font-size:29.3px;">to <span class="m">n</span> clients, and train</div>
<div class="t s" style="left:2110.5px;top:428.7px;font-size:29.3px;transform:scaleX(1.2002);"><span class="bi">&theta;</span><span class="ss"><span>(<span class="m">i</span>)</span><span><span class="m">t</span></span></span></div>
<div class="t s" style="left:2163.4px;top:428.7px;font-size:29.3px;transform:scaleX(0.9837);">on clients locally</div>
<div class="t s" style="left:2371.5px;top:428.7px;font-size:29.3px;transform:scaleX(1.1776);">(1 &le; <span class="m">i</span> &le; <span class="m">n</span>).</div>
<div class="t s" style="left:1604.2px;top:472.8px;font-size:23.4px;transform:translateX(-100%);transform-origin:100% 0;">4:</div>
<div class="t s" style="left:1650.0px;top:472.8px;font-size:29.3px;transform:scaleX(0.9835);">Gather</div>
<div class="t s" style="left:1739.5px;top:472.8px;font-size:29.3px;transform:scaleX(1.1898);">{<span class="bi">&theta;</span><span class="ss"><span>(<span class="m">i</span>)</span><span><span class="m">t</span></span></span>}<span class="ss"><span><span class="m">n</span></span><span><span class="m">i</span>=1</span></span>, <span class="u">u</span><span class="ss"><span>(<span class="m">i</span>)</span><span><span class="m">t</span></span></span> = <span class="bi">&theta;</span><span class="ss"><span>(<span class="m">i</span>)</span><span><span class="m">t</span></span></span> &minus; <span class="bi">&theta;</span><span class="ss"><span><span class="n">Server</span></span><span><span class="m">t</span>&minus;1</span></span></div>
<div class="t s" style="left:2105.3px;top:472.8px;font-size:29.3px;transform:scaleX(0.9860);">, and calculate</div>
<div class="t s" style="left:2280.5px;top:472.8px;font-size:29.3px;transform:scaleX(1.1135);"><svg class="g c" viewBox="0 0 58 100" style="width:0.58em;stroke-width:6.2;stroke-linecap:round"><path d="M9 19C6 9 15 5 28 6L55 6M41 6C38 30 31 50 24 72M3 63C2 70 8 73 17 72L45 72"/></svg><span class="ss"><span>(<span class="m">k</span>)</span><span><span class="n">F-Div</span></span></span> = <svg class="g c" viewBox="0 0 58 100" style="width:0.58em;stroke-width:6.2;stroke-linecap:round"><path d="M9 19C6 9 15 5 28 6L55 6M41 6C38 30 31 50 24 72M3 63C2 70 8 73 17 72L45 72"/></svg><sub class="n">F-Div</sub>({<span class="u">u</span><span class="ss"><span>(<span class="m">i</span>)</span><span><span class="m">t</span></span></span>}<span class="ss"><span><span class="m">n</span></span><span><span class="m">i</span>=1</span></span>, <span class="m">k</span>).</div>
<div class="t s" style="left:1604.2px;top:516.9px;font-size:23.4px;transform:translateX(-100%);transform-origin:100% 0;">5:</div>
<div class="t s" style="left:1650.0px;top:516.9px;font-size:29.3px;transform:scaleX(1.2368);"><span class="m">w</span><sub><span class="m">i</span></sub> = <span class="fr"><span>1</span><span>|<span class="m">S</span>|</span></span><svg class="g c" viewBox="0 0 36 100" style="width:0.36em;stroke-width:5;stroke-linecap:butt"><path d="M4 7H32M4 72H32M13 7V72M23 7V72"/></svg>(<span class="m">i</span><svg class="g" viewBox="0 0 60 60" style="width:.6em;height:.6em;stroke-width:4.4;vertical-align:-.04em;margin:0 .24em"><path d="M56 4H30a26 26 0 0 0 0 52H56M5 30H56"/></svg><span class="m">S</span>),</div>
<div class="t s" style="left:1872.2px;top:516.9px;font-size:29.3px;transform:scaleX(1.0236);"><span class="m">S</span> = {indexes of clients with top-</div>
<div class="t s" style="left:2266.0px;top:516.9px;font-size:29.3px;transform:scaleX(1.1056);"><span class="lf"></span><span class="fr"><span><span class="m">n</span></span><span>2</span></span> + 1<span class="rf"></span></div>
<div class="t s" style="left:2367.7px;top:516.9px;font-size:29.3px;transform:scaleX(0.9960);">smallest indicators</div>
<div class="t s" style="left:2591.8px;top:516.9px;font-size:29.3px;transform:scaleX(1.0050);"><svg class="g c" viewBox="0 0 58 100" style="width:0.58em;stroke-width:6.2;stroke-linecap:round"><path d="M9 19C6 9 15 5 28 6L55 6M41 6C38 30 31 50 24 72M3 63C2 70 8 73 17 72L45 72"/></svg><span class="ss"><span>(<span class="m">i</span>)</span><span><span class="n">F-Div</span></span></span>}.</div>
<div class="t s" style="left:1604.2px;top:573.0px;font-size:23.4px;transform:translateX(-100%);transform-origin:100% 0;">6:</div>
<div class="t s" style="left:1650.0px;top:573.0px;font-size:29.3px;transform:scaleX(0.9869);">Update</div>
<div class="t s" style="left:1742.0px;top:573.0px;font-size:29.3px;transform:scaleX(1.1379);"><span class="bi">&theta;</span><span class="ss"><span><span class="n">Server</span></span><span><span class="m">t</span></span></span> = <span class="bi">&theta;</span><span class="ss"><span><span class="n">Server</span></span><span><span class="m">t</span>&minus;1</span></span> + <svg class="g c" viewBox="0 0 80 100" style="width:0.80em;stroke-width:6.2;stroke-linecap:round"><path d="M3 70C10 75 17 68 23 58L56 5L64 72M26 50L62 50M64 72L72 69"/></svg>({<span class="u">u</span><span class="ss"><span>(<span class="m">i</span>)</span><span><span class="m">t</span></span></span>}<span class="ss"><span><span class="m">n</span></span><span><span class="m">i</span>=1</span></span>),</div>
<div class="t s" style="left:2139.0px;top:573.0px;font-size:29.3px;transform:scaleX(0.9556);">where</div>
<div class="t s" style="left:2216.0px;top:573.0px;font-size:29.3px;transform:scaleX(1.2227);"><svg class="g c" viewBox="0 0 80 100" style="width:0.80em;stroke-width:6.2;stroke-linecap:round"><path d="M3 70C10 75 17 68 23 58L56 5L64 72M26 50L62 50M64 72L72 69"/></svg>({<span class="u">u</span><span class="ss"><span>(<span class="m">i</span>)</span><span><span class="m">t</span></span></span>}<span class="ss"><span><span class="m">n</span></span><span><span class="m">i</span>=1</span></span>) = <span class="op "><span><span class="m">n</span></span><span class="os">&sum;</span><span><span class="m">i</span>=1</span></span><span class="m">w</span><sub><span class="m">i</span></sub><span class="u">u</span><span class="ss"><span>(<span class="m">i</span>)</span><span><span class="m">t</span></span></span>.</div>
<div class="t s" style="left:1604.2px;top:626.4px;font-size:23.4px;transform:translateX(-100%);transform-origin:100% 0;">7:</div>
<div class="t s" style="left:1620.3px;top:626.4px;font-size:29.3px;transform:scaleX(0.9787);"><b>end for</b></div>
<div class="t s" style="left:1604.2px;top:659.0px;font-size:23.4px;transform:translateX(-100%);transform-origin:100% 0;">8:</div>
<div class="t s" style="left:1620.3px;top:659.0px;font-size:29.3px;transform:scaleX(1.0860);"><b>function</b> <svg class="g c" viewBox="0 0 58 100" style="width:0.58em;stroke-width:6.2;stroke-linecap:round"><path d="M9 19C6 9 15 5 28 6L55 6M41 6C38 30 31 50 24 72M3 63C2 70 8 73 17 72L45 72"/></svg><sub class="n">F-Div</sub>({<span class="u">u</span><span class="ss"><span>(<span class="m">i</span>)</span><span><span class="m">t</span></span></span>}<span class="ss"><span><span class="m">n</span></span><span><span class="m">i</span>=1</span></span>, <span class="m">k</span>):</div>
<div class="t s" style="left:1604.2px;top:699.0px;font-size:23.4px;transform:translateX(-100%);transform-origin:100% 0;">9:</div>
<div class="t s" style="left:1650.0px;top:699.0px;font-size:29.3px;transform:scaleX(1.2431);"><span class="bi">&delta;</span> = <span class="u">u</span><span class="ss"><span>(<span class="m">k</span>)</span><span><span class="m">t</span></span></span> &minus; <span class="fr"><span>1</span><span><span class="m">n</span></span></span> &sum;<span class="ss"><span><span class="m">n</span></span><span><span class="m">i</span>=1</span></span> <span class="u">u</span><span class="ss"><span>(<span class="m">i</span>)</span><span><span class="m">t</span></span></span></div>
<div class="t s" style="left:1939.5px;top:699.0px;font-size:29.3px;transform:scaleX(1.0333);">, let</div>
<div class="t s" style="left:1993.4px;top:699.0px;font-size:29.3px;transform:scaleX(1.2141);"><span class="m">u</span><span class="ss"><span>(<span class="m">i</span>)</span><span><span class="m">k</span></span></span></div>
<div class="t s" style="left:2044.5px;top:699.0px;font-size:29.3px;transform:scaleX(1.0088);">denote the <span class="m">k</span>-th dimension of</div>
<div class="t s" style="left:2391.4px;top:699.0px;font-size:29.3px;transform:scaleX(1.2004);"><span class="u">u</span><span class="ss"><span>(<span class="m">i</span>)</span><span><span class="m">t</span></span></span>.</div>
<div class="t s" style="left:1604.2px;top:729.6px;font-size:23.4px;transform:translateX(-100%);transform-origin:100% 0;">10:</div>
<div class="t s" style="left:1649.8px;top:729.6px;font-size:29.3px;transform:scaleX(0.9926);">// Dataset Synthesization:</div>
<div class="t s" style="left:1604.2px;top:762.8px;font-size:23.4px;transform:translateX(-100%);transform-origin:100% 0;">11:</div>
<div class="t s" style="left:1650.0px;top:762.8px;font-size:29.3px;transform:scaleX(0.9946);">Synthetize dataset</div>
<div class="t s" style="left:1869.7px;top:762.8px;font-size:29.3px;transform:scaleX(1.1901);"><svg class="g c" viewBox="0 0 78 100" style="width:0.78em;stroke-width:6.2;stroke-linecap:round"><path d="M24 9C22 30 17 55 9 72M7 10C32 2 72 6 72 36C72 60 42 75 3 72"/></svg><sup class="n">Syn</sup> = {<span class="u">z</span><sub><span class="m">j</span></sub> = (<span class="u">x</span><sub><span class="m">j</span></sub>, <span class="m">y</span><sub><span class="m">j</span></sub>)}</div>
<div class="t s" style="left:2162.1px;top:762.8px;font-size:29.3px;transform:scaleX(0.9888);">with unlabeled texts</div>
<div class="t s" style="left:2404.6px;top:762.8px;font-size:29.3px;transform:scaleX(1.2574);"><span class="u">x</span><sub><span class="m">j</span></sub></div>
<div class="t s" style="left:2441.5px;top:762.8px;font-size:29.3px;transform:scaleX(0.9968);">and random labels</div>
<div class="t s" style="left:2663.0px;top:762.8px;font-size:29.3px;transform:scaleX(1.3092);"><span class="m">y</span><sub><span class="m">j</span></sub>.</div>
<div class="t s" style="left:1604.2px;top:805.0px;font-size:23.4px;transform:translateX(-100%);transform-origin:100% 0;">12:</div>
<div class="t s" style="left:1649.8px;top:805.0px;font-size:29.3px;transform:scaleX(1.1773);"><span class="m">&#292;</span><span class="ss"><span><span class="st">*</span></span><span><span class="m">k</span></span></span> = <svg class="g c" viewBox="0 0 62 100" style="width:0.62em;stroke-width:5;stroke-linecap:butt"><path d="M56 20V7H6V72H58V58M16 7V72M6 7H2M6 72H2M16 39H40M40 30V48"/></svg><sub><span class="u">z</span>~<svg class="g c" viewBox="0 0 78 100" style="width:0.78em;stroke-width:6.2;stroke-linecap:round"><path d="M24 9C22 30 17 55 9 72M7 10C32 2 72 6 72 36C72 60 42 75 3 72"/></svg><sup class="n" style="font-size:75%">Syn</sup></sub><span class="big">[</span><span class="big">(</span><svg class="g c" viewBox="0 0 66 100" style="width:0.66em;stroke-width:6.2;stroke-linecap:round"><path d="M53 24C57 11 49 4 40 7C28 12 27 40 20 58C16 68 10 74 4 70C0 66 6 60 14 62C27 66 42 75 60 70L64 61"/></svg><span class="ss"><span>&prime;</span><span><span class="m">&theta;</span><sub><span class="m">k</span></sub></span></span>(<span class="bi">&theta;</span><span class="ss"><span><span class="n">Server</span></span><span><span class="m">t</span>&minus;1</span></span>; <span class="u">z</span>)<span class="big">)</span><sup style="top:-.75em">2</sup><span class="big">]</span>.</div>
<div class="t s" style="left:1604.2px;top:836.6px;font-size:23.4px;transform:translateX(-100%);transform-origin:100% 0;">13:</div>
<div class="t s" style="left:1649.8px;top:836.6px;font-size:29.3px;transform:scaleX(0.9960);">// Embedding Hessian Reassignment according to Theorem 2:</div>
<div class="t s" style="left:1604.2px;top:898.3px;font-size:23.4px;transform:translateX(-100%);transform-origin:100% 0;">14:</div>
<div class="t s" style="left:1650.0px;top:898.3px;font-size:29.3px;transform:scaleX(1.2727);"><span class="m">&#292;</span><span class="ss"><span><span class="st">*</span></span><span><span class="m">k</span></span></span> = <span class="fr" style="font-size:72%;vertical-align:-.78em"><span><span class="op "><span class="os">&sum;</span><span><span class="m">i</span><svg class="g" viewBox="0 0 60 60" style="width:.6em;height:.6em;stroke-width:4.4;vertical-align:-.04em;margin:0 .05em"><path d="M56 4H30a26 26 0 0 0 0 52H56M5 30H56"/></svg><span class="m">E</span></span></span><span class="m">&#292;</span><span class="ss"><span><span class="st">*</span></span><span><span class="m">i</span></span></span></span><span><span class="op "><span class="os">&sum;</span><span><span class="m">j</span><svg class="g" viewBox="0 0 60 60" style="width:.6em;height:.6em;stroke-width:4.4;vertical-align:-.04em;margin:0 .05em"><path d="M56 4H30a26 26 0 0 0 0 52H56M5 30H56"/></svg><span class="m">E</span></span></span><span class="m">s</span><sub><span class="m">j</span></sub></span></span><span class="m">s</span><sub><span class="m">k</span></sub> (<span class="m">k</span><svg class="g" viewBox="0 0 60 60" style="width:.6em;height:.6em;stroke-width:4.4;vertical-align:-.04em;margin:0 .24em"><path d="M56 4H30a26 26 0 0 0 0 52H56M5 30H56"/></svg><span class="m">E</span>)</div>
<div class="t s" style="left:1951.3px;top:898.3px;font-size:29.3px;transform:scaleX(1.0160);">on embeddings <span class="m">E</span>, where</div>
<div class="t s" style="left:2254.4px;top:898.3px;font-size:29.3px;transform:scaleX(1.2402);"><span class="m">s</span><sub><span class="m">k</span></sub> = <span class="big">(</span><span class="fr"><span>1</span><span><span class="m">n</span></span></span><span class="op "><span><span class="m">n</span></span><span class="os">&sum;</span><span><span class="m">i</span>=1</span></span>|<span class="m">u</span><span class="ss"><span>(<span class="m">i</span>)</span><span><span class="m">k</span></span></span>| + <span class="m">&epsilon;</span><span class="big">)</span><sup style="top:-.8em">2</sup>, <span class="m">&epsilon;</span> = 10<sup>&minus;8</sup>.</div>
<div class="t s" style="left:1604.2px;top:981.0px;font-size:23.4px;transform:translateX(-100%);transform-origin:100% 0;">15:</div>
<div class="t s" style="left:1649.8px;top:981.0px;font-size:29.3px;transform:scaleX(0.9973);">Calculate <svg class="g c" viewBox="0 0 58 100" style="width:0.58em;stroke-width:6.2;stroke-linecap:round"><path d="M9 19C6 9 15 5 28 6L55 6M41 6C38 30 31 50 24 72M3 63C2 70 8 73 17 72L45 72M27 -7L37 -17L46 -7"/></svg><sub class="n">F-Div</sub> according to Theorem</div>
<div class="t s" style="left:1604.2px;top:1040.6px;font-size:23.4px;transform:translateX(-100%);transform-origin:100% 0;">16:</div>
<div class="t s" style="left:1649.8px;top:1040.6px;font-size:29.3px;transform:scaleX(0.9848);"><b>return</b> <svg class="g c" viewBox="0 0 58 100" style="width:0.58em;stroke-width:6.2;stroke-linecap:round"><path d="M9 19C6 9 15 5 28 6L55 6M41 6C38 30 31 50 24 72M3 63C2 70 8 73 17 72L45 72M27 -7L37 -17L46 -7"/></svg><sub class="n">F-Div</sub>.</div>
<div class="t s" style="left:2108.0px;top:981.0px;font-size:29.3px;">1:</div>
<div class="t s" style="left:2139.0px;top:981.0px;font-size:29.3px;transform:scaleX(1.1464);"><svg class="g c" viewBox="0 0 58 100" style="width:0.58em;stroke-width:6.2;stroke-linecap:round"><path d="M9 19C6 9 15 5 28 6L55 6M41 6C38 30 31 50 24 72M3 63C2 70 8 73 17 72L45 72M27 -7L37 -17L46 -7"/></svg><sub class="n">F-Div</sub> = <span class="op "><span><span class="m">d</span></span><span class="os">&sum;</span><span><span class="m">k</span>=1</span></span><span class="m">&#292;</span><span class="ss"><span><span class="st">*</span></span><span><span class="m">k</span></span></span><span class="m">&delta;</span><span class="ss"><span>2</span><span><span class="m">k</span></span></span>.</div>
<div class="r" style="left:2350.8px;top:1015.5px;width:19.5px;height:29.5px;border:1.2px solid #f22;box-sizing:border-box"></div>
<div class="r" style="left:2104.0px;top:1133.6px;width:19.8px;height:79px;border:1.2px solid #f22;box-sizing:border-box"></div>
<div class="t s" style="left:590.5px;top:543.9px;font-size:30.5px;transform:scaleX(0.9838);">Inf</div>
<div class="t s" style="left:606.9px;top:566.8px;font-size:23.5px;transform:translateX(-50%) scaleX(1.1402);transform-origin:50% 0;"><span class="m">p</span>(<span class="u">z</span>),<span class="m">q</span>(<span class="u">z</span>)</div>
<div class="t s" style="left:688.5px;top:543.9px;font-size:30.5px;transform:scaleX(1.1896);"><span class="m">D</span><sub><span class="m">f</span></sub><span class="sp" style="width:0.07em"></span><span class="big">(</span><span class="m">q</span>(<span class="u">z</span>)||<span class="m">p</span>(<span class="u">z</span>)<span class="big">)</span>,</div>
<div class="t s" style="left:1231.5px;top:543.9px;font-size:30.5px;transform:scaleX(0.9416);">(1)</div>
<div class="t s" style="left:214.0px;top:611.5px;font-size:30.5px;transform:scaleX(1.0021);">subject to</div>
<div class="t s" style="left:364.0px;top:611.5px;font-size:30.5px;transform:scaleX(1.1080);"><span class="bi">&theta;</span><sup style="top:-.4em">*</sup> = arg min <svg class="g c" viewBox="0 0 66 100" style="width:0.66em;stroke-width:6.2;stroke-linecap:round"><path d="M53 24C57 11 49 4 40 7C28 12 27 40 20 58C16 68 10 74 4 70C0 66 6 60 14 62C27 66 42 75 60 70L64 61"/></svg><span class="big">(</span><span class="bi">&theta;</span>; <span class="m">p</span>(<span class="u">z</span>)<span class="big">)</span>,</div>
<div class="t s" style="left:486.3px;top:637.6px;font-size:21.35px;transform:translateX(-50%);transform-origin:50% 0;"><span class="bi">&theta;</span></div>
<div class="t s" style="left:717.8px;top:611.5px;font-size:30.5px;transform:scaleX(1.1087);"><span class="bi">&theta;</span><sup style="top:-.4em">*</sup> + <span class="bi">&delta;</span> = arg min <svg class="g c" viewBox="0 0 66 100" style="width:0.66em;stroke-width:6.2;stroke-linecap:round"><path d="M53 24C57 11 49 4 40 7C28 12 27 40 20 58C16 68 10 74 4 70C0 66 6 60 14 62C27 66 42 75 60 70L64 61"/></svg><span class="big">(</span><span class="bi">&theta;</span>; <span class="m">q</span>(<span class="u">z</span>)<span class="big">)</span>,</div>
<div class="t s" style="left:893.8px;top:637.6px;font-size:21.35px;transform:translateX(-50%);transform-origin:50% 0;"><span class="bi">&theta;</span></div>
<div class="t s" style="left:1231.5px;top:611.5px;font-size:30.5px;transform:scaleX(0.9416);">(2)</div>
<div class="t s" style="left:166.0px;top:841.3px;font-size:27.4px;"><b>Theorem 1</b> (F-Divergence Lower Bound)<b>.</b>&nbsp; <i>The lower bound of f-divergence is:</i></div>
<div class="t s" style="left:353.0px;top:931.1px;font-size:30px;transform:scaleX(1.0604);"><span class="m">D</span><sub><span class="m">f</span></sub><span class="sp" style="width:0.07em"></span><span class="big">(</span><span class="m">q</span>(<span class="u">z</span>)||<span class="m">p</span>(<span class="u">z</span>)<span class="big">)</span> &ge; <span class="big">(</span>1 + <span class="m">o</span>(1)<span class="big">)</span><span class="fr" style="font-size:100%;vertical-align:-.62em;margin:0 .02em 0 .1em"><span><span class="m">f</span>&#8202;&Prime;(1)</span><span>2</span></span><svg class="g c" viewBox="0 0 58 100" style="width:0.58em;stroke-width:6.2;stroke-linecap:round"><path d="M9 19C6 9 15 5 28 6L55 6M41 6C38 30 31 50 24 72M3 63C2 70 8 73 17 72L45 72"/></svg><sub><i>F-Div</i></sub>,</div>
<div class="t s" style="left:858.0px;top:931.1px;font-size:30px;transform:scaleX(1.0747);"><svg class="g c" viewBox="0 0 58 100" style="width:0.58em;stroke-width:6.2;stroke-linecap:round"><path d="M9 19C6 9 15 5 28 6L55 6M41 6C38 30 31 50 24 72M3 63C2 70 8 73 17 72L45 72"/></svg><sub><i>F-Div</i></sub> = <span class="op D"><span><span class="m">d</span></span><span class="os">&sum;</span><span><span class="m">k</span>=1</span></span><span class="m">H</span><span class="ss"><span><span class="st">*</span></span><span><span class="m">k</span></span></span><span class="m">&delta;</span><span class="ss"><span>2</span><span><span class="m">k</span></span></span>,</div>
<div class="t s" style="left:1230.2px;top:931.1px;font-size:27.4px;transform:scaleX(0.9702);">(3)</div>
<div class="t s" style="left:166.8px;top:1022.4px;font-size:27.4px;transform:scaleX(1.1418);"><i>where </i><span class="m">H</span><span class="ss"><span><span class="st">*</span></span><span><span class="m">k</span></span></span> = <span class="m">H</span><sub><span class="m">k</span></sub><span class="big">(</span><span class="bi">&theta;</span><sup style="top:-.4em">*</sup>; <span class="m">p</span>(<span class="u">z</span>)<span class="big">)</span> = <svg class="g c" viewBox="0 0 66 100" style="width:0.66em;stroke-width:6.2;stroke-linecap:round"><path d="M53 24C57 11 49 4 40 7C28 12 27 40 20 58C16 68 10 74 4 70C0 66 6 60 14 62C27 66 42 75 60 70L64 61"/></svg><span class="ss"><span>&Prime;</span><span><span class="m">&theta;</span><sub><span class="m">k</span></sub></span></span><span class="big">(</span><span class="bi">&theta;</span><sup style="top:-.4em">*</sup>; <span class="m">p</span>(<span class="u">z</span>)<span class="big">)</span> &gt; 0</div>
<div class="t s" style="left:717.6px;top:1022.4px;font-size:27.4px;transform:scaleX(1.0499);"><i>is the </i><span class="m">i</span><i>-th Hessian of loss on </i><span class="m">p</span>(<span class="u">z</span>)<i> and </i><span class="m">f</span>&#8202;&Prime;(1) &gt; 0<i>.</i></div>
<div class="t s" style="left:143.0px;top:1729.0px;font-size:30.3px;transform:scaleX(0.9978);">Figure 1: Illustration of Fed-FA. Euclidean indicator is</div>
<div class="t s" style="left:809.5px;top:1729.0px;font-size:30.3px;transform:scaleX(1.2074);"><svg class="g c" viewBox="0 0 58 100" style="width:0.58em;stroke-width:6.2;stroke-linecap:round"><path d="M9 19C6 9 15 5 28 6L55 6M41 6C38 30 31 50 24 72M3 63C2 70 8 73 17 72L45 72"/></svg><sub class="n">Euc</sub> = &sum;<span class="ss"><span><span class="m">d</span></span><span><span class="m">k</span>=1</span></span> <span class="m">&delta;</span><span class="ss"><span>2</span><span><span class="m">k</span></span></span> = <span class="nb">||</span><span class="bi">&delta;</span><span class="nb">||</span><sup>2</sup></div>
<div class="t s" style="left:1117.0px;top:1729.0px;font-size:30.3px;transform:scaleX(0.9860);">and f-divergence</div>
<div class="t s" style="left:143.0px;top:1769.8px;font-size:30.3px;transform:scaleX(0.9618);">indicator is</div>
<div class="t s" style="left:282.0px;top:1769.8px;font-size:30.3px;transform:scaleX(1.1607);"><svg class="g c" viewBox="0 0 58 100" style="width:0.58em;stroke-width:6.2;stroke-linecap:round"><path d="M9 19C6 9 15 5 28 6L55 6M41 6C38 30 31 50 24 72M3 63C2 70 8 73 17 72L45 72"/></svg><sub class="n">F-Div</sub> = &sum;<span class="ss"><span><span class="m">d</span></span><span><span class="m">k</span>=1</span></span> <span class="m">H</span><span class="ss"><span><span class="st">*</span></span><span><span class="m">k</span></span></span><span class="m">&delta;</span><span class="ss"><span>2</span><span><span class="m">k</span></span></span>,</div>
<div class="t s" style="left:553.5px;top:1769.8px;font-size:30.3px;transform:scaleX(0.9835);">where <span class="m">H</span><span class="ss"><span><span class="st">*</span></span><span><span class="m">k</span></span></span> is the <span class="m">k</span>-th Hessian.&nbsp; ASRs are averaged on all attacks.</div>
<div class="t s" style="left:138.0px;top:2008.8px;font-size:29.4px;transform:scaleX(1.0302);"><b>Theorem 2</b> (Hessian Estimations by Diffusion Theory.&nbsp; Brief.&nbsp; Detailed Version in Appendix A)<b>.</b></div>
<div class="t s" style="left:138.0px;top:2040.2px;font-size:29.4px;transform:scaleX(0.9534);"><i>When</i></div>
<div class="t s" style="left:211.5px;top:2040.2px;font-size:29.4px;transform:scaleX(1.3982);"><svg class="g" viewBox="0 0 50 120" preserveAspectRatio="none" style="width:.5em;height:1.3em;stroke-width:4.2;vertical-align:-.32em;margin-right:-.01em"><path d="M2 70L10 64L24 112L48 3" stroke-linejoin="miter"/></svg><span class="sq"><span class="m">H</span><span class="ss"><span><span class="st">*</span></span><span><span class="m">k</span></span></span></span></div>
<div class="t s" style="left:286.6px;top:2040.2px;font-size:29.4px;transform:scaleX(0.9940);"><i>is small, the following expression holds in probability:</i></div>
<div class="t s" style="left:595.5px;top:2118.7px;font-size:32.5px;transform:scaleX(1.1803);"><svg class="g" viewBox="0 0 50 120" preserveAspectRatio="none" style="width:.5em;height:1.3em;stroke-width:4.2;vertical-align:-.32em;margin-right:-.01em"><path d="M2 70L10 64L24 112L48 3" stroke-linejoin="miter"/></svg><span class="sq"><span class="m">H</span><span class="ss"><span><span class="st">*</span></span><span><span class="m">k</span></span></span></span><svg class="g" viewBox="0 0 70 44" style="width:.72em;height:.45em;stroke-width:4.6;vertical-align:.04em;margin:0 .16em"><path d="M67 4C48 4 40 40 20 40C8 40 3 31 3 22C3 13 8 4 20 4C40 4 48 40 67 40"/></svg><span class="fr" style="font-size:100%;vertical-align:-.62em"><span>1</span><span><span class="m">n</span></span></span><span class="op D"><span><span class="m">n</span></span><span class="os">&sum;</span><span><span class="m">i</span>=1</span></span>|<span class="m">u</span><span class="ss"><span>(<span class="m">i</span>)</span><span><span class="m">k</span></span></span>|.</div>
<div class="t s" style="left:1270.5px;top:2118.7px;font-size:29.4px;transform:scaleX(0.9626);">(5)</div>
<div class="t s" style="left:141.3px;top:2308.8px;font-size:29.3px;"><b>Theorem 3</b> (Byzantine Resilience of Fed-FA. Brief. Detailed Version in Appendix A)<b>.</b>&nbsp; <i>Suppose the</i></div>
<div class="t s" style="left:141.3px;top:2340.2px;font-size:29.3px;transform:scaleX(1.0180);"><i>malicious client number is</i></div>
<div class="t s" style="left:465.7px;top:2340.2px;font-size:29.3px;transform:scaleX(1.2427);"><span class="m">m</span><i>, </i>1 &le; <span class="m">m</span> &le; <span class="lf"></span><span class="fr"><span><span class="m">n</span>&minus;1</span><span>2</span></span><span class="rf"></span><i>,</i></div>
<div class="t s" style="left:724.4px;top:2340.2px;font-size:29.3px;transform:scaleX(1.0159);"><i>when indicator estimations are accurate enough,</i></div>
<div class="t s" style="left:141.3px;top:2372.0px;font-size:29.3px;transform:scaleX(0.9762);"><i>there exists</i></div>
<div class="t s" style="left:279.0px;top:2372.0px;font-size:29.3px;transform:scaleX(1.1951);">0 &le; <span class="m">&alpha;</span> &lt; <span class="fr"><span><span class="m">&pi;</span></span><span>2</span></span></div>
<div class="t s" style="left:420.8px;top:2372.0px;font-size:29.3px;transform:scaleX(0.9857);"><i>such that Fed-FA aggregation algorithm is</i></div>
<div class="t s" style="left:924.9px;top:2372.0px;font-size:29.3px;transform:scaleX(1.0196);">(<span class="m">&alpha;</span>, <span class="m">m</span>)<i>-Byzantine resilience:</i></div>
<div class="t s" style="left:244.0px;top:2431.2px;font-size:31px;transform:scaleX(1.1173);"><span class="nb">||</span><svg class="g c" viewBox="0 0 62 100" style="width:0.62em;stroke-width:5;stroke-linecap:butt"><path d="M56 20V7H6V72H58V58M16 7V72M6 7H2M6 72H2M16 39H40M40 30V48"/></svg>[<svg class="g c" viewBox="0 0 80 100" style="width:0.80em;stroke-width:6.2;stroke-linecap:round"><path d="M3 70C10 75 17 68 23 58L56 5L64 72M26 50L62 50M64 72L72 69"/></svg>({<span class="u">u</span><sup>(<span class="m">i</span>)</sup>}<span class="ss"><span><span class="m">n</span></span><span><span class="m">i</span>=1</span></span>)] &minus; <span class="u">g</span><span class="nb">||</span><sub>2</sub> &le; sin&thinsp;<span class="m">&alpha;</span><span class="nb">||</span><span class="u">g</span><span class="nb">||</span><sub>2</sub>,</div>
<div class="t s" style="left:736.5px;top:2431.2px;font-size:31px;transform:scaleX(1.0918);"><span class="u">g</span><sup><i>T</i></sup><svg class="g c" viewBox="0 0 62 100" style="width:0.62em;stroke-width:5;stroke-linecap:butt"><path d="M56 20V7H6V72H58V58M16 7V72M6 7H2M6 72H2M16 39H40M40 30V48"/></svg>[<svg class="g c" viewBox="0 0 80 100" style="width:0.80em;stroke-width:6.2;stroke-linecap:round"><path d="M3 70C10 75 17 68 23 58L56 5L64 72M26 50L62 50M64 72L72 69"/></svg>({<span class="u">u</span><sup>(<span class="m">i</span>)</sup>}<span class="ss"><span><span class="m">n</span></span><span><span class="m">i</span>=1</span></span>)] &ge; (1 &minus; sin&thinsp;<span class="m">&alpha;</span>)<span class="nb">||</span><span class="u">g</span><span class="nb">||</span><span class="ss"><span>2</span><span>2</span></span>,</div>
<div class="t s" style="left:1273.3px;top:2431.2px;font-size:29.3px;transform:scaleX(0.9364);">(6)</div>
<div class="t s" style="left:141.3px;top:2478.7px;font-size:29.3px;transform:scaleX(1.0026);"><i>where</i></div>
<div class="t s" style="left:219.3px;top:2478.7px;font-size:29.3px;transform:scaleX(1.0930);"><span class="u">g</span> = <svg class="g c" viewBox="0 0 62 100" style="width:0.62em;stroke-width:5;stroke-linecap:butt"><path d="M56 20V7H6V72H58V58M16 7V72M6 7H2M6 72H2M16 39H40M40 30V48"/></svg>[<span class="u">u</span>]</div>
<div class="t s" style="left:336.6px;top:2478.7px;font-size:29.3px;transform:scaleX(0.9976);"><i>is the expected update for clean clients</i></div>
<div class="t s" style="left:800.9px;top:2478.7px;font-size:29.3px;transform:scaleX(0.9439);"><span class="u">u</span><i>.</i></div>
</div>
</body>
</html>
